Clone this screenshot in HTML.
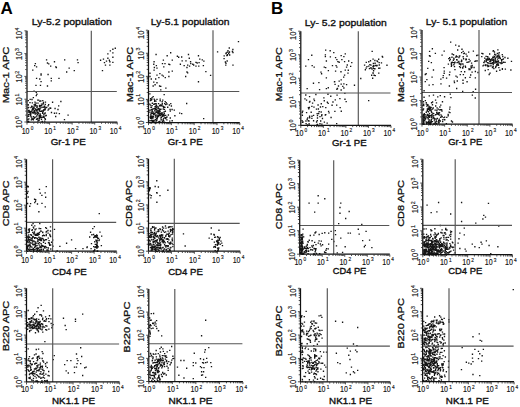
<!DOCTYPE html>
<html><head><meta charset="utf-8"><style>html,body{margin:0;padding:0;background:#fff;width:520px;height:407px;overflow:hidden}</style></head>
<body>
<svg xmlns="http://www.w3.org/2000/svg" width="520" height="407" viewBox="0 0 520 407" style="position:absolute;left:0;top:0">
<rect width="520" height="407" fill="#fff"/>
<text x="0.6" y="14.1" font-family='"Liberation Sans", sans-serif' font-weight="700" font-size="17" fill="#000">A</text>
<text x="271" y="14.1" font-family='"Liberation Sans", sans-serif' font-weight="700" font-size="17" fill="#000">B</text>
<path d="M39.9 115.7h1.35v1.35h-1.35zM44.0 113.2h1.35v1.35h-1.35zM39.8 105.0h1.35v1.35h-1.35zM28.5 110.1h1.35v1.35h-1.35zM44.7 118.6h1.35v1.35h-1.35zM40.8 103.5h1.35v1.35h-1.35zM32.4 106.2h1.35v1.35h-1.35zM41.9 112.7h1.35v1.35h-1.35zM40.1 100.3h1.35v1.35h-1.35zM39.5 113.3h1.35v1.35h-1.35zM37.2 108.6h1.35v1.35h-1.35zM41.6 121.2h1.35v1.35h-1.35zM30.7 119.2h1.35v1.35h-1.35zM35.6 91.7h1.35v1.35h-1.35zM32.9 112.3h1.35v1.35h-1.35zM42.1 99.9h1.35v1.35h-1.35zM37.3 120.3h1.35v1.35h-1.35zM34.5 113.3h1.35v1.35h-1.35zM30.4 116.1h1.35v1.35h-1.35zM34.8 104.0h1.35v1.35h-1.35zM37.1 117.9h1.35v1.35h-1.35zM34.7 116.4h1.35v1.35h-1.35zM48.0 104.0h1.35v1.35h-1.35zM45.6 114.8h1.35v1.35h-1.35zM40.4 107.0h1.35v1.35h-1.35zM33.5 111.8h1.35v1.35h-1.35zM35.5 102.5h1.35v1.35h-1.35zM33.4 117.6h1.35v1.35h-1.35zM38.8 104.7h1.35v1.35h-1.35zM38.8 109.8h1.35v1.35h-1.35zM55.0 115.8h1.35v1.35h-1.35zM27.5 107.1h1.35v1.35h-1.35zM33.8 110.2h1.35v1.35h-1.35zM54.4 107.8h1.35v1.35h-1.35zM42.5 111.0h1.35v1.35h-1.35zM42.6 103.2h1.35v1.35h-1.35zM32.6 108.7h1.35v1.35h-1.35zM31.4 110.4h1.35v1.35h-1.35zM38.4 109.5h1.35v1.35h-1.35zM37.9 112.4h1.35v1.35h-1.35zM27.8 109.8h1.35v1.35h-1.35zM31.2 117.6h1.35v1.35h-1.35zM36.4 109.6h1.35v1.35h-1.35zM29.0 111.0h1.35v1.35h-1.35zM36.2 107.0h1.35v1.35h-1.35zM37.8 108.1h1.35v1.35h-1.35zM37.3 102.5h1.35v1.35h-1.35zM32.7 115.9h1.35v1.35h-1.35zM42.0 103.4h1.35v1.35h-1.35zM44.6 106.4h1.35v1.35h-1.35zM39.7 114.7h1.35v1.35h-1.35zM30.0 115.0h1.35v1.35h-1.35zM43.2 109.0h1.35v1.35h-1.35zM32.7 96.9h1.35v1.35h-1.35zM44.5 115.2h1.35v1.35h-1.35zM27.9 113.9h1.35v1.35h-1.35zM44.8 101.4h1.35v1.35h-1.35zM36.8 117.8h1.35v1.35h-1.35zM28.0 106.7h1.35v1.35h-1.35zM34.3 103.6h1.35v1.35h-1.35zM37.5 112.7h1.35v1.35h-1.35zM39.3 110.7h1.35v1.35h-1.35zM28.7 113.5h1.35v1.35h-1.35zM27.6 100.0h1.35v1.35h-1.35zM38.7 118.0h1.35v1.35h-1.35zM33.0 107.5h1.35v1.35h-1.35zM39.0 100.5h1.35v1.35h-1.35zM43.5 116.6h1.35v1.35h-1.35zM31.4 109.3h1.35v1.35h-1.35zM39.2 114.4h1.35v1.35h-1.35zM47.4 109.5h1.35v1.35h-1.35zM34.5 111.6h1.35v1.35h-1.35zM30.1 113.8h1.35v1.35h-1.35zM43.4 106.4h1.35v1.35h-1.35zM39.2 117.1h1.35v1.35h-1.35zM44.6 108.5h1.35v1.35h-1.35zM34.1 105.5h1.35v1.35h-1.35zM30.0 112.6h1.35v1.35h-1.35zM36.1 115.3h1.35v1.35h-1.35zM33.2 110.3h1.35v1.35h-1.35zM43.6 105.5h1.35v1.35h-1.35zM38.6 116.6h1.35v1.35h-1.35zM31.3 98.8h1.35v1.35h-1.35zM27.6 104.3h1.35v1.35h-1.35zM44.5 112.3h1.35v1.35h-1.35zM42.8 101.8h1.35v1.35h-1.35zM31.6 112.2h1.35v1.35h-1.35zM37.0 111.6h1.35v1.35h-1.35zM40.8 118.7h1.35v1.35h-1.35zM41.0 105.1h1.35v1.35h-1.35zM44.4 107.3h1.35v1.35h-1.35zM39.2 114.5h1.35v1.35h-1.35zM36.2 93.6h1.35v1.35h-1.35zM34.8 108.3h1.35v1.35h-1.35zM46.0 106.8h1.35v1.35h-1.35zM36.5 106.5h1.35v1.35h-1.35zM35.8 118.5h1.35v1.35h-1.35zM37.3 111.7h1.35v1.35h-1.35zM29.5 98.7h1.35v1.35h-1.35zM39.8 116.7h1.35v1.35h-1.35zM31.5 118.4h1.35v1.35h-1.35zM44.3 108.6h1.35v1.35h-1.35zM35.9 109.9h1.35v1.35h-1.35zM42.7 115.6h1.35v1.35h-1.35zM47.4 105.2h1.35v1.35h-1.35zM40.3 115.3h1.35v1.35h-1.35zM29.6 113.5h1.35v1.35h-1.35zM30.3 106.9h1.35v1.35h-1.35zM51.9 101.6h1.35v1.35h-1.35zM36.1 110.3h1.35v1.35h-1.35zM31.1 105.4h1.35v1.35h-1.35zM38.2 119.5h1.35v1.35h-1.35zM35.4 113.1h1.35v1.35h-1.35zM44.2 117.9h1.35v1.35h-1.35zM37.3 113.0h1.35v1.35h-1.35zM37.1 114.0h1.35v1.35h-1.35zM30.9 106.1h1.35v1.35h-1.35zM41.0 117.0h1.35v1.35h-1.35zM28.2 118.2h1.35v1.35h-1.35zM42.7 109.7h1.35v1.35h-1.35zM50.0 107.6h1.35v1.35h-1.35zM30.4 110.8h1.35v1.35h-1.35zM38.4 108.4h1.35v1.35h-1.35zM42.2 106.7h1.35v1.35h-1.35zM58.7 113.0h1.35v1.35h-1.35zM28.5 109.8h1.35v1.35h-1.35zM28.0 120.8h1.35v1.35h-1.35zM42.0 112.0h1.35v1.35h-1.35zM29.9 114.4h1.35v1.35h-1.35zM32.7 119.1h1.35v1.35h-1.35zM34.0 109.7h1.35v1.35h-1.35zM41.5 120.8h1.35v1.35h-1.35zM33.6 107.3h1.35v1.35h-1.35zM39.4 105.9h1.35v1.35h-1.35zM35.5 109.3h1.35v1.35h-1.35zM29.8 111.1h1.35v1.35h-1.35zM34.3 101.5h1.35v1.35h-1.35zM28.9 111.7h1.35v1.35h-1.35zM37.1 99.5h1.35v1.35h-1.35zM27.4 121.2h1.35v1.35h-1.35zM27.7 111.4h1.35v1.35h-1.35zM49.4 107.2h1.35v1.35h-1.35zM36.5 105.2h1.35v1.35h-1.35zM36.5 109.1h1.35v1.35h-1.35zM41.3 110.3h1.35v1.35h-1.35zM33.4 104.2h1.35v1.35h-1.35zM35.1 105.1h1.35v1.35h-1.35zM40.6 110.6h1.35v1.35h-1.35zM39.4 108.1h1.35v1.35h-1.35zM27.3 119.0h1.35v1.35h-1.35zM44.1 120.5h1.35v1.35h-1.35zM32.0 112.1h1.35v1.35h-1.35zM28.0 115.6h1.35v1.35h-1.35zM29.3 102.0h1.35v1.35h-1.35zM33.7 116.8h1.35v1.35h-1.35zM50.8 111.8h1.35v1.35h-1.35zM27.4 115.6h1.35v1.35h-1.35zM38.4 119.6h1.35v1.35h-1.35zM35.6 94.9h1.35v1.35h-1.35zM37.0 114.0h1.35v1.35h-1.35zM44.6 103.8h1.35v1.35h-1.35zM35.0 116.4h1.35v1.35h-1.35zM31.7 102.2h1.35v1.35h-1.35zM39.0 108.3h1.35v1.35h-1.35zM43.0 113.5h1.35v1.35h-1.35zM42.6 116.6h1.35v1.35h-1.35zM53.8 112.6h1.35v1.35h-1.35zM38.8 106.1h1.35v1.35h-1.35zM32.0 107.8h1.35v1.35h-1.35zM35.9 118.6h1.35v1.35h-1.35zM36.4 112.0h1.35v1.35h-1.35zM37.9 99.4h1.35v1.35h-1.35zM36.7 118.3h1.35v1.35h-1.35zM38.5 115.1h1.35v1.35h-1.35zM31.6 118.6h1.35v1.35h-1.35zM44.1 109.5h1.35v1.35h-1.35zM32.1 118.2h1.35v1.35h-1.35zM27.4 104.0h1.35v1.35h-1.35zM42.4 116.3h1.35v1.35h-1.35zM48.2 108.3h1.35v1.35h-1.35zM45.9 59.2h1.35v1.35h-1.35zM53.8 61.1h1.35v1.35h-1.35zM64.0 59.2h1.35v1.35h-1.35zM76.8 59.2h1.35v1.35h-1.35zM77.4 62.0h1.35v1.35h-1.35zM46.8 62.3h1.35v1.35h-1.35zM48.1 63.2h1.35v1.35h-1.35zM34.7 63.0h1.35v1.35h-1.35zM35.9 66.2h1.35v1.35h-1.35zM34.0 64.9h1.35v1.35h-1.35zM32.1 69.4h1.35v1.35h-1.35zM50.0 65.5h1.35v1.35h-1.35zM55.1 66.2h1.35v1.35h-1.35zM55.7 66.8h1.35v1.35h-1.35zM68.5 67.5h1.35v1.35h-1.35zM66.0 71.3h1.35v1.35h-1.35zM73.6 70.0h1.35v1.35h-1.35zM40.4 73.2h1.35v1.35h-1.35zM40.4 74.5h1.35v1.35h-1.35zM47.4 73.8h1.35v1.35h-1.35zM35.9 77.7h1.35v1.35h-1.35zM39.1 78.3h1.35v1.35h-1.35zM40.4 80.9h1.35v1.35h-1.35zM50.6 77.7h1.35v1.35h-1.35zM50.6 80.2h1.35v1.35h-1.35zM58.3 77.7h1.35v1.35h-1.35zM35.3 84.7h1.35v1.35h-1.35zM39.8 84.7h1.35v1.35h-1.35zM46.8 85.3h1.35v1.35h-1.35zM33.4 90.4h1.35v1.35h-1.35zM114.6 47.6h1.35v1.35h-1.35zM112.2 48.6h1.35v1.35h-1.35zM109.7 50.2h1.35v1.35h-1.35zM107.2 53.2h1.35v1.35h-1.35zM112.2 52.2h1.35v1.35h-1.35zM112.2 56.6h1.35v1.35h-1.35zM107.2 57.6h1.35v1.35h-1.35zM102.8 58.4h1.35v1.35h-1.35zM99.9 59.6h1.35v1.35h-1.35zM105.8 60.4h1.35v1.35h-1.35zM108.7 59.6h1.35v1.35h-1.35zM109.2 61.1h1.35v1.35h-1.35zM103.8 62.0h1.35v1.35h-1.35zM112.2 61.7h1.35v1.35h-1.35zM104.8 64.5h1.35v1.35h-1.35zM109.2 64.5h1.35v1.35h-1.35zM101.8 69.9h1.35v1.35h-1.35zM60.2 100.8h1.35v1.35h-1.35zM58.0 105.2h1.35v1.35h-1.35zM57.3 108.8h1.35v1.35h-1.35zM55.8 112.4h1.35v1.35h-1.35zM67.4 114.5h1.35v1.35h-1.35zM63.8 118.9h1.35v1.35h-1.35z" fill="#151515"/>
<path d="M91.3 30.8V122.0M27.0 91.5H116.8" stroke="#555" stroke-width="1.15" fill="none"/>
<path d="M27.0 30.8V122.0H117.3" stroke="#111" stroke-width="1.25" fill="none"/>
<path d="M27.00 122.40v2.2M26.60 122.00h-2.2M33.80 122.40v1.4M26.60 115.14h-1.4M37.77 122.40v1.4M26.60 111.12h-1.4M40.59 122.40v1.4M26.60 108.27h-1.4M42.78 122.40v1.4M26.60 106.06h-1.4M44.57 122.40v1.4M26.60 104.26h-1.4M46.08 122.40v1.4M26.60 102.73h-1.4M47.39 122.40v1.4M26.60 101.41h-1.4M48.54 122.40v1.4M26.60 100.24h-1.4M49.58 122.40v2.2M26.60 99.20h-2.2M56.37 122.40v1.4M26.60 92.34h-1.4M60.35 122.40v1.4M26.60 88.32h-1.4M63.17 122.40v1.4M26.60 85.47h-1.4M65.35 122.40v1.4M26.60 83.26h-1.4M67.14 122.40v1.4M26.60 81.46h-1.4M68.65 122.40v1.4M26.60 79.93h-1.4M69.96 122.40v1.4M26.60 78.61h-1.4M71.12 122.40v1.4M26.60 77.44h-1.4M72.15 122.40v2.2M26.60 76.40h-2.2M78.95 122.40v1.4M26.60 69.54h-1.4M82.92 122.40v1.4M26.60 65.52h-1.4M85.74 122.40v1.4M26.60 62.67h-1.4M87.93 122.40v1.4M26.60 60.46h-1.4M89.72 122.40v1.4M26.60 58.66h-1.4M91.23 122.40v1.4M26.60 57.13h-1.4M92.54 122.40v1.4M26.60 55.81h-1.4M93.69 122.40v1.4M26.60 54.64h-1.4M94.72 122.40v2.2M26.60 53.60h-2.2M101.52 122.40v1.4M26.60 46.74h-1.4M105.50 122.40v1.4M26.60 42.72h-1.4M108.32 122.40v1.4M26.60 39.87h-1.4M110.50 122.40v1.4M26.60 37.66h-1.4M112.29 122.40v1.4M26.60 35.86h-1.4M113.80 122.40v1.4M26.60 34.33h-1.4M115.11 122.40v1.4M26.60 33.01h-1.4M116.27 122.40v1.4M26.60 31.84h-1.4M117.30 122.40v2.2M26.60 30.80h-2.2" stroke="#222" stroke-width="0.8" fill="none"/>
<text transform="translate(21.7,133.5) scale(0.82,1)" font-family='"Liberation Sans", sans-serif' font-size="8.6" fill="#111" stroke="#111" stroke-width="0.15">10<tspan font-size="5.8" dx="1.4" dy="-3.3">0</tspan></text>
<text transform="translate(22.0,128.4) rotate(-90) scale(0.9,1)" font-family='"Liberation Sans", sans-serif' font-size="8.4" fill="#111" stroke="#111" stroke-width="0.15">10<tspan font-size="5.8" dx="0.8" dy="-3.1">0</tspan></text>
<text transform="translate(44.3,133.5) scale(0.82,1)" font-family='"Liberation Sans", sans-serif' font-size="8.6" fill="#111" stroke="#111" stroke-width="0.15">10<tspan font-size="5.8" dx="1.4" dy="-3.3">1</tspan></text>
<text transform="translate(22.0,105.6) rotate(-90) scale(0.9,1)" font-family='"Liberation Sans", sans-serif' font-size="8.4" fill="#111" stroke="#111" stroke-width="0.15">10<tspan font-size="5.8" dx="0.8" dy="-3.1">1</tspan></text>
<text transform="translate(66.9,133.5) scale(0.82,1)" font-family='"Liberation Sans", sans-serif' font-size="8.6" fill="#111" stroke="#111" stroke-width="0.15">10<tspan font-size="5.8" dx="1.4" dy="-3.3">2</tspan></text>
<text transform="translate(22.0,82.8) rotate(-90) scale(0.9,1)" font-family='"Liberation Sans", sans-serif' font-size="8.4" fill="#111" stroke="#111" stroke-width="0.15">10<tspan font-size="5.8" dx="0.8" dy="-3.1">2</tspan></text>
<text transform="translate(89.4,133.5) scale(0.82,1)" font-family='"Liberation Sans", sans-serif' font-size="8.6" fill="#111" stroke="#111" stroke-width="0.15">10<tspan font-size="5.8" dx="1.4" dy="-3.3">3</tspan></text>
<text transform="translate(22.0,60.0) rotate(-90) scale(0.9,1)" font-family='"Liberation Sans", sans-serif' font-size="8.4" fill="#111" stroke="#111" stroke-width="0.15">10<tspan font-size="5.8" dx="0.8" dy="-3.1">3</tspan></text>
<text transform="translate(109.8,133.5) scale(0.82,1)" font-family='"Liberation Sans", sans-serif' font-size="8.6" fill="#111" stroke="#111" stroke-width="0.15">10<tspan font-size="5.8" dx="1.4" dy="-3.3">4</tspan></text>
<text transform="translate(22.0,39.5) rotate(-90) scale(0.9,1)" font-family='"Liberation Sans", sans-serif' font-size="8.4" fill="#111" stroke="#111" stroke-width="0.15">10<tspan font-size="5.8" dx="0.8" dy="-3.1">4</tspan></text>
<text x="50.65" y="145.35" font-family='"Liberation Sans", sans-serif' font-size="9.8" textLength="35.20" lengthAdjust="spacingAndGlyphs" fill="#111" stroke="#111" stroke-width="0.38">Gr-1 PE</text>
<text transform="translate(9.25,103.35) rotate(-90)" font-family='"Liberation Sans", sans-serif' font-size="9.2" textLength="56.83" lengthAdjust="spacingAndGlyphs" fill="#111" stroke="#111" stroke-width="0.3">Mac-1 APC</text>
<text x="31.70" y="25.30" font-family='"Liberation Sans", sans-serif' font-size="9.8" textLength="80.20" lengthAdjust="spacingAndGlyphs" fill="#111" stroke="#111" stroke-width="0.35">Ly-5.2 population</text>
<path d="M158.3 109.8h1.35v1.35h-1.35zM153.3 121.1h1.35v1.35h-1.35zM154.1 112.9h1.35v1.35h-1.35zM157.5 112.5h1.35v1.35h-1.35zM169.6 110.3h1.35v1.35h-1.35zM165.0 117.2h1.35v1.35h-1.35zM154.7 114.6h1.35v1.35h-1.35zM162.4 114.0h1.35v1.35h-1.35zM159.0 105.1h1.35v1.35h-1.35zM153.1 120.3h1.35v1.35h-1.35zM163.8 121.5h1.35v1.35h-1.35zM154.8 102.9h1.35v1.35h-1.35zM154.7 116.5h1.35v1.35h-1.35zM151.5 117.1h1.35v1.35h-1.35zM160.2 108.6h1.35v1.35h-1.35zM156.3 98.7h1.35v1.35h-1.35zM160.8 116.6h1.35v1.35h-1.35zM152.7 115.9h1.35v1.35h-1.35zM157.9 107.8h1.35v1.35h-1.35zM150.8 99.5h1.35v1.35h-1.35zM162.9 119.9h1.35v1.35h-1.35zM158.3 107.9h1.35v1.35h-1.35zM159.3 108.7h1.35v1.35h-1.35zM159.9 112.7h1.35v1.35h-1.35zM149.9 117.7h1.35v1.35h-1.35zM162.5 118.7h1.35v1.35h-1.35zM171.4 108.8h1.35v1.35h-1.35zM151.9 116.5h1.35v1.35h-1.35zM152.5 96.0h1.35v1.35h-1.35zM150.9 112.7h1.35v1.35h-1.35zM162.9 106.7h1.35v1.35h-1.35zM157.9 103.0h1.35v1.35h-1.35zM164.5 100.9h1.35v1.35h-1.35zM162.1 115.7h1.35v1.35h-1.35zM158.5 112.6h1.35v1.35h-1.35zM159.0 113.1h1.35v1.35h-1.35zM155.8 117.9h1.35v1.35h-1.35zM163.1 106.1h1.35v1.35h-1.35zM149.1 103.4h1.35v1.35h-1.35zM154.0 99.6h1.35v1.35h-1.35zM158.7 109.7h1.35v1.35h-1.35zM169.6 117.3h1.35v1.35h-1.35zM151.6 111.0h1.35v1.35h-1.35zM149.4 116.5h1.35v1.35h-1.35zM153.1 103.7h1.35v1.35h-1.35zM163.8 108.7h1.35v1.35h-1.35zM155.4 106.6h1.35v1.35h-1.35zM166.3 103.3h1.35v1.35h-1.35zM153.5 119.6h1.35v1.35h-1.35zM164.9 118.0h1.35v1.35h-1.35zM164.2 106.7h1.35v1.35h-1.35zM150.3 106.6h1.35v1.35h-1.35zM158.1 111.6h1.35v1.35h-1.35zM165.5 101.9h1.35v1.35h-1.35zM157.6 115.1h1.35v1.35h-1.35zM164.0 102.9h1.35v1.35h-1.35zM173.6 109.4h1.35v1.35h-1.35zM158.9 104.8h1.35v1.35h-1.35zM155.0 108.6h1.35v1.35h-1.35zM151.6 102.7h1.35v1.35h-1.35zM161.5 101.0h1.35v1.35h-1.35zM155.6 105.2h1.35v1.35h-1.35zM155.7 107.2h1.35v1.35h-1.35zM156.3 109.9h1.35v1.35h-1.35zM161.5 112.5h1.35v1.35h-1.35zM149.5 121.9h1.35v1.35h-1.35zM151.1 117.7h1.35v1.35h-1.35zM157.4 110.2h1.35v1.35h-1.35zM165.4 117.1h1.35v1.35h-1.35zM157.5 107.2h1.35v1.35h-1.35zM167.6 122.1h1.35v1.35h-1.35zM156.9 115.8h1.35v1.35h-1.35zM151.8 102.5h1.35v1.35h-1.35zM160.3 117.3h1.35v1.35h-1.35zM156.5 117.7h1.35v1.35h-1.35zM149.2 93.2h1.35v1.35h-1.35zM150.8 106.8h1.35v1.35h-1.35zM169.4 108.7h1.35v1.35h-1.35zM159.5 98.5h1.35v1.35h-1.35zM159.9 104.5h1.35v1.35h-1.35zM155.1 105.4h1.35v1.35h-1.35zM152.2 115.5h1.35v1.35h-1.35zM163.2 114.1h1.35v1.35h-1.35zM156.3 114.2h1.35v1.35h-1.35zM151.7 109.2h1.35v1.35h-1.35zM156.1 120.1h1.35v1.35h-1.35zM150.7 112.6h1.35v1.35h-1.35zM158.3 113.9h1.35v1.35h-1.35zM164.9 103.9h1.35v1.35h-1.35zM151.1 98.6h1.35v1.35h-1.35zM167.0 106.6h1.35v1.35h-1.35zM152.3 117.3h1.35v1.35h-1.35zM158.1 121.5h1.35v1.35h-1.35zM151.1 116.2h1.35v1.35h-1.35zM155.4 115.5h1.35v1.35h-1.35zM157.3 106.1h1.35v1.35h-1.35zM154.0 121.9h1.35v1.35h-1.35zM152.1 121.4h1.35v1.35h-1.35zM152.3 108.3h1.35v1.35h-1.35zM151.3 111.7h1.35v1.35h-1.35zM151.4 105.0h1.35v1.35h-1.35zM155.2 122.3h1.35v1.35h-1.35zM159.8 114.8h1.35v1.35h-1.35zM163.4 111.3h1.35v1.35h-1.35zM161.5 114.8h1.35v1.35h-1.35zM174.2 115.1h1.35v1.35h-1.35zM159.2 109.1h1.35v1.35h-1.35zM153.8 103.3h1.35v1.35h-1.35zM170.1 103.0h1.35v1.35h-1.35zM149.7 99.8h1.35v1.35h-1.35zM163.8 115.2h1.35v1.35h-1.35zM150.3 117.1h1.35v1.35h-1.35zM159.5 100.1h1.35v1.35h-1.35zM154.2 113.0h1.35v1.35h-1.35zM163.3 114.9h1.35v1.35h-1.35zM155.9 105.1h1.35v1.35h-1.35zM150.2 113.4h1.35v1.35h-1.35zM168.7 104.3h1.35v1.35h-1.35zM162.4 120.4h1.35v1.35h-1.35zM157.3 107.8h1.35v1.35h-1.35zM151.8 112.7h1.35v1.35h-1.35zM156.7 116.8h1.35v1.35h-1.35zM155.9 109.0h1.35v1.35h-1.35zM162.1 99.5h1.35v1.35h-1.35zM162.6 108.3h1.35v1.35h-1.35zM152.3 117.3h1.35v1.35h-1.35zM153.2 111.4h1.35v1.35h-1.35zM153.3 113.6h1.35v1.35h-1.35zM149.8 104.4h1.35v1.35h-1.35zM152.9 113.0h1.35v1.35h-1.35zM156.4 117.1h1.35v1.35h-1.35zM161.8 112.3h1.35v1.35h-1.35zM166.2 119.2h1.35v1.35h-1.35zM151.3 110.5h1.35v1.35h-1.35zM160.9 104.7h1.35v1.35h-1.35zM153.9 100.7h1.35v1.35h-1.35zM171.5 120.1h1.35v1.35h-1.35zM156.7 111.6h1.35v1.35h-1.35zM160.5 119.1h1.35v1.35h-1.35zM150.4 115.2h1.35v1.35h-1.35zM151.3 121.2h1.35v1.35h-1.35zM158.4 120.9h1.35v1.35h-1.35zM154.3 109.4h1.35v1.35h-1.35zM159.5 113.9h1.35v1.35h-1.35zM151.3 119.6h1.35v1.35h-1.35zM161.6 103.3h1.35v1.35h-1.35zM150.7 122.2h1.35v1.35h-1.35zM169.1 120.5h1.35v1.35h-1.35zM155.0 118.9h1.35v1.35h-1.35zM164.7 110.6h1.35v1.35h-1.35zM150.2 114.1h1.35v1.35h-1.35zM160.0 104.2h1.35v1.35h-1.35zM150.8 112.4h1.35v1.35h-1.35zM153.6 107.9h1.35v1.35h-1.35zM157.2 112.6h1.35v1.35h-1.35zM154.8 108.5h1.35v1.35h-1.35zM158.8 114.0h1.35v1.35h-1.35zM162.2 120.3h1.35v1.35h-1.35zM161.6 102.8h1.35v1.35h-1.35zM156.4 118.5h1.35v1.35h-1.35zM149.9 98.1h1.35v1.35h-1.35zM151.4 96.9h1.35v1.35h-1.35zM155.6 111.2h1.35v1.35h-1.35zM155.3 112.0h1.35v1.35h-1.35zM162.3 115.1h1.35v1.35h-1.35zM155.3 100.5h1.35v1.35h-1.35zM155.2 111.6h1.35v1.35h-1.35zM163.6 112.9h1.35v1.35h-1.35zM161.7 120.8h1.35v1.35h-1.35zM158.5 111.3h1.35v1.35h-1.35zM150.0 115.7h1.35v1.35h-1.35zM159.2 105.2h1.35v1.35h-1.35zM159.4 110.7h1.35v1.35h-1.35zM150.8 108.9h1.35v1.35h-1.35zM164.3 116.9h1.35v1.35h-1.35zM160.6 105.1h1.35v1.35h-1.35zM154.2 106.2h1.35v1.35h-1.35zM157.9 116.0h1.35v1.35h-1.35zM149.3 120.1h1.35v1.35h-1.35zM165.0 114.7h1.35v1.35h-1.35zM162.6 114.1h1.35v1.35h-1.35zM149.3 109.6h1.35v1.35h-1.35zM150.8 119.6h1.35v1.35h-1.35zM157.7 115.8h1.35v1.35h-1.35zM155.3 120.5h1.35v1.35h-1.35zM167.7 114.3h1.35v1.35h-1.35zM162.2 105.4h1.35v1.35h-1.35zM155.0 108.0h1.35v1.35h-1.35zM161.0 105.1h1.35v1.35h-1.35zM154.6 103.2h1.35v1.35h-1.35zM159.2 120.8h1.35v1.35h-1.35zM163.1 117.7h1.35v1.35h-1.35zM155.7 103.3h1.35v1.35h-1.35zM152.0 120.1h1.35v1.35h-1.35zM161.0 113.7h1.35v1.35h-1.35zM170.7 105.3h1.35v1.35h-1.35zM158.4 114.7h1.35v1.35h-1.35zM149.2 111.5h1.35v1.35h-1.35zM167.1 106.6h1.35v1.35h-1.35zM153.5 98.4h1.35v1.35h-1.35zM160.5 112.3h1.35v1.35h-1.35zM152.9 114.0h1.35v1.35h-1.35zM163.5 93.9h1.35v1.35h-1.35zM151.1 115.9h1.35v1.35h-1.35zM166.3 116.3h1.35v1.35h-1.35zM159.1 108.7h1.35v1.35h-1.35zM152.5 112.8h1.35v1.35h-1.35zM154.2 110.0h1.35v1.35h-1.35zM155.4 53.8h1.35v1.35h-1.35zM170.0 52.1h1.35v1.35h-1.35zM166.5 55.1h1.35v1.35h-1.35zM176.7 55.6h1.35v1.35h-1.35zM178.0 56.6h1.35v1.35h-1.35zM181.0 56.3h1.35v1.35h-1.35zM187.8 53.8h1.35v1.35h-1.35zM188.6 57.6h1.35v1.35h-1.35zM197.8 55.1h1.35v1.35h-1.35zM199.1 58.5h1.35v1.35h-1.35zM201.6 59.2h1.35v1.35h-1.35zM203.2 60.4h1.35v1.35h-1.35zM162.7 59.4h1.35v1.35h-1.35zM171.6 59.4h1.35v1.35h-1.35zM153.4 61.1h1.35v1.35h-1.35zM161.8 63.0h1.35v1.35h-1.35zM164.3 63.0h1.35v1.35h-1.35zM168.2 63.6h1.35v1.35h-1.35zM169.1 64.0h1.35v1.35h-1.35zM179.7 63.6h1.35v1.35h-1.35zM181.5 60.2h1.35v1.35h-1.35zM185.3 60.2h1.35v1.35h-1.35zM189.9 61.1h1.35v1.35h-1.35zM190.1 63.0h1.35v1.35h-1.35zM192.1 63.6h1.35v1.35h-1.35zM193.0 64.3h1.35v1.35h-1.35zM195.3 61.7h1.35v1.35h-1.35zM196.5 62.3h1.35v1.35h-1.35zM198.4 62.0h1.35v1.35h-1.35zM183.5 64.9h1.35v1.35h-1.35zM187.0 64.5h1.35v1.35h-1.35zM188.9 65.5h1.35v1.35h-1.35zM186.3 66.8h1.35v1.35h-1.35zM195.3 65.5h1.35v1.35h-1.35zM198.1 65.5h1.35v1.35h-1.35zM202.7 64.9h1.35v1.35h-1.35zM153.1 63.6h1.35v1.35h-1.35zM155.7 64.9h1.35v1.35h-1.35zM153.7 66.8h1.35v1.35h-1.35zM156.3 67.5h1.35v1.35h-1.35zM153.4 69.4h1.35v1.35h-1.35zM163.1 66.2h1.35v1.35h-1.35zM171.6 70.4h1.35v1.35h-1.35zM168.2 71.3h1.35v1.35h-1.35zM186.3 71.3h1.35v1.35h-1.35zM187.0 72.2h1.35v1.35h-1.35zM205.2 70.9h1.35v1.35h-1.35zM209.9 74.7h1.35v1.35h-1.35zM185.0 75.8h1.35v1.35h-1.35zM197.8 81.1h1.35v1.35h-1.35zM159.2 73.0h1.35v1.35h-1.35zM156.3 74.5h1.35v1.35h-1.35zM158.2 77.0h1.35v1.35h-1.35zM161.4 74.5h1.35v1.35h-1.35zM162.7 75.5h1.35v1.35h-1.35zM164.6 77.0h1.35v1.35h-1.35zM168.2 75.8h1.35v1.35h-1.35zM150.6 78.3h1.35v1.35h-1.35zM155.0 78.3h1.35v1.35h-1.35zM153.1 81.5h1.35v1.35h-1.35zM156.3 82.1h1.35v1.35h-1.35zM154.4 84.1h1.35v1.35h-1.35zM152.5 85.3h1.35v1.35h-1.35zM158.9 85.3h1.35v1.35h-1.35zM160.1 85.7h1.35v1.35h-1.35zM160.1 89.2h1.35v1.35h-1.35zM165.2 87.5h1.35v1.35h-1.35zM149.3 75.8h1.35v1.35h-1.35zM149.3 72.6h1.35v1.35h-1.35zM225.3 62.6h1.35v1.35h-1.35zM226.8 54.1h1.35v1.35h-1.35zM232.3 64.5h1.35v1.35h-1.35zM223.4 58.0h1.35v1.35h-1.35zM228.8 51.3h1.35v1.35h-1.35zM228.6 47.3h1.35v1.35h-1.35zM225.7 52.2h1.35v1.35h-1.35zM226.6 54.6h1.35v1.35h-1.35zM223.5 55.2h1.35v1.35h-1.35zM225.3 52.8h1.35v1.35h-1.35zM228.0 53.0h1.35v1.35h-1.35zM229.0 54.3h1.35v1.35h-1.35zM225.1 64.5h1.35v1.35h-1.35zM237.8 41.0h1.35v1.35h-1.35zM226.2 55.0h1.35v1.35h-1.35zM228.4 51.6h1.35v1.35h-1.35zM227.3 50.0h1.35v1.35h-1.35zM226.7 51.5h1.35v1.35h-1.35zM232.2 48.8h1.35v1.35h-1.35zM226.5 60.3h1.35v1.35h-1.35zM232.3 51.8h1.35v1.35h-1.35zM231.7 50.8h1.35v1.35h-1.35zM224.7 61.3h1.35v1.35h-1.35zM216.9 51.2h1.35v1.35h-1.35zM186.0 102.8h1.35v1.35h-1.35zM179.0 112.4h1.35v1.35h-1.35zM181.0 113.0h1.35v1.35h-1.35zM203.0 118.0h1.35v1.35h-1.35z" fill="#151515"/>
<path d="M213.0 30.2V122.5M148.5 91.5H239.3" stroke="#555" stroke-width="1.15" fill="none"/>
<path d="M148.5 30.2V122.5H239.8" stroke="#111" stroke-width="1.25" fill="none"/>
<path d="M148.50 122.90v2.2M148.10 122.50h-2.2M155.37 122.90v1.4M148.10 115.55h-1.4M159.39 122.90v1.4M148.10 111.49h-1.4M162.24 122.90v1.4M148.10 108.61h-1.4M164.45 122.90v1.4M148.10 106.37h-1.4M166.26 122.90v1.4M148.10 104.54h-1.4M167.79 122.90v1.4M148.10 103.00h-1.4M169.11 122.90v1.4M148.10 101.66h-1.4M170.28 122.90v1.4M148.10 100.48h-1.4M171.32 122.90v2.2M148.10 99.42h-2.2M178.20 122.90v1.4M148.10 92.48h-1.4M182.22 122.90v1.4M148.10 88.42h-1.4M185.07 122.90v1.4M148.10 85.53h-1.4M187.28 122.90v1.4M148.10 83.30h-1.4M189.09 122.90v1.4M148.10 81.47h-1.4M190.61 122.90v1.4M148.10 79.92h-1.4M191.94 122.90v1.4M148.10 78.59h-1.4M193.11 122.90v1.4M148.10 77.41h-1.4M194.15 122.90v2.2M148.10 76.35h-2.2M201.02 122.90v1.4M148.10 69.40h-1.4M205.04 122.90v1.4M148.10 65.34h-1.4M207.89 122.90v1.4M148.10 62.46h-1.4M210.10 122.90v1.4M148.10 60.22h-1.4M211.91 122.90v1.4M148.10 58.39h-1.4M213.44 122.90v1.4M148.10 56.85h-1.4M214.76 122.90v1.4M148.10 55.51h-1.4M215.93 122.90v1.4M148.10 54.33h-1.4M216.98 122.90v2.2M148.10 53.28h-2.2M223.85 122.90v1.4M148.10 46.33h-1.4M227.87 122.90v1.4M148.10 42.27h-1.4M230.72 122.90v1.4M148.10 39.38h-1.4M232.93 122.90v1.4M148.10 37.15h-1.4M234.74 122.90v1.4M148.10 35.32h-1.4M236.26 122.90v1.4M148.10 33.77h-1.4M237.59 122.90v1.4M148.10 32.44h-1.4M238.76 122.90v1.4M148.10 31.26h-1.4M239.80 122.90v2.2M148.10 30.20h-2.2" stroke="#222" stroke-width="0.8" fill="none"/>
<text transform="translate(143.2,133.5) scale(0.82,1)" font-family='"Liberation Sans", sans-serif' font-size="8.6" fill="#111" stroke="#111" stroke-width="0.15">10<tspan font-size="5.8" dx="1.4" dy="-3.3">0</tspan></text>
<text transform="translate(143.5,128.9) rotate(-90) scale(0.9,1)" font-family='"Liberation Sans", sans-serif' font-size="8.4" fill="#111" stroke="#111" stroke-width="0.15">10<tspan font-size="5.8" dx="0.8" dy="-3.1">0</tspan></text>
<text transform="translate(166.0,133.5) scale(0.82,1)" font-family='"Liberation Sans", sans-serif' font-size="8.6" fill="#111" stroke="#111" stroke-width="0.15">10<tspan font-size="5.8" dx="1.4" dy="-3.3">1</tspan></text>
<text transform="translate(143.5,105.8) rotate(-90) scale(0.9,1)" font-family='"Liberation Sans", sans-serif' font-size="8.4" fill="#111" stroke="#111" stroke-width="0.15">10<tspan font-size="5.8" dx="0.8" dy="-3.1">1</tspan></text>
<text transform="translate(188.8,133.5) scale(0.82,1)" font-family='"Liberation Sans", sans-serif' font-size="8.6" fill="#111" stroke="#111" stroke-width="0.15">10<tspan font-size="5.8" dx="1.4" dy="-3.3">2</tspan></text>
<text transform="translate(143.5,82.8) rotate(-90) scale(0.9,1)" font-family='"Liberation Sans", sans-serif' font-size="8.4" fill="#111" stroke="#111" stroke-width="0.15">10<tspan font-size="5.8" dx="0.8" dy="-3.1">2</tspan></text>
<text transform="translate(211.7,133.5) scale(0.82,1)" font-family='"Liberation Sans", sans-serif' font-size="8.6" fill="#111" stroke="#111" stroke-width="0.15">10<tspan font-size="5.8" dx="1.4" dy="-3.3">3</tspan></text>
<text transform="translate(143.5,59.7) rotate(-90) scale(0.9,1)" font-family='"Liberation Sans", sans-serif' font-size="8.4" fill="#111" stroke="#111" stroke-width="0.15">10<tspan font-size="5.8" dx="0.8" dy="-3.1">3</tspan></text>
<text transform="translate(232.3,133.5) scale(0.82,1)" font-family='"Liberation Sans", sans-serif' font-size="8.6" fill="#111" stroke="#111" stroke-width="0.15">10<tspan font-size="5.8" dx="1.4" dy="-3.3">4</tspan></text>
<text transform="translate(143.5,38.9) rotate(-90) scale(0.9,1)" font-family='"Liberation Sans", sans-serif' font-size="8.4" fill="#111" stroke="#111" stroke-width="0.15">10<tspan font-size="5.8" dx="0.8" dy="-3.1">4</tspan></text>
<text x="167.80" y="145.35" font-family='"Liberation Sans", sans-serif' font-size="9.8" textLength="34.80" lengthAdjust="spacingAndGlyphs" fill="#111" stroke="#111" stroke-width="0.38">Gr-1 PE</text>
<text transform="translate(133.25,102.15) rotate(-90)" font-family='"Liberation Sans", sans-serif' font-size="9.2" textLength="55.20" lengthAdjust="spacingAndGlyphs" fill="#111" stroke="#111" stroke-width="0.3">Mac-1 APC</text>
<text x="150.85" y="25.20" font-family='"Liberation Sans", sans-serif' font-size="9.8" textLength="78.60" lengthAdjust="spacingAndGlyphs" fill="#111" stroke="#111" stroke-width="0.35">Ly-5.1 population</text>
<path d="M331.4 104.6h1.35v1.35h-1.35zM316.6 119.9h1.35v1.35h-1.35zM315.2 93.8h1.35v1.35h-1.35zM305.3 120.3h1.35v1.35h-1.35zM306.5 118.6h1.35v1.35h-1.35zM308.8 101.5h1.35v1.35h-1.35zM311.2 117.7h1.35v1.35h-1.35zM308.7 106.8h1.35v1.35h-1.35zM302.3 121.3h1.35v1.35h-1.35zM344.2 92.7h1.35v1.35h-1.35zM313.3 106.5h1.35v1.35h-1.35zM307.5 120.1h1.35v1.35h-1.35zM308.2 123.5h1.35v1.35h-1.35zM304.3 98.2h1.35v1.35h-1.35zM301.6 111.8h1.35v1.35h-1.35zM307.1 117.2h1.35v1.35h-1.35zM315.8 108.5h1.35v1.35h-1.35zM308.6 123.4h1.35v1.35h-1.35zM320.6 103.1h1.35v1.35h-1.35zM309.0 117.1h1.35v1.35h-1.35zM311.2 105.7h1.35v1.35h-1.35zM326.5 122.5h1.35v1.35h-1.35zM316.5 113.0h1.35v1.35h-1.35zM305.9 111.9h1.35v1.35h-1.35zM309.2 100.8h1.35v1.35h-1.35zM316.4 123.9h1.35v1.35h-1.35zM330.4 116.8h1.35v1.35h-1.35zM308.3 120.3h1.35v1.35h-1.35zM308.6 123.3h1.35v1.35h-1.35zM321.0 115.1h1.35v1.35h-1.35zM302.1 110.4h1.35v1.35h-1.35zM308.1 108.2h1.35v1.35h-1.35zM319.8 106.3h1.35v1.35h-1.35zM316.8 123.8h1.35v1.35h-1.35zM311.9 102.4h1.35v1.35h-1.35zM317.7 108.3h1.35v1.35h-1.35zM319.3 116.0h1.35v1.35h-1.35zM321.2 114.1h1.35v1.35h-1.35zM301.4 120.0h1.35v1.35h-1.35zM307.7 106.9h1.35v1.35h-1.35zM313.8 100.0h1.35v1.35h-1.35zM318.0 112.8h1.35v1.35h-1.35zM306.6 124.2h1.35v1.35h-1.35zM301.8 121.7h1.35v1.35h-1.35zM311.3 115.6h1.35v1.35h-1.35zM310.5 111.6h1.35v1.35h-1.35zM325.1 114.0h1.35v1.35h-1.35zM318.5 110.9h1.35v1.35h-1.35zM312.9 120.1h1.35v1.35h-1.35zM322.1 106.0h1.35v1.35h-1.35zM308.9 115.4h1.35v1.35h-1.35zM301.7 114.6h1.35v1.35h-1.35zM316.8 117.3h1.35v1.35h-1.35zM316.8 114.8h1.35v1.35h-1.35zM308.9 115.9h1.35v1.35h-1.35zM317.4 104.3h1.35v1.35h-1.35zM323.6 100.1h1.35v1.35h-1.35zM305.4 122.9h1.35v1.35h-1.35zM326.7 101.6h1.35v1.35h-1.35zM344.3 98.6h1.35v1.35h-1.35zM327.5 102.7h1.35v1.35h-1.35zM336.0 104.5h1.35v1.35h-1.35zM345.5 101.0h1.35v1.35h-1.35zM340.6 110.6h1.35v1.35h-1.35zM336.0 123.0h1.35v1.35h-1.35zM339.2 97.9h1.35v1.35h-1.35zM339.5 106.9h1.35v1.35h-1.35zM312.9 114.7h1.35v1.35h-1.35zM323.7 121.4h1.35v1.35h-1.35zM317.1 125.0h1.35v1.35h-1.35zM313.3 98.5h1.35v1.35h-1.35zM327.9 110.7h1.35v1.35h-1.35zM315.9 121.3h1.35v1.35h-1.35zM330.1 95.6h1.35v1.35h-1.35zM328.4 112.2h1.35v1.35h-1.35zM305.9 99.4h1.35v1.35h-1.35zM321.8 117.8h1.35v1.35h-1.35zM319.3 123.1h1.35v1.35h-1.35zM334.2 110.7h1.35v1.35h-1.35zM305.1 94.3h1.35v1.35h-1.35zM308.9 96.0h1.35v1.35h-1.35zM325.1 106.9h1.35v1.35h-1.35zM320.0 120.3h1.35v1.35h-1.35zM332.3 101.3h1.35v1.35h-1.35zM334.6 99.2h1.35v1.35h-1.35zM321.2 123.4h1.35v1.35h-1.35zM327.3 93.6h1.35v1.35h-1.35zM334.4 83.7h1.35v1.35h-1.35zM336.8 87.8h1.35v1.35h-1.35zM336.4 94.5h1.35v1.35h-1.35zM327.6 87.1h1.35v1.35h-1.35zM342.1 85.7h1.35v1.35h-1.35zM323.2 97.2h1.35v1.35h-1.35zM324.6 114.3h1.35v1.35h-1.35zM334.0 80.9h1.35v1.35h-1.35zM320.5 111.3h1.35v1.35h-1.35zM347.6 69.6h1.35v1.35h-1.35zM325.0 49.5h1.35v1.35h-1.35zM329.5 50.1h1.35v1.35h-1.35zM333.1 51.9h1.35v1.35h-1.35zM340.5 54.9h1.35v1.35h-1.35zM344.6 53.2h1.35v1.35h-1.35zM343.2 55.9h1.35v1.35h-1.35zM311.1 54.6h1.35v1.35h-1.35zM324.7 54.2h1.35v1.35h-1.35zM324.7 55.9h1.35v1.35h-1.35zM329.7 56.2h1.35v1.35h-1.35zM334.9 56.9h1.35v1.35h-1.35zM336.2 58.9h1.35v1.35h-1.35zM325.7 60.3h1.35v1.35h-1.35zM337.2 60.9h1.35v1.35h-1.35zM338.5 61.6h1.35v1.35h-1.35zM341.2 58.9h1.35v1.35h-1.35zM343.9 60.9h1.35v1.35h-1.35zM348.0 60.3h1.35v1.35h-1.35zM351.1 61.9h1.35v1.35h-1.35zM307.8 58.9h1.35v1.35h-1.35zM305.1 65.4h1.35v1.35h-1.35zM311.5 65.0h1.35v1.35h-1.35zM313.5 66.4h1.35v1.35h-1.35zM323.6 66.4h1.35v1.35h-1.35zM325.0 67.0h1.35v1.35h-1.35zM331.8 65.0h1.35v1.35h-1.35zM335.4 65.0h1.35v1.35h-1.35zM336.2 66.4h1.35v1.35h-1.35zM346.6 64.3h1.35v1.35h-1.35zM350.0 65.7h1.35v1.35h-1.35zM345.9 66.4h1.35v1.35h-1.35zM327.7 70.0h1.35v1.35h-1.35zM320.3 71.4h1.35v1.35h-1.35zM320.9 73.1h1.35v1.35h-1.35zM334.9 70.4h1.35v1.35h-1.35zM340.3 71.1h1.35v1.35h-1.35zM344.6 69.5h1.35v1.35h-1.35zM347.3 72.4h1.35v1.35h-1.35zM343.9 74.5h1.35v1.35h-1.35zM343.0 76.5h1.35v1.35h-1.35zM325.7 77.2h1.35v1.35h-1.35zM340.5 79.2h1.35v1.35h-1.35zM338.5 80.5h1.35v1.35h-1.35zM333.8 81.2h1.35v1.35h-1.35zM312.8 82.6h1.35v1.35h-1.35zM318.2 81.9h1.35v1.35h-1.35zM353.8 84.6h1.35v1.35h-1.35zM343.2 83.2h1.35v1.35h-1.35zM345.9 83.9h1.35v1.35h-1.35zM340.5 83.5h1.35v1.35h-1.35zM337.8 85.3h1.35v1.35h-1.35zM343.2 87.3h1.35v1.35h-1.35zM306.5 88.0h1.35v1.35h-1.35zM318.9 88.9h1.35v1.35h-1.35zM325.7 88.0h1.35v1.35h-1.35zM336.2 88.6h1.35v1.35h-1.35zM340.5 89.3h1.35v1.35h-1.35zM369.2 63.9h1.35v1.35h-1.35zM370.3 64.4h1.35v1.35h-1.35zM368.1 65.4h1.35v1.35h-1.35zM374.2 59.8h1.35v1.35h-1.35zM378.1 67.6h1.35v1.35h-1.35zM374.2 68.1h1.35v1.35h-1.35zM376.3 60.2h1.35v1.35h-1.35zM380.8 62.2h1.35v1.35h-1.35zM374.7 64.7h1.35v1.35h-1.35zM374.4 62.6h1.35v1.35h-1.35zM372.3 72.3h1.35v1.35h-1.35zM366.3 65.9h1.35v1.35h-1.35zM376.9 60.8h1.35v1.35h-1.35zM365.6 61.7h1.35v1.35h-1.35zM376.4 64.8h1.35v1.35h-1.35zM373.4 74.6h1.35v1.35h-1.35zM378.6 64.3h1.35v1.35h-1.35zM373.2 65.5h1.35v1.35h-1.35zM369.8 67.2h1.35v1.35h-1.35zM375.1 64.8h1.35v1.35h-1.35zM371.0 74.6h1.35v1.35h-1.35zM372.7 62.8h1.35v1.35h-1.35zM373.7 68.1h1.35v1.35h-1.35zM372.9 65.7h1.35v1.35h-1.35zM372.7 67.6h1.35v1.35h-1.35zM369.8 60.1h1.35v1.35h-1.35zM372.6 72.4h1.35v1.35h-1.35zM363.9 64.5h1.35v1.35h-1.35zM372.8 65.1h1.35v1.35h-1.35zM368.1 61.1h1.35v1.35h-1.35zM378.5 61.9h1.35v1.35h-1.35zM379.2 67.4h1.35v1.35h-1.35zM364.7 69.1h1.35v1.35h-1.35zM374.2 68.2h1.35v1.35h-1.35zM372.9 70.1h1.35v1.35h-1.35zM368.8 68.0h1.35v1.35h-1.35zM375.9 65.1h1.35v1.35h-1.35zM371.4 68.5h1.35v1.35h-1.35zM365.5 67.5h1.35v1.35h-1.35zM372.3 65.9h1.35v1.35h-1.35zM378.1 72.5h1.35v1.35h-1.35zM382.0 56.5h1.35v1.35h-1.35zM374.6 74.9h1.35v1.35h-1.35zM370.5 67.3h1.35v1.35h-1.35zM378.0 58.6h1.35v1.35h-1.35zM386.3 64.6h1.35v1.35h-1.35zM371.5 50.7h1.35v1.35h-1.35zM372.4 58.5h1.35v1.35h-1.35zM372.0 77.6h1.35v1.35h-1.35zM381.6 55.8h1.35v1.35h-1.35zM360.1 77.8h1.35v1.35h-1.35zM368.0 100.0h1.35v1.35h-1.35z" fill="#151515"/>
<path d="M358.3 31.2V125.3M300.8 93.0H390.5" stroke="#555" stroke-width="1.15" fill="none"/>
<path d="M300.8 31.2V125.3H391.0" stroke="#111" stroke-width="1.25" fill="none"/>
<path d="M300.80 125.70v2.2M300.40 125.30h-2.2M307.59 125.70v1.4M300.40 118.22h-1.4M311.56 125.70v1.4M300.40 114.08h-1.4M314.38 125.70v1.4M300.40 111.14h-1.4M316.56 125.70v1.4M300.40 108.86h-1.4M318.35 125.70v1.4M300.40 106.99h-1.4M319.86 125.70v1.4M300.40 105.42h-1.4M321.16 125.70v1.4M300.40 104.05h-1.4M322.32 125.70v1.4M300.40 102.85h-1.4M323.35 125.70v2.2M300.40 101.78h-2.2M330.14 125.70v1.4M300.40 94.69h-1.4M334.11 125.70v1.4M300.40 90.55h-1.4M336.93 125.70v1.4M300.40 87.61h-1.4M339.11 125.70v1.4M300.40 85.33h-1.4M340.90 125.70v1.4M300.40 83.47h-1.4M342.41 125.70v1.4M300.40 81.89h-1.4M343.71 125.70v1.4M300.40 80.53h-1.4M344.87 125.70v1.4M300.40 79.33h-1.4M345.90 125.70v2.2M300.40 78.25h-2.2M352.69 125.70v1.4M300.40 71.17h-1.4M356.66 125.70v1.4M300.40 67.03h-1.4M359.48 125.70v1.4M300.40 64.09h-1.4M361.66 125.70v1.4M300.40 61.81h-1.4M363.45 125.70v1.4M300.40 59.94h-1.4M364.96 125.70v1.4M300.40 58.37h-1.4M366.26 125.70v1.4M300.40 57.00h-1.4M367.42 125.70v1.4M300.40 55.80h-1.4M368.45 125.70v2.2M300.40 54.73h-2.2M375.24 125.70v1.4M300.40 47.64h-1.4M379.21 125.70v1.4M300.40 43.50h-1.4M382.03 125.70v1.4M300.40 40.56h-1.4M384.21 125.70v1.4M300.40 38.28h-1.4M386.00 125.70v1.4M300.40 36.42h-1.4M387.51 125.70v1.4M300.40 34.84h-1.4M388.81 125.70v1.4M300.40 33.48h-1.4M389.97 125.70v1.4M300.40 32.28h-1.4M391.00 125.70v2.2M300.40 31.20h-2.2" stroke="#222" stroke-width="0.8" fill="none"/>
<text transform="translate(295.5,135.5) scale(0.82,1)" font-family='"Liberation Sans", sans-serif' font-size="8.6" fill="#111" stroke="#111" stroke-width="0.15">10<tspan font-size="5.8" dx="1.4" dy="-3.3">0</tspan></text>
<text transform="translate(295.8,131.7) rotate(-90) scale(0.9,1)" font-family='"Liberation Sans", sans-serif' font-size="8.4" fill="#111" stroke="#111" stroke-width="0.15">10<tspan font-size="5.8" dx="0.8" dy="-3.1">0</tspan></text>
<text transform="translate(318.1,135.5) scale(0.82,1)" font-family='"Liberation Sans", sans-serif' font-size="8.6" fill="#111" stroke="#111" stroke-width="0.15">10<tspan font-size="5.8" dx="1.4" dy="-3.3">1</tspan></text>
<text transform="translate(295.8,108.2) rotate(-90) scale(0.9,1)" font-family='"Liberation Sans", sans-serif' font-size="8.4" fill="#111" stroke="#111" stroke-width="0.15">10<tspan font-size="5.8" dx="0.8" dy="-3.1">1</tspan></text>
<text transform="translate(340.6,135.5) scale(0.82,1)" font-family='"Liberation Sans", sans-serif' font-size="8.6" fill="#111" stroke="#111" stroke-width="0.15">10<tspan font-size="5.8" dx="1.4" dy="-3.3">2</tspan></text>
<text transform="translate(295.8,84.7) rotate(-90) scale(0.9,1)" font-family='"Liberation Sans", sans-serif' font-size="8.4" fill="#111" stroke="#111" stroke-width="0.15">10<tspan font-size="5.8" dx="0.8" dy="-3.1">2</tspan></text>
<text transform="translate(363.1,135.5) scale(0.82,1)" font-family='"Liberation Sans", sans-serif' font-size="8.6" fill="#111" stroke="#111" stroke-width="0.15">10<tspan font-size="5.8" dx="1.4" dy="-3.3">3</tspan></text>
<text transform="translate(295.8,61.1) rotate(-90) scale(0.9,1)" font-family='"Liberation Sans", sans-serif' font-size="8.4" fill="#111" stroke="#111" stroke-width="0.15">10<tspan font-size="5.8" dx="0.8" dy="-3.1">3</tspan></text>
<text transform="translate(383.5,135.5) scale(0.82,1)" font-family='"Liberation Sans", sans-serif' font-size="8.6" fill="#111" stroke="#111" stroke-width="0.15">10<tspan font-size="5.8" dx="1.4" dy="-3.3">4</tspan></text>
<text transform="translate(295.8,39.9) rotate(-90) scale(0.9,1)" font-family='"Liberation Sans", sans-serif' font-size="8.4" fill="#111" stroke="#111" stroke-width="0.15">10<tspan font-size="5.8" dx="0.8" dy="-3.1">4</tspan></text>
<text x="332.00" y="145.75" font-family='"Liberation Sans", sans-serif' font-size="9.8" textLength="34.60" lengthAdjust="spacingAndGlyphs" fill="#111" stroke="#111" stroke-width="0.38">Gr-1 PE</text>
<text transform="translate(282.30,101.55) rotate(-90)" font-family='"Liberation Sans", sans-serif' font-size="9.2" textLength="54.40" lengthAdjust="spacingAndGlyphs" fill="#111" stroke="#111" stroke-width="0.3">Mac-1 APC</text>
<text x="304.85" y="25.50" font-family='"Liberation Sans", sans-serif' font-size="9.8" textLength="82.00" lengthAdjust="spacingAndGlyphs" fill="#111" stroke="#111" stroke-width="0.35">Ly- 5.2 population</text>
<path d="M423.1 104.5h1.35v1.35h-1.35zM427.4 121.5h1.35v1.35h-1.35zM444.0 116.4h1.35v1.35h-1.35zM434.9 114.1h1.35v1.35h-1.35zM430.2 121.5h1.35v1.35h-1.35zM429.0 115.2h1.35v1.35h-1.35zM423.4 90.1h1.35v1.35h-1.35zM430.3 119.4h1.35v1.35h-1.35zM429.9 123.8h1.35v1.35h-1.35zM431.2 114.0h1.35v1.35h-1.35zM431.1 111.8h1.35v1.35h-1.35zM443.2 116.9h1.35v1.35h-1.35zM431.8 104.1h1.35v1.35h-1.35zM433.6 117.6h1.35v1.35h-1.35zM428.8 113.0h1.35v1.35h-1.35zM449.3 112.0h1.35v1.35h-1.35zM432.6 107.2h1.35v1.35h-1.35zM438.9 109.2h1.35v1.35h-1.35zM426.0 123.2h1.35v1.35h-1.35zM423.3 121.3h1.35v1.35h-1.35zM423.1 119.3h1.35v1.35h-1.35zM423.0 114.6h1.35v1.35h-1.35zM432.4 107.5h1.35v1.35h-1.35zM428.0 121.1h1.35v1.35h-1.35zM442.3 118.9h1.35v1.35h-1.35zM431.9 101.3h1.35v1.35h-1.35zM429.0 122.6h1.35v1.35h-1.35zM423.4 96.6h1.35v1.35h-1.35zM436.0 112.1h1.35v1.35h-1.35zM434.5 118.3h1.35v1.35h-1.35zM425.9 103.4h1.35v1.35h-1.35zM430.9 102.1h1.35v1.35h-1.35zM428.8 116.6h1.35v1.35h-1.35zM437.9 122.5h1.35v1.35h-1.35zM430.6 111.0h1.35v1.35h-1.35zM438.1 121.2h1.35v1.35h-1.35zM437.6 108.4h1.35v1.35h-1.35zM424.2 117.7h1.35v1.35h-1.35zM422.6 116.0h1.35v1.35h-1.35zM427.2 117.0h1.35v1.35h-1.35zM435.7 120.2h1.35v1.35h-1.35zM436.7 117.7h1.35v1.35h-1.35zM422.6 116.9h1.35v1.35h-1.35zM423.5 113.8h1.35v1.35h-1.35zM422.6 119.6h1.35v1.35h-1.35zM423.7 113.6h1.35v1.35h-1.35zM426.9 105.0h1.35v1.35h-1.35zM427.8 108.6h1.35v1.35h-1.35zM447.5 115.1h1.35v1.35h-1.35zM424.4 114.1h1.35v1.35h-1.35zM426.4 114.6h1.35v1.35h-1.35zM433.1 115.0h1.35v1.35h-1.35zM424.0 119.2h1.35v1.35h-1.35zM425.7 103.5h1.35v1.35h-1.35zM429.1 106.3h1.35v1.35h-1.35zM436.0 123.1h1.35v1.35h-1.35zM427.2 122.1h1.35v1.35h-1.35zM441.3 110.4h1.35v1.35h-1.35zM425.8 121.6h1.35v1.35h-1.35zM430.5 109.3h1.35v1.35h-1.35zM436.6 112.9h1.35v1.35h-1.35zM434.9 99.5h1.35v1.35h-1.35zM438.5 122.2h1.35v1.35h-1.35zM430.6 114.9h1.35v1.35h-1.35zM428.8 123.5h1.35v1.35h-1.35zM431.8 121.0h1.35v1.35h-1.35zM424.4 115.8h1.35v1.35h-1.35zM439.9 116.4h1.35v1.35h-1.35zM422.4 122.4h1.35v1.35h-1.35zM426.7 113.7h1.35v1.35h-1.35zM447.5 113.8h1.35v1.35h-1.35zM427.8 115.7h1.35v1.35h-1.35zM426.0 122.0h1.35v1.35h-1.35zM445.7 123.0h1.35v1.35h-1.35zM426.0 116.2h1.35v1.35h-1.35zM438.6 114.5h1.35v1.35h-1.35zM422.9 121.6h1.35v1.35h-1.35zM426.8 109.7h1.35v1.35h-1.35zM430.6 120.4h1.35v1.35h-1.35zM432.6 116.4h1.35v1.35h-1.35zM424.2 117.5h1.35v1.35h-1.35zM428.3 120.5h1.35v1.35h-1.35zM436.2 111.5h1.35v1.35h-1.35zM450.8 120.3h1.35v1.35h-1.35zM424.7 118.3h1.35v1.35h-1.35zM438.1 112.7h1.35v1.35h-1.35zM423.6 112.9h1.35v1.35h-1.35zM427.6 107.4h1.35v1.35h-1.35zM428.7 108.8h1.35v1.35h-1.35zM428.7 116.6h1.35v1.35h-1.35zM422.4 123.7h1.35v1.35h-1.35zM426.1 105.5h1.35v1.35h-1.35zM429.0 106.2h1.35v1.35h-1.35zM422.7 114.1h1.35v1.35h-1.35zM440.3 114.2h1.35v1.35h-1.35zM430.4 122.2h1.35v1.35h-1.35zM430.5 106.9h1.35v1.35h-1.35zM439.2 120.0h1.35v1.35h-1.35zM433.7 119.3h1.35v1.35h-1.35zM428.7 107.7h1.35v1.35h-1.35zM428.2 123.2h1.35v1.35h-1.35zM427.9 107.3h1.35v1.35h-1.35zM438.7 118.4h1.35v1.35h-1.35zM436.0 118.5h1.35v1.35h-1.35zM432.3 117.4h1.35v1.35h-1.35zM436.2 109.6h1.35v1.35h-1.35zM424.1 116.9h1.35v1.35h-1.35zM433.6 123.3h1.35v1.35h-1.35zM428.1 105.5h1.35v1.35h-1.35zM441.1 115.4h1.35v1.35h-1.35zM429.8 108.0h1.35v1.35h-1.35zM430.7 109.5h1.35v1.35h-1.35zM434.4 121.2h1.35v1.35h-1.35zM428.9 121.4h1.35v1.35h-1.35zM426.7 110.3h1.35v1.35h-1.35zM439.7 120.5h1.35v1.35h-1.35zM430.0 121.2h1.35v1.35h-1.35zM423.6 114.0h1.35v1.35h-1.35zM433.0 112.9h1.35v1.35h-1.35zM430.7 116.6h1.35v1.35h-1.35zM443.9 96.1h1.35v1.35h-1.35zM427.5 118.1h1.35v1.35h-1.35zM429.4 109.7h1.35v1.35h-1.35zM449.3 106.4h1.35v1.35h-1.35zM448.4 111.5h1.35v1.35h-1.35zM430.0 122.8h1.35v1.35h-1.35zM434.6 121.7h1.35v1.35h-1.35zM438.8 112.1h1.35v1.35h-1.35zM444.1 119.0h1.35v1.35h-1.35zM427.8 114.8h1.35v1.35h-1.35zM430.2 106.8h1.35v1.35h-1.35zM440.0 116.7h1.35v1.35h-1.35zM431.4 115.5h1.35v1.35h-1.35zM435.8 102.2h1.35v1.35h-1.35zM434.5 123.0h1.35v1.35h-1.35zM425.6 101.9h1.35v1.35h-1.35zM423.1 117.2h1.35v1.35h-1.35zM439.2 106.3h1.35v1.35h-1.35zM426.7 108.3h1.35v1.35h-1.35zM441.0 109.2h1.35v1.35h-1.35zM425.4 121.2h1.35v1.35h-1.35zM440.1 104.5h1.35v1.35h-1.35zM438.0 113.6h1.35v1.35h-1.35zM428.5 119.2h1.35v1.35h-1.35zM428.9 109.3h1.35v1.35h-1.35zM429.7 114.9h1.35v1.35h-1.35zM423.1 120.8h1.35v1.35h-1.35zM426.5 110.2h1.35v1.35h-1.35zM428.6 119.2h1.35v1.35h-1.35zM434.5 109.5h1.35v1.35h-1.35zM436.1 121.1h1.35v1.35h-1.35zM422.3 115.7h1.35v1.35h-1.35zM436.4 107.2h1.35v1.35h-1.35zM422.4 120.5h1.35v1.35h-1.35zM427.5 114.3h1.35v1.35h-1.35zM432.3 112.8h1.35v1.35h-1.35zM428.8 107.3h1.35v1.35h-1.35zM427.9 111.1h1.35v1.35h-1.35zM431.4 114.3h1.35v1.35h-1.35zM424.0 116.6h1.35v1.35h-1.35zM423.1 123.1h1.35v1.35h-1.35zM427.2 103.9h1.35v1.35h-1.35zM437.7 112.2h1.35v1.35h-1.35zM428.1 122.3h1.35v1.35h-1.35zM446.1 116.7h1.35v1.35h-1.35zM430.9 118.6h1.35v1.35h-1.35zM442.2 118.9h1.35v1.35h-1.35zM425.0 118.0h1.35v1.35h-1.35zM444.0 119.1h1.35v1.35h-1.35zM429.1 114.8h1.35v1.35h-1.35zM425.1 117.5h1.35v1.35h-1.35zM423.3 123.6h1.35v1.35h-1.35zM440.9 109.0h1.35v1.35h-1.35zM438.0 119.8h1.35v1.35h-1.35zM435.0 105.3h1.35v1.35h-1.35zM432.9 123.3h1.35v1.35h-1.35zM442.0 120.8h1.35v1.35h-1.35zM436.4 113.7h1.35v1.35h-1.35zM424.7 100.0h1.35v1.35h-1.35zM451.8 121.3h1.35v1.35h-1.35zM437.1 96.2h1.35v1.35h-1.35zM449.0 108.5h1.35v1.35h-1.35zM425.6 111.6h1.35v1.35h-1.35zM431.9 108.4h1.35v1.35h-1.35zM439.6 94.9h1.35v1.35h-1.35zM439.9 109.1h1.35v1.35h-1.35zM450.3 97.0h1.35v1.35h-1.35zM432.8 94.4h1.35v1.35h-1.35zM430.7 121.1h1.35v1.35h-1.35zM441.8 101.1h1.35v1.35h-1.35zM428.6 95.2h1.35v1.35h-1.35zM449.6 93.4h1.35v1.35h-1.35zM430.5 119.8h1.35v1.35h-1.35zM424.1 119.6h1.35v1.35h-1.35zM441.5 116.1h1.35v1.35h-1.35zM423.0 104.8h1.35v1.35h-1.35zM422.3 115.6h1.35v1.35h-1.35zM422.7 123.4h1.35v1.35h-1.35zM422.9 103.4h1.35v1.35h-1.35zM422.3 109.3h1.35v1.35h-1.35zM422.9 108.2h1.35v1.35h-1.35zM423.0 117.0h1.35v1.35h-1.35zM422.6 119.5h1.35v1.35h-1.35zM422.8 101.1h1.35v1.35h-1.35zM422.4 105.0h1.35v1.35h-1.35zM422.5 108.9h1.35v1.35h-1.35zM422.4 123.1h1.35v1.35h-1.35zM422.4 118.3h1.35v1.35h-1.35zM423.1 115.0h1.35v1.35h-1.35zM423.1 123.2h1.35v1.35h-1.35zM422.3 109.5h1.35v1.35h-1.35zM422.7 119.2h1.35v1.35h-1.35zM471.7 94.4h1.35v1.35h-1.35zM474.6 97.3h1.35v1.35h-1.35zM450.6 63.3h1.35v1.35h-1.35zM462.2 66.9h1.35v1.35h-1.35zM453.2 64.1h1.35v1.35h-1.35zM456.0 58.9h1.35v1.35h-1.35zM459.8 66.8h1.35v1.35h-1.35zM465.4 58.3h1.35v1.35h-1.35zM454.3 61.6h1.35v1.35h-1.35zM465.4 53.5h1.35v1.35h-1.35zM474.2 60.7h1.35v1.35h-1.35zM448.1 57.9h1.35v1.35h-1.35zM470.9 62.4h1.35v1.35h-1.35zM477.3 71.8h1.35v1.35h-1.35zM455.3 75.5h1.35v1.35h-1.35zM464.9 66.7h1.35v1.35h-1.35zM449.0 59.9h1.35v1.35h-1.35zM462.8 65.4h1.35v1.35h-1.35zM457.4 61.5h1.35v1.35h-1.35zM462.5 56.1h1.35v1.35h-1.35zM452.7 59.6h1.35v1.35h-1.35zM453.4 58.4h1.35v1.35h-1.35zM456.4 56.1h1.35v1.35h-1.35zM454.3 69.0h1.35v1.35h-1.35zM455.0 56.5h1.35v1.35h-1.35zM458.3 56.8h1.35v1.35h-1.35zM451.0 64.6h1.35v1.35h-1.35zM458.7 55.5h1.35v1.35h-1.35zM463.7 52.6h1.35v1.35h-1.35zM441.4 54.5h1.35v1.35h-1.35zM461.4 63.2h1.35v1.35h-1.35zM453.9 62.5h1.35v1.35h-1.35zM450.8 62.0h1.35v1.35h-1.35zM449.0 57.1h1.35v1.35h-1.35zM452.9 54.1h1.35v1.35h-1.35zM453.8 66.0h1.35v1.35h-1.35zM462.5 50.7h1.35v1.35h-1.35zM449.6 58.7h1.35v1.35h-1.35zM468.0 51.5h1.35v1.35h-1.35zM453.1 57.4h1.35v1.35h-1.35zM465.2 59.1h1.35v1.35h-1.35zM468.4 68.1h1.35v1.35h-1.35zM450.0 41.5h1.35v1.35h-1.35zM468.4 69.0h1.35v1.35h-1.35zM477.4 54.4h1.35v1.35h-1.35zM456.4 62.0h1.35v1.35h-1.35zM464.7 65.4h1.35v1.35h-1.35zM459.1 55.2h1.35v1.35h-1.35zM460.9 59.6h1.35v1.35h-1.35zM458.8 63.3h1.35v1.35h-1.35zM456.4 59.3h1.35v1.35h-1.35zM466.2 55.4h1.35v1.35h-1.35zM467.6 61.4h1.35v1.35h-1.35zM460.6 60.9h1.35v1.35h-1.35zM472.7 50.4h1.35v1.35h-1.35zM469.4 69.0h1.35v1.35h-1.35zM466.3 61.7h1.35v1.35h-1.35zM455.0 44.4h1.35v1.35h-1.35zM476.0 54.8h1.35v1.35h-1.35zM471.4 71.4h1.35v1.35h-1.35zM443.6 70.5h1.35v1.35h-1.35zM452.0 62.0h1.35v1.35h-1.35zM457.0 49.3h1.35v1.35h-1.35zM468.4 58.7h1.35v1.35h-1.35zM470.8 67.1h1.35v1.35h-1.35zM458.6 62.8h1.35v1.35h-1.35zM462.9 58.1h1.35v1.35h-1.35zM466.5 55.5h1.35v1.35h-1.35zM450.7 65.6h1.35v1.35h-1.35zM465.7 58.9h1.35v1.35h-1.35zM458.5 62.4h1.35v1.35h-1.35zM462.4 63.5h1.35v1.35h-1.35zM460.6 70.9h1.35v1.35h-1.35zM451.5 61.5h1.35v1.35h-1.35zM453.0 62.0h1.35v1.35h-1.35zM461.3 48.6h1.35v1.35h-1.35zM462.0 67.5h1.35v1.35h-1.35zM458.9 66.0h1.35v1.35h-1.35zM469.5 60.2h1.35v1.35h-1.35zM458.1 45.5h1.35v1.35h-1.35zM451.3 56.6h1.35v1.35h-1.35zM458.2 60.8h1.35v1.35h-1.35zM459.6 73.9h1.35v1.35h-1.35zM460.0 64.1h1.35v1.35h-1.35zM470.3 65.4h1.35v1.35h-1.35zM428.0 60.7h1.35v1.35h-1.35zM442.4 77.0h1.35v1.35h-1.35zM434.7 52.7h1.35v1.35h-1.35zM448.8 74.1h1.35v1.35h-1.35zM456.6 80.3h1.35v1.35h-1.35zM445.9 77.5h1.35v1.35h-1.35zM466.4 81.1h1.35v1.35h-1.35zM424.6 73.8h1.35v1.35h-1.35zM432.8 69.3h1.35v1.35h-1.35zM431.4 76.5h1.35v1.35h-1.35zM428.9 50.7h1.35v1.35h-1.35zM456.6 76.4h1.35v1.35h-1.35zM461.0 52.0h1.35v1.35h-1.35zM443.4 67.0h1.35v1.35h-1.35zM462.1 66.8h1.35v1.35h-1.35zM443.5 50.4h1.35v1.35h-1.35zM455.7 55.2h1.35v1.35h-1.35zM426.2 79.0h1.35v1.35h-1.35zM442.6 75.0h1.35v1.35h-1.35zM427.1 67.7h1.35v1.35h-1.35zM464.7 77.1h1.35v1.35h-1.35zM459.8 63.3h1.35v1.35h-1.35zM470.2 67.4h1.35v1.35h-1.35zM471.5 64.8h1.35v1.35h-1.35zM453.6 80.5h1.35v1.35h-1.35zM431.7 48.1h1.35v1.35h-1.35zM440.3 83.2h1.35v1.35h-1.35zM458.5 45.5h1.35v1.35h-1.35zM461.1 60.3h1.35v1.35h-1.35zM462.0 90.7h1.35v1.35h-1.35zM429.4 55.6h1.35v1.35h-1.35zM430.7 61.9h1.35v1.35h-1.35zM463.1 52.9h1.35v1.35h-1.35zM428.5 84.5h1.35v1.35h-1.35zM451.5 53.3h1.35v1.35h-1.35zM447.7 63.4h1.35v1.35h-1.35zM468.3 61.2h1.35v1.35h-1.35zM428.8 55.0h1.35v1.35h-1.35zM464.0 71.1h1.35v1.35h-1.35zM443.5 72.6h1.35v1.35h-1.35zM474.9 88.6h1.35v1.35h-1.35zM448.7 85.3h1.35v1.35h-1.35zM462.7 74.0h1.35v1.35h-1.35zM425.5 73.1h1.35v1.35h-1.35zM469.3 76.7h1.35v1.35h-1.35zM456.0 87.8h1.35v1.35h-1.35zM440.2 78.5h1.35v1.35h-1.35zM453.8 81.9h1.35v1.35h-1.35zM424.6 81.0h1.35v1.35h-1.35zM432.3 83.9h1.35v1.35h-1.35zM462.3 79.6h1.35v1.35h-1.35zM449.2 71.5h1.35v1.35h-1.35zM472.5 91.1h1.35v1.35h-1.35zM462.4 82.6h1.35v1.35h-1.35zM474.7 70.8h1.35v1.35h-1.35zM470.0 74.3h1.35v1.35h-1.35zM487.9 59.0h1.35v1.35h-1.35zM490.1 59.2h1.35v1.35h-1.35zM493.2 67.9h1.35v1.35h-1.35zM475.1 60.3h1.35v1.35h-1.35zM489.9 60.4h1.35v1.35h-1.35zM487.2 59.3h1.35v1.35h-1.35zM491.5 62.4h1.35v1.35h-1.35zM496.0 63.6h1.35v1.35h-1.35zM496.9 60.4h1.35v1.35h-1.35zM502.1 55.8h1.35v1.35h-1.35zM501.7 62.5h1.35v1.35h-1.35zM499.2 57.2h1.35v1.35h-1.35zM492.8 59.4h1.35v1.35h-1.35zM499.3 62.0h1.35v1.35h-1.35zM487.0 62.1h1.35v1.35h-1.35zM492.4 50.5h1.35v1.35h-1.35zM501.7 68.7h1.35v1.35h-1.35zM497.8 64.6h1.35v1.35h-1.35zM484.6 69.8h1.35v1.35h-1.35zM489.4 72.4h1.35v1.35h-1.35zM498.5 56.7h1.35v1.35h-1.35zM496.8 58.4h1.35v1.35h-1.35zM499.5 62.1h1.35v1.35h-1.35zM482.3 65.2h1.35v1.35h-1.35zM485.4 58.6h1.35v1.35h-1.35zM491.5 59.5h1.35v1.35h-1.35zM487.2 65.8h1.35v1.35h-1.35zM492.9 56.9h1.35v1.35h-1.35zM493.1 61.9h1.35v1.35h-1.35zM495.2 65.8h1.35v1.35h-1.35zM492.3 59.7h1.35v1.35h-1.35zM496.5 64.4h1.35v1.35h-1.35zM497.8 60.3h1.35v1.35h-1.35zM494.0 53.6h1.35v1.35h-1.35zM485.7 58.4h1.35v1.35h-1.35zM500.9 59.9h1.35v1.35h-1.35zM494.4 59.3h1.35v1.35h-1.35zM495.7 60.9h1.35v1.35h-1.35zM494.2 62.5h1.35v1.35h-1.35zM483.4 62.0h1.35v1.35h-1.35zM496.6 61.5h1.35v1.35h-1.35zM489.2 58.7h1.35v1.35h-1.35zM485.7 59.7h1.35v1.35h-1.35zM500.9 58.9h1.35v1.35h-1.35zM491.3 57.9h1.35v1.35h-1.35zM494.9 66.8h1.35v1.35h-1.35zM498.5 52.0h1.35v1.35h-1.35zM502.9 61.6h1.35v1.35h-1.35zM482.2 53.1h1.35v1.35h-1.35zM488.6 57.8h1.35v1.35h-1.35zM497.2 64.1h1.35v1.35h-1.35zM489.1 59.2h1.35v1.35h-1.35zM473.4 66.8h1.35v1.35h-1.35zM494.0 56.1h1.35v1.35h-1.35zM494.5 59.0h1.35v1.35h-1.35zM497.9 57.5h1.35v1.35h-1.35zM494.5 60.4h1.35v1.35h-1.35zM490.4 58.9h1.35v1.35h-1.35zM494.4 58.6h1.35v1.35h-1.35zM492.9 60.6h1.35v1.35h-1.35zM490.1 65.2h1.35v1.35h-1.35zM494.7 60.9h1.35v1.35h-1.35zM495.3 60.4h1.35v1.35h-1.35zM487.0 58.8h1.35v1.35h-1.35zM499.3 56.9h1.35v1.35h-1.35zM498.1 53.5h1.35v1.35h-1.35zM497.9 55.3h1.35v1.35h-1.35zM476.5 60.2h1.35v1.35h-1.35zM493.8 51.3h1.35v1.35h-1.35zM492.4 62.9h1.35v1.35h-1.35zM487.1 58.1h1.35v1.35h-1.35zM496.6 55.7h1.35v1.35h-1.35zM484.0 57.5h1.35v1.35h-1.35zM500.5 62.9h1.35v1.35h-1.35zM495.4 61.6h1.35v1.35h-1.35zM490.0 61.1h1.35v1.35h-1.35zM501.7 67.9h1.35v1.35h-1.35zM495.9 70.6h1.35v1.35h-1.35zM495.1 54.3h1.35v1.35h-1.35zM485.2 64.1h1.35v1.35h-1.35zM496.3 56.7h1.35v1.35h-1.35zM501.6 54.0h1.35v1.35h-1.35zM499.7 57.9h1.35v1.35h-1.35zM485.3 65.0h1.35v1.35h-1.35zM501.5 59.0h1.35v1.35h-1.35zM502.7 58.3h1.35v1.35h-1.35zM498.2 66.9h1.35v1.35h-1.35zM490.7 62.9h1.35v1.35h-1.35zM484.0 60.3h1.35v1.35h-1.35zM487.5 68.9h1.35v1.35h-1.35zM489.5 63.0h1.35v1.35h-1.35zM494.7 57.6h1.35v1.35h-1.35zM496.3 56.0h1.35v1.35h-1.35zM488.5 59.0h1.35v1.35h-1.35zM483.1 61.7h1.35v1.35h-1.35zM490.4 65.2h1.35v1.35h-1.35zM484.9 64.8h1.35v1.35h-1.35zM501.0 61.5h1.35v1.35h-1.35zM485.4 55.7h1.35v1.35h-1.35zM495.8 65.2h1.35v1.35h-1.35zM497.8 61.5h1.35v1.35h-1.35zM486.9 56.1h1.35v1.35h-1.35zM498.9 55.4h1.35v1.35h-1.35zM491.9 62.0h1.35v1.35h-1.35zM488.0 62.5h1.35v1.35h-1.35zM487.0 64.6h1.35v1.35h-1.35zM493.4 55.4h1.35v1.35h-1.35zM499.2 69.6h1.35v1.35h-1.35zM481.2 52.7h1.35v1.35h-1.35zM496.4 60.7h1.35v1.35h-1.35zM491.8 67.0h1.35v1.35h-1.35zM488.1 65.6h1.35v1.35h-1.35zM492.1 56.6h1.35v1.35h-1.35zM492.6 63.6h1.35v1.35h-1.35zM492.4 66.5h1.35v1.35h-1.35zM497.6 64.2h1.35v1.35h-1.35zM487.3 56.4h1.35v1.35h-1.35zM504.7 68.4h1.35v1.35h-1.35zM498.1 53.5h1.35v1.35h-1.35zM489.1 61.0h1.35v1.35h-1.35zM481.1 55.9h1.35v1.35h-1.35zM492.6 58.8h1.35v1.35h-1.35zM490.3 59.3h1.35v1.35h-1.35zM497.3 63.0h1.35v1.35h-1.35zM497.2 55.0h1.35v1.35h-1.35zM504.4 61.7h1.35v1.35h-1.35zM492.0 66.6h1.35v1.35h-1.35zM497.6 61.1h1.35v1.35h-1.35zM497.4 63.4h1.35v1.35h-1.35zM496.3 63.6h1.35v1.35h-1.35zM485.6 61.1h1.35v1.35h-1.35zM489.0 53.3h1.35v1.35h-1.35zM492.8 50.0h1.35v1.35h-1.35zM496.7 52.8h1.35v1.35h-1.35zM510.8 60.7h1.35v1.35h-1.35zM507.2 57.6h1.35v1.35h-1.35zM488.2 65.2h1.35v1.35h-1.35zM488.5 73.8h1.35v1.35h-1.35zM483.2 64.4h1.35v1.35h-1.35zM471.4 66.4h1.35v1.35h-1.35zM504.3 56.8h1.35v1.35h-1.35zM497.2 49.2h1.35v1.35h-1.35zM474.7 77.2h1.35v1.35h-1.35zM492.5 65.6h1.35v1.35h-1.35zM510.2 69.3h1.35v1.35h-1.35z" fill="#151515"/>
<path d="M479.0 30.0V124.0M422.0 92.5H512.0" stroke="#555" stroke-width="1.15" fill="none"/>
<path d="M422.0 30.0V124.0H512.5" stroke="#111" stroke-width="1.25" fill="none"/>
<path d="M422.00 124.40v2.2M421.60 124.00h-2.2M428.81 124.40v1.4M421.60 116.93h-1.4M432.79 124.40v1.4M421.60 112.79h-1.4M435.62 124.40v1.4M421.60 109.85h-1.4M437.81 124.40v1.4M421.60 107.57h-1.4M439.61 124.40v1.4M421.60 105.71h-1.4M441.12 124.40v1.4M421.60 104.14h-1.4M442.43 124.40v1.4M421.60 102.78h-1.4M443.59 124.40v1.4M421.60 101.58h-1.4M444.62 124.40v2.2M421.60 100.50h-2.2M451.44 124.40v1.4M421.60 93.43h-1.4M455.42 124.40v1.4M421.60 89.29h-1.4M458.25 124.40v1.4M421.60 86.35h-1.4M460.44 124.40v1.4M421.60 84.07h-1.4M462.23 124.40v1.4M421.60 82.21h-1.4M463.75 124.40v1.4M421.60 80.64h-1.4M465.06 124.40v1.4M421.60 79.28h-1.4M466.21 124.40v1.4M421.60 78.08h-1.4M467.25 124.40v2.2M421.60 77.00h-2.2M474.06 124.40v1.4M421.60 69.93h-1.4M478.04 124.40v1.4M421.60 65.79h-1.4M480.87 124.40v1.4M421.60 62.85h-1.4M483.06 124.40v1.4M421.60 60.57h-1.4M484.86 124.40v1.4M421.60 58.71h-1.4M486.37 124.40v1.4M421.60 57.14h-1.4M487.68 124.40v1.4M421.60 55.78h-1.4M488.84 124.40v1.4M421.60 54.58h-1.4M489.88 124.40v2.2M421.60 53.50h-2.2M496.69 124.40v1.4M421.60 46.43h-1.4M500.67 124.40v1.4M421.60 42.29h-1.4M503.50 124.40v1.4M421.60 39.35h-1.4M505.69 124.40v1.4M421.60 37.07h-1.4M507.48 124.40v1.4M421.60 35.21h-1.4M509.00 124.40v1.4M421.60 33.64h-1.4M510.31 124.40v1.4M421.60 32.28h-1.4M511.46 124.40v1.4M421.60 31.08h-1.4M512.50 124.40v2.2M421.60 30.00h-2.2" stroke="#222" stroke-width="0.8" fill="none"/>
<text transform="translate(416.7,135.6) scale(0.82,1)" font-family='"Liberation Sans", sans-serif' font-size="8.6" fill="#111" stroke="#111" stroke-width="0.15">10<tspan font-size="5.8" dx="1.4" dy="-3.3">0</tspan></text>
<text transform="translate(417.0,130.4) rotate(-90) scale(0.9,1)" font-family='"Liberation Sans", sans-serif' font-size="8.4" fill="#111" stroke="#111" stroke-width="0.15">10<tspan font-size="5.8" dx="0.8" dy="-3.1">0</tspan></text>
<text transform="translate(439.3,135.6) scale(0.82,1)" font-family='"Liberation Sans", sans-serif' font-size="8.6" fill="#111" stroke="#111" stroke-width="0.15">10<tspan font-size="5.8" dx="1.4" dy="-3.3">1</tspan></text>
<text transform="translate(417.0,106.9) rotate(-90) scale(0.9,1)" font-family='"Liberation Sans", sans-serif' font-size="8.4" fill="#111" stroke="#111" stroke-width="0.15">10<tspan font-size="5.8" dx="0.8" dy="-3.1">1</tspan></text>
<text transform="translate(461.9,135.6) scale(0.82,1)" font-family='"Liberation Sans", sans-serif' font-size="8.6" fill="#111" stroke="#111" stroke-width="0.15">10<tspan font-size="5.8" dx="1.4" dy="-3.3">2</tspan></text>
<text transform="translate(417.0,83.4) rotate(-90) scale(0.9,1)" font-family='"Liberation Sans", sans-serif' font-size="8.4" fill="#111" stroke="#111" stroke-width="0.15">10<tspan font-size="5.8" dx="0.8" dy="-3.1">2</tspan></text>
<text transform="translate(484.6,135.6) scale(0.82,1)" font-family='"Liberation Sans", sans-serif' font-size="8.6" fill="#111" stroke="#111" stroke-width="0.15">10<tspan font-size="5.8" dx="1.4" dy="-3.3">3</tspan></text>
<text transform="translate(417.0,59.9) rotate(-90) scale(0.9,1)" font-family='"Liberation Sans", sans-serif' font-size="8.4" fill="#111" stroke="#111" stroke-width="0.15">10<tspan font-size="5.8" dx="0.8" dy="-3.1">3</tspan></text>
<text transform="translate(505.0,135.6) scale(0.82,1)" font-family='"Liberation Sans", sans-serif' font-size="8.6" fill="#111" stroke="#111" stroke-width="0.15">10<tspan font-size="5.8" dx="1.4" dy="-3.3">4</tspan></text>
<text transform="translate(417.0,38.7) rotate(-90) scale(0.9,1)" font-family='"Liberation Sans", sans-serif' font-size="8.4" fill="#111" stroke="#111" stroke-width="0.15">10<tspan font-size="5.8" dx="0.8" dy="-3.1">4</tspan></text>
<text x="448.25" y="145.35" font-family='"Liberation Sans", sans-serif' font-size="9.8" textLength="34.00" lengthAdjust="spacingAndGlyphs" fill="#111" stroke="#111" stroke-width="0.38">Gr-1 PE</text>
<text transform="translate(404.05,102.15) rotate(-90)" font-family='"Liberation Sans", sans-serif' font-size="9.2" textLength="55.20" lengthAdjust="spacingAndGlyphs" fill="#111" stroke="#111" stroke-width="0.3">Mac-1 APC</text>
<text x="425.80" y="24.80" font-family='"Liberation Sans", sans-serif' font-size="9.8" textLength="81.40" lengthAdjust="spacingAndGlyphs" fill="#111" stroke="#111" stroke-width="0.35">Ly- 5.1 population</text>
<path d="M30.6 248.9h1.35v1.35h-1.35zM27.0 245.7h1.35v1.35h-1.35zM35.0 245.9h1.35v1.35h-1.35zM40.4 245.4h1.35v1.35h-1.35zM46.1 247.0h1.35v1.35h-1.35zM37.9 243.0h1.35v1.35h-1.35zM32.6 247.7h1.35v1.35h-1.35zM30.7 234.6h1.35v1.35h-1.35zM43.0 239.3h1.35v1.35h-1.35zM50.1 248.3h1.35v1.35h-1.35zM39.2 247.0h1.35v1.35h-1.35zM27.1 247.6h1.35v1.35h-1.35zM29.3 242.1h1.35v1.35h-1.35zM49.8 230.3h1.35v1.35h-1.35zM38.6 244.4h1.35v1.35h-1.35zM30.3 250.7h1.35v1.35h-1.35zM36.3 233.5h1.35v1.35h-1.35zM27.7 249.0h1.35v1.35h-1.35zM32.0 242.3h1.35v1.35h-1.35zM33.1 227.5h1.35v1.35h-1.35zM31.3 238.6h1.35v1.35h-1.35zM41.4 237.9h1.35v1.35h-1.35zM36.5 247.3h1.35v1.35h-1.35zM32.3 235.7h1.35v1.35h-1.35zM40.3 240.0h1.35v1.35h-1.35zM43.6 239.8h1.35v1.35h-1.35zM29.5 239.0h1.35v1.35h-1.35zM34.9 234.7h1.35v1.35h-1.35zM29.2 243.8h1.35v1.35h-1.35zM35.6 250.6h1.35v1.35h-1.35zM26.7 247.0h1.35v1.35h-1.35zM37.2 234.6h1.35v1.35h-1.35zM36.7 232.8h1.35v1.35h-1.35zM34.6 243.0h1.35v1.35h-1.35zM28.6 236.3h1.35v1.35h-1.35zM33.8 237.0h1.35v1.35h-1.35zM28.3 228.6h1.35v1.35h-1.35zM27.2 244.4h1.35v1.35h-1.35zM38.8 249.3h1.35v1.35h-1.35zM28.1 234.2h1.35v1.35h-1.35zM46.4 249.3h1.35v1.35h-1.35zM42.7 249.3h1.35v1.35h-1.35zM32.4 222.9h1.35v1.35h-1.35zM39.2 237.6h1.35v1.35h-1.35zM28.2 238.9h1.35v1.35h-1.35zM37.3 247.2h1.35v1.35h-1.35zM37.3 241.0h1.35v1.35h-1.35zM32.3 240.2h1.35v1.35h-1.35zM35.1 241.5h1.35v1.35h-1.35zM35.0 245.2h1.35v1.35h-1.35zM44.7 242.7h1.35v1.35h-1.35zM27.5 237.8h1.35v1.35h-1.35zM42.9 234.6h1.35v1.35h-1.35zM28.2 238.5h1.35v1.35h-1.35zM34.3 234.2h1.35v1.35h-1.35zM30.3 237.4h1.35v1.35h-1.35zM48.6 242.3h1.35v1.35h-1.35zM41.5 245.9h1.35v1.35h-1.35zM56.5 250.2h1.35v1.35h-1.35zM42.1 245.1h1.35v1.35h-1.35zM43.8 235.0h1.35v1.35h-1.35zM43.7 246.1h1.35v1.35h-1.35zM32.1 244.0h1.35v1.35h-1.35zM36.4 245.0h1.35v1.35h-1.35zM47.8 241.9h1.35v1.35h-1.35zM33.8 231.3h1.35v1.35h-1.35zM38.5 233.6h1.35v1.35h-1.35zM36.8 248.4h1.35v1.35h-1.35zM41.9 237.7h1.35v1.35h-1.35zM34.1 225.2h1.35v1.35h-1.35zM35.8 237.4h1.35v1.35h-1.35zM38.9 242.0h1.35v1.35h-1.35zM37.8 250.5h1.35v1.35h-1.35zM30.1 233.9h1.35v1.35h-1.35zM44.2 247.3h1.35v1.35h-1.35zM26.8 248.4h1.35v1.35h-1.35zM27.4 236.4h1.35v1.35h-1.35zM26.7 240.5h1.35v1.35h-1.35zM44.7 245.8h1.35v1.35h-1.35zM34.1 246.2h1.35v1.35h-1.35zM29.2 248.8h1.35v1.35h-1.35zM27.9 244.7h1.35v1.35h-1.35zM40.4 250.9h1.35v1.35h-1.35zM28.6 240.9h1.35v1.35h-1.35zM26.8 241.2h1.35v1.35h-1.35zM41.9 235.1h1.35v1.35h-1.35zM27.4 242.0h1.35v1.35h-1.35zM34.4 241.3h1.35v1.35h-1.35zM36.9 237.8h1.35v1.35h-1.35zM33.4 240.5h1.35v1.35h-1.35zM36.6 249.8h1.35v1.35h-1.35zM47.7 249.4h1.35v1.35h-1.35zM32.9 240.5h1.35v1.35h-1.35zM26.9 250.6h1.35v1.35h-1.35zM31.1 224.6h1.35v1.35h-1.35zM35.4 242.8h1.35v1.35h-1.35zM34.2 248.9h1.35v1.35h-1.35zM39.1 222.8h1.35v1.35h-1.35zM33.3 232.7h1.35v1.35h-1.35zM33.2 250.4h1.35v1.35h-1.35zM31.2 239.9h1.35v1.35h-1.35zM32.8 233.2h1.35v1.35h-1.35zM38.3 239.0h1.35v1.35h-1.35zM34.0 237.7h1.35v1.35h-1.35zM37.8 247.8h1.35v1.35h-1.35zM52.2 245.6h1.35v1.35h-1.35zM40.8 239.8h1.35v1.35h-1.35zM29.0 236.7h1.35v1.35h-1.35zM50.9 241.6h1.35v1.35h-1.35zM39.8 249.4h1.35v1.35h-1.35zM29.5 244.8h1.35v1.35h-1.35zM44.3 247.1h1.35v1.35h-1.35zM37.1 240.8h1.35v1.35h-1.35zM32.1 231.7h1.35v1.35h-1.35zM31.9 236.3h1.35v1.35h-1.35zM29.1 247.2h1.35v1.35h-1.35zM37.4 242.8h1.35v1.35h-1.35zM45.6 234.8h1.35v1.35h-1.35zM34.4 229.1h1.35v1.35h-1.35zM40.4 242.9h1.35v1.35h-1.35zM52.0 239.3h1.35v1.35h-1.35zM27.3 239.2h1.35v1.35h-1.35zM39.1 239.4h1.35v1.35h-1.35zM34.5 244.3h1.35v1.35h-1.35zM28.5 244.4h1.35v1.35h-1.35zM28.8 249.7h1.35v1.35h-1.35zM36.9 249.4h1.35v1.35h-1.35zM40.5 249.3h1.35v1.35h-1.35zM32.7 248.5h1.35v1.35h-1.35zM37.4 239.3h1.35v1.35h-1.35zM42.8 241.6h1.35v1.35h-1.35zM39.4 246.0h1.35v1.35h-1.35zM45.1 246.0h1.35v1.35h-1.35zM34.7 234.3h1.35v1.35h-1.35zM37.1 240.6h1.35v1.35h-1.35zM28.5 240.6h1.35v1.35h-1.35zM35.4 228.2h1.35v1.35h-1.35zM48.8 243.3h1.35v1.35h-1.35zM38.6 239.0h1.35v1.35h-1.35zM39.8 239.0h1.35v1.35h-1.35zM40.9 244.4h1.35v1.35h-1.35zM40.0 227.9h1.35v1.35h-1.35zM45.5 231.3h1.35v1.35h-1.35zM33.0 250.7h1.35v1.35h-1.35zM34.3 233.5h1.35v1.35h-1.35zM47.4 232.4h1.35v1.35h-1.35zM38.5 227.8h1.35v1.35h-1.35zM49.1 233.8h1.35v1.35h-1.35zM30.2 240.0h1.35v1.35h-1.35zM45.0 227.0h1.35v1.35h-1.35zM37.9 233.2h1.35v1.35h-1.35zM37.9 232.4h1.35v1.35h-1.35zM47.3 229.8h1.35v1.35h-1.35zM30.0 245.8h1.35v1.35h-1.35zM38.8 250.1h1.35v1.35h-1.35zM32.7 248.9h1.35v1.35h-1.35zM34.9 237.0h1.35v1.35h-1.35zM45.8 227.7h1.35v1.35h-1.35zM36.2 234.7h1.35v1.35h-1.35zM45.0 239.1h1.35v1.35h-1.35zM27.3 235.5h1.35v1.35h-1.35zM50.0 244.3h1.35v1.35h-1.35zM49.0 244.6h1.35v1.35h-1.35zM42.6 248.4h1.35v1.35h-1.35zM31.5 237.7h1.35v1.35h-1.35zM42.1 232.0h1.35v1.35h-1.35zM31.4 248.8h1.35v1.35h-1.35zM35.6 248.1h1.35v1.35h-1.35zM27.8 229.2h1.35v1.35h-1.35zM28.6 231.3h1.35v1.35h-1.35zM30.6 242.5h1.35v1.35h-1.35zM31.2 246.5h1.35v1.35h-1.35zM46.3 250.0h1.35v1.35h-1.35zM32.6 226.5h1.35v1.35h-1.35zM46.0 230.7h1.35v1.35h-1.35zM27.1 236.6h1.35v1.35h-1.35zM28.3 239.8h1.35v1.35h-1.35zM28.4 245.5h1.35v1.35h-1.35zM48.4 239.9h1.35v1.35h-1.35zM45.8 239.0h1.35v1.35h-1.35zM27.4 232.0h1.35v1.35h-1.35zM48.4 242.3h1.35v1.35h-1.35zM32.2 240.6h1.35v1.35h-1.35zM33.1 249.6h1.35v1.35h-1.35zM40.4 230.7h1.35v1.35h-1.35zM31.7 229.1h1.35v1.35h-1.35zM49.4 234.8h1.35v1.35h-1.35zM35.4 234.1h1.35v1.35h-1.35zM40.1 237.3h1.35v1.35h-1.35zM40.2 230.3h1.35v1.35h-1.35zM33.5 243.7h1.35v1.35h-1.35zM43.9 246.6h1.35v1.35h-1.35zM49.8 226.2h1.35v1.35h-1.35zM40.7 248.8h1.35v1.35h-1.35zM28.9 228.3h1.35v1.35h-1.35zM45.6 233.7h1.35v1.35h-1.35zM42.3 238.2h1.35v1.35h-1.35zM38.3 236.6h1.35v1.35h-1.35zM42.0 231.4h1.35v1.35h-1.35zM33.0 244.2h1.35v1.35h-1.35zM34.0 247.0h1.35v1.35h-1.35zM38.9 231.7h1.35v1.35h-1.35zM28.6 230.1h1.35v1.35h-1.35zM40.5 239.0h1.35v1.35h-1.35zM31.2 229.7h1.35v1.35h-1.35zM32.8 249.5h1.35v1.35h-1.35zM47.7 247.3h1.35v1.35h-1.35zM40.5 246.9h1.35v1.35h-1.35zM32.6 236.3h1.35v1.35h-1.35zM43.1 245.7h1.35v1.35h-1.35zM49.9 235.8h1.35v1.35h-1.35zM47.6 237.4h1.35v1.35h-1.35zM45.6 186.0h1.35v1.35h-1.35zM35.0 199.1h1.35v1.35h-1.35zM34.1 201.9h1.35v1.35h-1.35zM44.5 192.2h1.35v1.35h-1.35zM41.3 202.7h1.35v1.35h-1.35zM41.2 194.7h1.35v1.35h-1.35zM29.1 205.6h1.35v1.35h-1.35zM34.8 200.7h1.35v1.35h-1.35zM33.9 198.6h1.35v1.35h-1.35zM38.2 211.1h1.35v1.35h-1.35zM26.9 202.8h1.35v1.35h-1.35zM44.6 206.2h1.35v1.35h-1.35zM38.8 188.7h1.35v1.35h-1.35zM39.6 192.5h1.35v1.35h-1.35zM29.9 202.9h1.35v1.35h-1.35zM36.8 203.3h1.35v1.35h-1.35zM45.0 196.6h1.35v1.35h-1.35zM26.7 192.6h1.35v1.35h-1.35zM27.6 186.1h1.35v1.35h-1.35zM27.3 190.8h1.35v1.35h-1.35zM27.5 196.3h1.35v1.35h-1.35zM27.1 185.7h1.35v1.35h-1.35zM26.9 185.6h1.35v1.35h-1.35zM27.1 186.2h1.35v1.35h-1.35zM95.9 244.1h1.35v1.35h-1.35zM95.6 246.3h1.35v1.35h-1.35zM96.1 247.3h1.35v1.35h-1.35zM98.3 239.9h1.35v1.35h-1.35zM96.5 247.1h1.35v1.35h-1.35zM96.3 243.7h1.35v1.35h-1.35zM95.9 240.3h1.35v1.35h-1.35zM93.0 246.0h1.35v1.35h-1.35zM94.1 249.6h1.35v1.35h-1.35zM97.9 237.7h1.35v1.35h-1.35zM96.8 236.7h1.35v1.35h-1.35zM96.3 236.7h1.35v1.35h-1.35zM96.5 247.1h1.35v1.35h-1.35zM94.6 243.7h1.35v1.35h-1.35zM96.0 244.7h1.35v1.35h-1.35zM94.1 241.1h1.35v1.35h-1.35zM96.1 240.3h1.35v1.35h-1.35zM94.4 234.9h1.35v1.35h-1.35zM95.2 245.9h1.35v1.35h-1.35zM96.2 246.3h1.35v1.35h-1.35zM95.0 235.1h1.35v1.35h-1.35zM96.5 239.8h1.35v1.35h-1.35zM96.2 241.3h1.35v1.35h-1.35zM96.1 244.9h1.35v1.35h-1.35zM97.6 246.2h1.35v1.35h-1.35zM93.1 250.6h1.35v1.35h-1.35zM92.9 250.2h1.35v1.35h-1.35zM96.5 250.3h1.35v1.35h-1.35zM97.0 250.3h1.35v1.35h-1.35zM98.7 239.2h1.35v1.35h-1.35zM96.7 242.2h1.35v1.35h-1.35zM96.8 250.7h1.35v1.35h-1.35zM94.1 246.4h1.35v1.35h-1.35zM96.7 245.1h1.35v1.35h-1.35zM96.6 235.1h1.35v1.35h-1.35zM93.8 235.7h1.35v1.35h-1.35zM94.1 248.7h1.35v1.35h-1.35zM95.3 246.7h1.35v1.35h-1.35zM96.0 243.5h1.35v1.35h-1.35zM90.8 242.9h1.35v1.35h-1.35zM95.6 236.4h1.35v1.35h-1.35zM95.9 246.9h1.35v1.35h-1.35zM98.6 213.0h1.35v1.35h-1.35zM100.7 245.0h1.35v1.35h-1.35zM95.2 239.5h1.35v1.35h-1.35zM94.3 236.3h1.35v1.35h-1.35zM91.2 234.1h1.35v1.35h-1.35zM99.3 231.5h1.35v1.35h-1.35zM101.0 235.4h1.35v1.35h-1.35zM92.9 233.8h1.35v1.35h-1.35zM96.0 234.3h1.35v1.35h-1.35zM95.3 235.8h1.35v1.35h-1.35zM93.0 236.9h1.35v1.35h-1.35zM86.3 246.8h1.35v1.35h-1.35zM93.7 225.9h1.35v1.35h-1.35zM97.1 237.8h1.35v1.35h-1.35zM89.9 231.6h1.35v1.35h-1.35zM92.1 228.0h1.35v1.35h-1.35zM53.8 228.7h1.35v1.35h-1.35zM70.9 239.2h1.35v1.35h-1.35zM65.9 242.6h1.35v1.35h-1.35zM59.2 245.7h1.35v1.35h-1.35zM74.9 248.0h1.35v1.35h-1.35zM82.3 248.0h1.35v1.35h-1.35zM86.6 246.2h1.35v1.35h-1.35zM89.0 236.3h1.35v1.35h-1.35zM90.4 248.0h1.35v1.35h-1.35z" fill="#151515"/>
<path d="M52.6 159.2V251.2M26.5 222.3H116.2" stroke="#555" stroke-width="1.15" fill="none"/>
<path d="M26.5 159.2V251.2H116.7" stroke="#111" stroke-width="1.25" fill="none"/>
<path d="M26.50 251.60v2.2M26.10 251.20h-2.2M33.29 251.60v1.4M26.10 244.28h-1.4M37.26 251.60v1.4M26.10 240.23h-1.4M40.08 251.60v1.4M26.10 237.35h-1.4M42.26 251.60v1.4M26.10 235.12h-1.4M44.05 251.60v1.4M26.10 233.30h-1.4M45.56 251.60v1.4M26.10 231.76h-1.4M46.86 251.60v1.4M26.10 230.43h-1.4M48.02 251.60v1.4M26.10 229.25h-1.4M49.05 251.60v2.2M26.10 228.20h-2.2M55.84 251.60v1.4M26.10 221.28h-1.4M59.81 251.60v1.4M26.10 217.23h-1.4M62.63 251.60v1.4M26.10 214.35h-1.4M64.81 251.60v1.4M26.10 212.12h-1.4M66.60 251.60v1.4M26.10 210.30h-1.4M68.11 251.60v1.4M26.10 208.76h-1.4M69.41 251.60v1.4M26.10 207.43h-1.4M70.57 251.60v1.4M26.10 206.25h-1.4M71.60 251.60v2.2M26.10 205.20h-2.2M78.39 251.60v1.4M26.10 198.28h-1.4M82.36 251.60v1.4M26.10 194.23h-1.4M85.18 251.60v1.4M26.10 191.35h-1.4M87.36 251.60v1.4M26.10 189.12h-1.4M89.15 251.60v1.4M26.10 187.30h-1.4M90.66 251.60v1.4M26.10 185.76h-1.4M91.96 251.60v1.4M26.10 184.43h-1.4M93.12 251.60v1.4M26.10 183.25h-1.4M94.15 251.60v2.2M26.10 182.20h-2.2M100.94 251.60v1.4M26.10 175.28h-1.4M104.91 251.60v1.4M26.10 171.23h-1.4M107.73 251.60v1.4M26.10 168.35h-1.4M109.91 251.60v1.4M26.10 166.12h-1.4M111.70 251.60v1.4M26.10 164.30h-1.4M113.21 251.60v1.4M26.10 162.76h-1.4M114.51 251.60v1.4M26.10 161.43h-1.4M115.67 251.60v1.4M26.10 160.25h-1.4M116.70 251.60v2.2M26.10 159.20h-2.2" stroke="#222" stroke-width="0.8" fill="none"/>
<text transform="translate(21.2,262.5) scale(0.82,1)" font-family='"Liberation Sans", sans-serif' font-size="8.6" fill="#111" stroke="#111" stroke-width="0.15">10<tspan font-size="5.8" dx="1.4" dy="-3.3">0</tspan></text>
<text transform="translate(21.5,257.6) rotate(-90) scale(0.9,1)" font-family='"Liberation Sans", sans-serif' font-size="8.4" fill="#111" stroke="#111" stroke-width="0.15">10<tspan font-size="5.8" dx="0.8" dy="-3.1">0</tspan></text>
<text transform="translate(43.8,262.5) scale(0.82,1)" font-family='"Liberation Sans", sans-serif' font-size="8.6" fill="#111" stroke="#111" stroke-width="0.15">10<tspan font-size="5.8" dx="1.4" dy="-3.3">1</tspan></text>
<text transform="translate(21.5,234.6) rotate(-90) scale(0.9,1)" font-family='"Liberation Sans", sans-serif' font-size="8.4" fill="#111" stroke="#111" stroke-width="0.15">10<tspan font-size="5.8" dx="0.8" dy="-3.1">1</tspan></text>
<text transform="translate(66.3,262.5) scale(0.82,1)" font-family='"Liberation Sans", sans-serif' font-size="8.6" fill="#111" stroke="#111" stroke-width="0.15">10<tspan font-size="5.8" dx="1.4" dy="-3.3">2</tspan></text>
<text transform="translate(21.5,211.6) rotate(-90) scale(0.9,1)" font-family='"Liberation Sans", sans-serif' font-size="8.4" fill="#111" stroke="#111" stroke-width="0.15">10<tspan font-size="5.8" dx="0.8" dy="-3.1">2</tspan></text>
<text transform="translate(88.9,262.5) scale(0.82,1)" font-family='"Liberation Sans", sans-serif' font-size="8.6" fill="#111" stroke="#111" stroke-width="0.15">10<tspan font-size="5.8" dx="1.4" dy="-3.3">3</tspan></text>
<text transform="translate(21.5,188.6) rotate(-90) scale(0.9,1)" font-family='"Liberation Sans", sans-serif' font-size="8.4" fill="#111" stroke="#111" stroke-width="0.15">10<tspan font-size="5.8" dx="0.8" dy="-3.1">3</tspan></text>
<text transform="translate(109.2,262.5) scale(0.82,1)" font-family='"Liberation Sans", sans-serif' font-size="8.6" fill="#111" stroke="#111" stroke-width="0.15">10<tspan font-size="5.8" dx="1.4" dy="-3.3">4</tspan></text>
<text transform="translate(21.5,167.9) rotate(-90) scale(0.9,1)" font-family='"Liberation Sans", sans-serif' font-size="8.4" fill="#111" stroke="#111" stroke-width="0.15">10<tspan font-size="5.8" dx="0.8" dy="-3.1">4</tspan></text>
<text x="52.00" y="275.35" font-family='"Liberation Sans", sans-serif' font-size="9.8" textLength="34.80" lengthAdjust="spacingAndGlyphs" fill="#111" stroke="#111" stroke-width="0.38">CD4 PE</text>
<text transform="translate(9.25,226.30) rotate(-90)" font-family='"Liberation Sans", sans-serif' font-size="9.2" textLength="45.80" lengthAdjust="spacingAndGlyphs" fill="#111" stroke="#111" stroke-width="0.3">CD8 APC</text>
<path d="M161.6 239.5h1.35v1.35h-1.35zM157.1 244.9h1.35v1.35h-1.35zM157.7 230.9h1.35v1.35h-1.35zM157.8 244.7h1.35v1.35h-1.35zM172.2 231.5h1.35v1.35h-1.35zM163.9 244.0h1.35v1.35h-1.35zM164.8 225.3h1.35v1.35h-1.35zM156.8 235.0h1.35v1.35h-1.35zM165.0 231.2h1.35v1.35h-1.35zM151.9 226.1h1.35v1.35h-1.35zM150.2 231.7h1.35v1.35h-1.35zM169.0 248.9h1.35v1.35h-1.35zM149.2 232.9h1.35v1.35h-1.35zM172.0 228.0h1.35v1.35h-1.35zM168.4 242.3h1.35v1.35h-1.35zM167.5 245.1h1.35v1.35h-1.35zM150.1 234.0h1.35v1.35h-1.35zM153.9 249.0h1.35v1.35h-1.35zM169.0 243.1h1.35v1.35h-1.35zM159.2 239.0h1.35v1.35h-1.35zM163.7 248.3h1.35v1.35h-1.35zM151.9 246.0h1.35v1.35h-1.35zM153.4 240.7h1.35v1.35h-1.35zM160.7 231.5h1.35v1.35h-1.35zM166.8 238.6h1.35v1.35h-1.35zM161.7 241.1h1.35v1.35h-1.35zM151.5 248.3h1.35v1.35h-1.35zM169.4 249.4h1.35v1.35h-1.35zM152.3 226.6h1.35v1.35h-1.35zM159.3 238.7h1.35v1.35h-1.35zM162.8 249.4h1.35v1.35h-1.35zM156.5 236.2h1.35v1.35h-1.35zM158.8 244.6h1.35v1.35h-1.35zM169.8 231.0h1.35v1.35h-1.35zM159.7 247.6h1.35v1.35h-1.35zM161.7 229.5h1.35v1.35h-1.35zM171.8 231.8h1.35v1.35h-1.35zM155.5 231.4h1.35v1.35h-1.35zM170.0 228.7h1.35v1.35h-1.35zM157.5 242.4h1.35v1.35h-1.35zM156.3 246.9h1.35v1.35h-1.35zM169.7 229.1h1.35v1.35h-1.35zM150.5 230.2h1.35v1.35h-1.35zM169.4 235.3h1.35v1.35h-1.35zM168.5 232.8h1.35v1.35h-1.35zM170.0 241.6h1.35v1.35h-1.35zM150.4 228.0h1.35v1.35h-1.35zM154.6 240.1h1.35v1.35h-1.35zM167.2 238.1h1.35v1.35h-1.35zM159.3 228.1h1.35v1.35h-1.35zM149.1 236.7h1.35v1.35h-1.35zM165.3 234.7h1.35v1.35h-1.35zM167.8 226.8h1.35v1.35h-1.35zM171.9 233.5h1.35v1.35h-1.35zM152.5 241.7h1.35v1.35h-1.35zM154.9 247.8h1.35v1.35h-1.35zM168.8 249.8h1.35v1.35h-1.35zM151.2 244.2h1.35v1.35h-1.35zM155.4 235.6h1.35v1.35h-1.35zM159.6 228.9h1.35v1.35h-1.35zM158.8 242.8h1.35v1.35h-1.35zM161.8 239.9h1.35v1.35h-1.35zM169.4 247.4h1.35v1.35h-1.35zM163.8 231.7h1.35v1.35h-1.35zM164.4 242.1h1.35v1.35h-1.35zM162.9 227.4h1.35v1.35h-1.35zM154.0 233.0h1.35v1.35h-1.35zM159.6 236.2h1.35v1.35h-1.35zM172.2 245.9h1.35v1.35h-1.35zM170.4 234.0h1.35v1.35h-1.35zM167.0 241.1h1.35v1.35h-1.35zM161.5 250.6h1.35v1.35h-1.35zM169.4 249.6h1.35v1.35h-1.35zM163.8 237.4h1.35v1.35h-1.35zM158.3 230.4h1.35v1.35h-1.35zM161.4 241.0h1.35v1.35h-1.35zM153.7 245.6h1.35v1.35h-1.35zM162.5 240.4h1.35v1.35h-1.35zM156.4 244.4h1.35v1.35h-1.35zM167.4 230.5h1.35v1.35h-1.35zM168.4 232.4h1.35v1.35h-1.35zM172.4 229.1h1.35v1.35h-1.35zM168.6 226.5h1.35v1.35h-1.35zM150.4 237.0h1.35v1.35h-1.35zM166.0 245.1h1.35v1.35h-1.35zM168.0 234.7h1.35v1.35h-1.35zM169.5 249.8h1.35v1.35h-1.35zM160.6 234.1h1.35v1.35h-1.35zM160.2 234.9h1.35v1.35h-1.35zM161.5 247.2h1.35v1.35h-1.35zM152.6 242.2h1.35v1.35h-1.35zM171.5 238.9h1.35v1.35h-1.35zM172.2 231.1h1.35v1.35h-1.35zM155.2 227.3h1.35v1.35h-1.35zM171.5 229.3h1.35v1.35h-1.35zM153.9 229.3h1.35v1.35h-1.35zM151.0 235.9h1.35v1.35h-1.35zM166.2 233.6h1.35v1.35h-1.35zM168.2 239.2h1.35v1.35h-1.35zM153.7 231.8h1.35v1.35h-1.35zM171.4 242.8h1.35v1.35h-1.35zM158.4 249.6h1.35v1.35h-1.35zM153.4 246.3h1.35v1.35h-1.35zM156.1 240.0h1.35v1.35h-1.35zM151.7 231.7h1.35v1.35h-1.35zM167.1 245.6h1.35v1.35h-1.35zM155.7 246.7h1.35v1.35h-1.35zM165.3 227.4h1.35v1.35h-1.35zM159.8 247.0h1.35v1.35h-1.35zM151.9 248.9h1.35v1.35h-1.35zM162.8 230.3h1.35v1.35h-1.35zM171.7 229.8h1.35v1.35h-1.35zM153.3 243.9h1.35v1.35h-1.35zM171.6 237.5h1.35v1.35h-1.35zM151.8 226.9h1.35v1.35h-1.35zM162.5 240.9h1.35v1.35h-1.35zM153.1 246.6h1.35v1.35h-1.35zM172.4 244.0h1.35v1.35h-1.35zM161.9 226.3h1.35v1.35h-1.35zM169.5 226.1h1.35v1.35h-1.35zM165.6 238.5h1.35v1.35h-1.35zM159.5 242.1h1.35v1.35h-1.35zM155.1 248.9h1.35v1.35h-1.35zM169.5 243.5h1.35v1.35h-1.35zM169.8 242.6h1.35v1.35h-1.35zM167.4 247.8h1.35v1.35h-1.35zM168.0 235.6h1.35v1.35h-1.35zM150.0 229.5h1.35v1.35h-1.35zM154.1 228.0h1.35v1.35h-1.35zM162.0 234.3h1.35v1.35h-1.35zM150.8 247.5h1.35v1.35h-1.35zM162.9 239.3h1.35v1.35h-1.35zM171.3 226.1h1.35v1.35h-1.35zM157.3 248.6h1.35v1.35h-1.35zM165.2 246.4h1.35v1.35h-1.35zM153.7 226.5h1.35v1.35h-1.35zM167.7 245.4h1.35v1.35h-1.35zM170.1 229.7h1.35v1.35h-1.35zM168.2 226.3h1.35v1.35h-1.35zM159.4 235.3h1.35v1.35h-1.35zM157.2 243.3h1.35v1.35h-1.35zM151.0 232.0h1.35v1.35h-1.35zM168.9 236.2h1.35v1.35h-1.35zM170.2 246.8h1.35v1.35h-1.35zM150.2 235.5h1.35v1.35h-1.35zM154.8 234.4h1.35v1.35h-1.35zM152.3 248.6h1.35v1.35h-1.35zM166.4 238.1h1.35v1.35h-1.35zM155.0 250.2h1.35v1.35h-1.35zM157.7 230.9h1.35v1.35h-1.35zM149.2 242.5h1.35v1.35h-1.35zM166.8 250.7h1.35v1.35h-1.35zM157.1 231.0h1.35v1.35h-1.35zM161.4 238.9h1.35v1.35h-1.35zM156.6 239.5h1.35v1.35h-1.35zM156.3 236.0h1.35v1.35h-1.35zM152.6 236.5h1.35v1.35h-1.35zM150.4 249.5h1.35v1.35h-1.35zM159.3 239.2h1.35v1.35h-1.35zM152.4 240.8h1.35v1.35h-1.35zM159.0 247.6h1.35v1.35h-1.35zM158.0 236.4h1.35v1.35h-1.35zM157.7 229.0h1.35v1.35h-1.35zM162.4 246.9h1.35v1.35h-1.35zM157.3 245.5h1.35v1.35h-1.35zM152.9 243.9h1.35v1.35h-1.35zM151.2 244.5h1.35v1.35h-1.35zM167.6 233.4h1.35v1.35h-1.35zM148.9 235.8h1.35v1.35h-1.35zM165.5 249.3h1.35v1.35h-1.35zM167.6 250.8h1.35v1.35h-1.35zM151.8 246.5h1.35v1.35h-1.35zM158.4 237.9h1.35v1.35h-1.35zM151.2 234.0h1.35v1.35h-1.35zM161.4 235.0h1.35v1.35h-1.35zM150.6 234.1h1.35v1.35h-1.35zM150.6 246.6h1.35v1.35h-1.35zM153.2 236.8h1.35v1.35h-1.35zM152.8 238.8h1.35v1.35h-1.35zM151.9 247.1h1.35v1.35h-1.35zM157.4 246.9h1.35v1.35h-1.35zM154.8 242.5h1.35v1.35h-1.35zM151.4 245.5h1.35v1.35h-1.35zM162.6 242.1h1.35v1.35h-1.35zM173.0 228.5h1.35v1.35h-1.35zM156.5 241.5h1.35v1.35h-1.35zM151.1 239.1h1.35v1.35h-1.35zM149.1 239.5h1.35v1.35h-1.35zM160.1 243.7h1.35v1.35h-1.35zM154.2 238.0h1.35v1.35h-1.35zM156.1 250.6h1.35v1.35h-1.35zM155.4 240.8h1.35v1.35h-1.35zM149.3 243.2h1.35v1.35h-1.35zM149.5 244.3h1.35v1.35h-1.35zM162.6 240.8h1.35v1.35h-1.35zM154.1 246.6h1.35v1.35h-1.35zM158.8 247.3h1.35v1.35h-1.35zM159.4 246.4h1.35v1.35h-1.35zM163.9 237.0h1.35v1.35h-1.35zM165.1 235.6h1.35v1.35h-1.35zM161.0 237.7h1.35v1.35h-1.35zM157.1 242.0h1.35v1.35h-1.35zM161.7 228.8h1.35v1.35h-1.35zM160.2 235.9h1.35v1.35h-1.35zM154.3 233.8h1.35v1.35h-1.35zM154.0 237.1h1.35v1.35h-1.35zM153.0 235.4h1.35v1.35h-1.35zM153.7 247.5h1.35v1.35h-1.35zM160.0 245.0h1.35v1.35h-1.35zM160.5 248.5h1.35v1.35h-1.35zM154.3 234.9h1.35v1.35h-1.35zM161.9 236.4h1.35v1.35h-1.35zM148.8 239.7h1.35v1.35h-1.35zM151.2 248.5h1.35v1.35h-1.35zM155.8 248.4h1.35v1.35h-1.35zM160.0 237.5h1.35v1.35h-1.35zM153.7 246.3h1.35v1.35h-1.35zM164.6 245.1h1.35v1.35h-1.35zM158.9 234.7h1.35v1.35h-1.35zM149.4 240.6h1.35v1.35h-1.35zM156.6 251.0h1.35v1.35h-1.35zM149.8 247.0h1.35v1.35h-1.35zM149.3 235.0h1.35v1.35h-1.35zM151.4 249.4h1.35v1.35h-1.35zM165.8 248.8h1.35v1.35h-1.35zM162.4 246.8h1.35v1.35h-1.35zM152.6 233.3h1.35v1.35h-1.35zM163.8 240.8h1.35v1.35h-1.35zM162.7 250.8h1.35v1.35h-1.35zM153.5 245.4h1.35v1.35h-1.35zM159.6 247.6h1.35v1.35h-1.35zM171.7 240.1h1.35v1.35h-1.35zM158.0 249.4h1.35v1.35h-1.35zM159.0 240.3h1.35v1.35h-1.35zM163.9 248.4h1.35v1.35h-1.35zM148.8 244.2h1.35v1.35h-1.35zM150.3 235.2h1.35v1.35h-1.35zM151.3 249.6h1.35v1.35h-1.35zM155.5 233.1h1.35v1.35h-1.35zM162.1 236.8h1.35v1.35h-1.35zM150.0 243.0h1.35v1.35h-1.35zM151.0 232.1h1.35v1.35h-1.35zM157.5 229.3h1.35v1.35h-1.35zM153.6 241.1h1.35v1.35h-1.35zM160.4 239.0h1.35v1.35h-1.35zM155.3 240.0h1.35v1.35h-1.35zM155.0 245.5h1.35v1.35h-1.35zM155.7 244.2h1.35v1.35h-1.35zM156.5 239.0h1.35v1.35h-1.35zM167.2 189.6h1.35v1.35h-1.35zM156.1 180.1h1.35v1.35h-1.35zM154.5 185.8h1.35v1.35h-1.35zM156.0 191.9h1.35v1.35h-1.35zM150.2 197.2h1.35v1.35h-1.35zM156.2 201.6h1.35v1.35h-1.35zM157.7 186.3h1.35v1.35h-1.35zM150.7 195.0h1.35v1.35h-1.35zM156.4 192.3h1.35v1.35h-1.35zM159.3 195.0h1.35v1.35h-1.35zM148.9 187.1h1.35v1.35h-1.35zM149.3 194.2h1.35v1.35h-1.35zM148.9 189.0h1.35v1.35h-1.35zM148.7 187.9h1.35v1.35h-1.35zM149.2 187.8h1.35v1.35h-1.35zM149.6 187.3h1.35v1.35h-1.35zM148.7 190.1h1.35v1.35h-1.35zM148.7 188.3h1.35v1.35h-1.35zM216.4 250.9h1.35v1.35h-1.35zM221.1 242.5h1.35v1.35h-1.35zM216.0 240.7h1.35v1.35h-1.35zM214.6 245.7h1.35v1.35h-1.35zM214.0 236.7h1.35v1.35h-1.35zM217.1 243.9h1.35v1.35h-1.35zM214.5 250.0h1.35v1.35h-1.35zM214.8 243.9h1.35v1.35h-1.35zM214.8 246.7h1.35v1.35h-1.35zM213.8 245.9h1.35v1.35h-1.35zM217.1 250.0h1.35v1.35h-1.35zM213.0 246.5h1.35v1.35h-1.35zM221.8 245.0h1.35v1.35h-1.35zM210.6 227.3h1.35v1.35h-1.35zM213.7 241.4h1.35v1.35h-1.35zM216.9 247.5h1.35v1.35h-1.35zM217.7 243.2h1.35v1.35h-1.35zM216.0 240.2h1.35v1.35h-1.35zM217.4 248.5h1.35v1.35h-1.35zM217.1 239.5h1.35v1.35h-1.35zM217.0 242.2h1.35v1.35h-1.35zM218.1 247.3h1.35v1.35h-1.35zM217.3 241.3h1.35v1.35h-1.35zM216.6 244.7h1.35v1.35h-1.35zM216.5 243.7h1.35v1.35h-1.35zM218.7 237.8h1.35v1.35h-1.35zM216.4 241.2h1.35v1.35h-1.35zM218.1 241.9h1.35v1.35h-1.35zM220.3 240.5h1.35v1.35h-1.35zM217.7 249.2h1.35v1.35h-1.35zM219.5 243.6h1.35v1.35h-1.35zM215.9 240.5h1.35v1.35h-1.35zM217.4 236.8h1.35v1.35h-1.35zM217.9 242.1h1.35v1.35h-1.35zM217.3 250.2h1.35v1.35h-1.35zM217.9 242.1h1.35v1.35h-1.35zM218.3 229.6h1.35v1.35h-1.35zM217.0 236.0h1.35v1.35h-1.35zM213.2 233.8h1.35v1.35h-1.35zM211.4 238.7h1.35v1.35h-1.35zM217.4 240.0h1.35v1.35h-1.35zM208.5 237.4h1.35v1.35h-1.35zM217.5 236.9h1.35v1.35h-1.35zM210.5 233.3h1.35v1.35h-1.35zM218.7 239.3h1.35v1.35h-1.35zM213.7 234.3h1.35v1.35h-1.35zM214.9 236.5h1.35v1.35h-1.35zM219.5 236.8h1.35v1.35h-1.35zM182.8 233.2h1.35v1.35h-1.35zM184.5 245.3h1.35v1.35h-1.35z" fill="#151515"/>
<path d="M174.3 158.7V251.2M148.5 223.3H239.7" stroke="#555" stroke-width="1.15" fill="none"/>
<path d="M148.5 158.7V251.2H240.2" stroke="#111" stroke-width="1.25" fill="none"/>
<path d="M148.50 251.60v2.2M148.10 251.20h-2.2M155.40 251.60v1.4M148.10 244.24h-1.4M159.44 251.60v1.4M148.10 240.17h-1.4M162.30 251.60v1.4M148.10 237.28h-1.4M164.52 251.60v1.4M148.10 235.04h-1.4M166.34 251.60v1.4M148.10 233.21h-1.4M167.87 251.60v1.4M148.10 231.66h-1.4M169.20 251.60v1.4M148.10 230.32h-1.4M170.38 251.60v1.4M148.10 229.13h-1.4M171.43 251.60v2.2M148.10 228.07h-2.2M178.33 251.60v1.4M148.10 221.11h-1.4M182.36 251.60v1.4M148.10 217.04h-1.4M185.23 251.60v1.4M148.10 214.15h-1.4M187.45 251.60v1.4M148.10 211.91h-1.4M189.26 251.60v1.4M148.10 210.08h-1.4M190.80 251.60v1.4M148.10 208.53h-1.4M192.13 251.60v1.4M148.10 207.19h-1.4M193.30 251.60v1.4M148.10 206.01h-1.4M194.35 251.60v2.2M148.10 204.95h-2.2M201.25 251.60v1.4M148.10 197.99h-1.4M205.29 251.60v1.4M148.10 193.92h-1.4M208.15 251.60v1.4M148.10 191.03h-1.4M210.37 251.60v1.4M148.10 188.79h-1.4M212.19 251.60v1.4M148.10 186.96h-1.4M213.72 251.60v1.4M148.10 185.41h-1.4M215.05 251.60v1.4M148.10 184.07h-1.4M216.23 251.60v1.4M148.10 182.88h-1.4M217.27 251.60v2.2M148.10 181.82h-2.2M224.18 251.60v1.4M148.10 174.86h-1.4M228.21 251.60v1.4M148.10 170.79h-1.4M231.08 251.60v1.4M148.10 167.90h-1.4M233.30 251.60v1.4M148.10 165.66h-1.4M235.11 251.60v1.4M148.10 163.83h-1.4M236.65 251.60v1.4M148.10 162.28h-1.4M237.98 251.60v1.4M148.10 160.94h-1.4M239.15 251.60v1.4M148.10 159.76h-1.4M240.20 251.60v2.2M148.10 158.70h-2.2" stroke="#222" stroke-width="0.8" fill="none"/>
<text transform="translate(143.2,262.7) scale(0.82,1)" font-family='"Liberation Sans", sans-serif' font-size="8.6" fill="#111" stroke="#111" stroke-width="0.15">10<tspan font-size="5.8" dx="1.4" dy="-3.3">0</tspan></text>
<text transform="translate(143.5,257.6) rotate(-90) scale(0.9,1)" font-family='"Liberation Sans", sans-serif' font-size="8.4" fill="#111" stroke="#111" stroke-width="0.15">10<tspan font-size="5.8" dx="0.8" dy="-3.1">0</tspan></text>
<text transform="translate(166.1,262.7) scale(0.82,1)" font-family='"Liberation Sans", sans-serif' font-size="8.6" fill="#111" stroke="#111" stroke-width="0.15">10<tspan font-size="5.8" dx="1.4" dy="-3.3">1</tspan></text>
<text transform="translate(143.5,234.5) rotate(-90) scale(0.9,1)" font-family='"Liberation Sans", sans-serif' font-size="8.4" fill="#111" stroke="#111" stroke-width="0.15">10<tspan font-size="5.8" dx="0.8" dy="-3.1">1</tspan></text>
<text transform="translate(189.0,262.7) scale(0.82,1)" font-family='"Liberation Sans", sans-serif' font-size="8.6" fill="#111" stroke="#111" stroke-width="0.15">10<tspan font-size="5.8" dx="1.4" dy="-3.3">2</tspan></text>
<text transform="translate(143.5,211.3) rotate(-90) scale(0.9,1)" font-family='"Liberation Sans", sans-serif' font-size="8.4" fill="#111" stroke="#111" stroke-width="0.15">10<tspan font-size="5.8" dx="0.8" dy="-3.1">2</tspan></text>
<text transform="translate(212.0,262.7) scale(0.82,1)" font-family='"Liberation Sans", sans-serif' font-size="8.6" fill="#111" stroke="#111" stroke-width="0.15">10<tspan font-size="5.8" dx="1.4" dy="-3.3">3</tspan></text>
<text transform="translate(143.5,188.2) rotate(-90) scale(0.9,1)" font-family='"Liberation Sans", sans-serif' font-size="8.4" fill="#111" stroke="#111" stroke-width="0.15">10<tspan font-size="5.8" dx="0.8" dy="-3.1">3</tspan></text>
<text transform="translate(232.7,262.7) scale(0.82,1)" font-family='"Liberation Sans", sans-serif' font-size="8.6" fill="#111" stroke="#111" stroke-width="0.15">10<tspan font-size="5.8" dx="1.4" dy="-3.3">4</tspan></text>
<text transform="translate(143.5,167.4) rotate(-90) scale(0.9,1)" font-family='"Liberation Sans", sans-serif' font-size="8.4" fill="#111" stroke="#111" stroke-width="0.15">10<tspan font-size="5.8" dx="0.8" dy="-3.1">4</tspan></text>
<text x="168.20" y="275.35" font-family='"Liberation Sans", sans-serif' font-size="9.8" textLength="34.60" lengthAdjust="spacingAndGlyphs" fill="#111" stroke="#111" stroke-width="0.38">CD4 PE</text>
<text transform="translate(132.05,226.85) rotate(-90)" font-family='"Liberation Sans", sans-serif' font-size="9.2" textLength="46.80" lengthAdjust="spacingAndGlyphs" fill="#111" stroke="#111" stroke-width="0.3">CD8 APC</text>
<path d="M301.2 245.4h1.35v1.35h-1.35zM301.8 236.9h1.35v1.35h-1.35zM301.5 237.8h1.35v1.35h-1.35zM300.3 252.6h1.35v1.35h-1.35zM300.5 245.0h1.35v1.35h-1.35zM301.7 237.6h1.35v1.35h-1.35zM300.0 251.7h1.35v1.35h-1.35zM301.6 246.8h1.35v1.35h-1.35zM301.6 245.4h1.35v1.35h-1.35zM300.8 241.5h1.35v1.35h-1.35zM300.5 242.2h1.35v1.35h-1.35zM300.4 238.8h1.35v1.35h-1.35zM300.4 234.8h1.35v1.35h-1.35zM300.8 251.5h1.35v1.35h-1.35zM300.9 243.4h1.35v1.35h-1.35zM301.0 245.0h1.35v1.35h-1.35zM302.0 240.4h1.35v1.35h-1.35zM301.5 249.0h1.35v1.35h-1.35zM301.2 234.5h1.35v1.35h-1.35zM302.0 241.4h1.35v1.35h-1.35zM300.3 234.6h1.35v1.35h-1.35zM300.2 236.5h1.35v1.35h-1.35zM301.1 253.3h1.35v1.35h-1.35zM299.9 247.2h1.35v1.35h-1.35zM299.9 242.6h1.35v1.35h-1.35zM300.9 244.5h1.35v1.35h-1.35zM300.8 251.5h1.35v1.35h-1.35zM301.8 240.9h1.35v1.35h-1.35zM301.2 245.8h1.35v1.35h-1.35zM300.9 247.7h1.35v1.35h-1.35zM300.9 241.1h1.35v1.35h-1.35zM300.3 244.4h1.35v1.35h-1.35zM300.0 249.3h1.35v1.35h-1.35zM300.2 252.2h1.35v1.35h-1.35zM301.3 237.0h1.35v1.35h-1.35zM300.2 252.7h1.35v1.35h-1.35zM300.6 234.1h1.35v1.35h-1.35zM300.0 249.1h1.35v1.35h-1.35zM301.6 250.2h1.35v1.35h-1.35zM300.1 236.7h1.35v1.35h-1.35zM300.4 242.4h1.35v1.35h-1.35zM301.7 250.3h1.35v1.35h-1.35zM300.9 234.3h1.35v1.35h-1.35zM301.7 246.6h1.35v1.35h-1.35zM301.2 249.9h1.35v1.35h-1.35zM301.4 244.3h1.35v1.35h-1.35zM300.0 248.5h1.35v1.35h-1.35zM301.0 238.5h1.35v1.35h-1.35zM300.9 238.0h1.35v1.35h-1.35zM301.7 241.3h1.35v1.35h-1.35zM300.6 237.6h1.35v1.35h-1.35zM301.1 240.9h1.35v1.35h-1.35zM299.9 253.0h1.35v1.35h-1.35zM300.7 245.5h1.35v1.35h-1.35zM300.5 240.8h1.35v1.35h-1.35zM300.1 239.4h1.35v1.35h-1.35zM301.6 253.0h1.35v1.35h-1.35zM300.6 242.9h1.35v1.35h-1.35zM302.0 253.6h1.35v1.35h-1.35zM301.1 244.3h1.35v1.35h-1.35zM301.1 244.4h1.35v1.35h-1.35zM301.2 251.9h1.35v1.35h-1.35zM301.3 248.9h1.35v1.35h-1.35zM300.1 245.6h1.35v1.35h-1.35zM300.8 242.5h1.35v1.35h-1.35zM300.3 251.6h1.35v1.35h-1.35zM300.7 242.2h1.35v1.35h-1.35zM300.0 252.5h1.35v1.35h-1.35zM301.9 235.4h1.35v1.35h-1.35zM300.3 242.6h1.35v1.35h-1.35zM301.3 244.4h1.35v1.35h-1.35zM300.5 253.0h1.35v1.35h-1.35zM301.7 239.0h1.35v1.35h-1.35zM301.3 250.1h1.35v1.35h-1.35zM300.1 247.5h1.35v1.35h-1.35zM301.7 248.3h1.35v1.35h-1.35zM301.9 246.6h1.35v1.35h-1.35zM301.8 253.4h1.35v1.35h-1.35zM303.6 251.0h1.35v1.35h-1.35zM304.3 247.6h1.35v1.35h-1.35zM305.2 250.4h1.35v1.35h-1.35zM300.1 242.1h1.35v1.35h-1.35zM321.9 244.1h1.35v1.35h-1.35zM301.0 242.0h1.35v1.35h-1.35zM302.3 242.7h1.35v1.35h-1.35zM310.0 249.2h1.35v1.35h-1.35zM319.7 243.3h1.35v1.35h-1.35zM305.9 250.1h1.35v1.35h-1.35zM305.1 250.0h1.35v1.35h-1.35zM301.3 247.8h1.35v1.35h-1.35zM308.6 239.6h1.35v1.35h-1.35zM313.6 253.3h1.35v1.35h-1.35zM306.8 247.5h1.35v1.35h-1.35zM307.6 247.9h1.35v1.35h-1.35zM300.2 239.3h1.35v1.35h-1.35zM311.1 245.2h1.35v1.35h-1.35zM302.1 252.5h1.35v1.35h-1.35zM305.7 247.5h1.35v1.35h-1.35zM302.8 248.5h1.35v1.35h-1.35zM303.7 246.3h1.35v1.35h-1.35zM319.0 253.1h1.35v1.35h-1.35zM302.4 247.9h1.35v1.35h-1.35zM309.6 234.8h1.35v1.35h-1.35zM306.7 243.8h1.35v1.35h-1.35zM303.0 236.2h1.35v1.35h-1.35zM302.4 228.5h1.35v1.35h-1.35zM312.7 244.8h1.35v1.35h-1.35zM304.3 252.0h1.35v1.35h-1.35zM305.6 248.3h1.35v1.35h-1.35zM307.2 241.0h1.35v1.35h-1.35zM317.6 242.4h1.35v1.35h-1.35zM313.1 253.2h1.35v1.35h-1.35zM310.4 248.9h1.35v1.35h-1.35zM301.9 248.3h1.35v1.35h-1.35zM305.2 247.7h1.35v1.35h-1.35zM315.5 248.2h1.35v1.35h-1.35zM315.7 252.8h1.35v1.35h-1.35zM305.7 251.3h1.35v1.35h-1.35zM311.9 249.3h1.35v1.35h-1.35zM314.0 241.7h1.35v1.35h-1.35zM314.5 251.1h1.35v1.35h-1.35zM315.3 243.9h1.35v1.35h-1.35zM302.9 253.4h1.35v1.35h-1.35zM320.6 240.4h1.35v1.35h-1.35zM304.0 247.2h1.35v1.35h-1.35zM314.8 248.0h1.35v1.35h-1.35zM311.4 240.1h1.35v1.35h-1.35zM314.9 249.7h1.35v1.35h-1.35zM323.9 251.2h1.35v1.35h-1.35zM320.4 245.2h1.35v1.35h-1.35zM303.1 252.6h1.35v1.35h-1.35zM308.0 250.3h1.35v1.35h-1.35zM314.4 232.3h1.35v1.35h-1.35zM301.9 249.5h1.35v1.35h-1.35zM306.9 247.6h1.35v1.35h-1.35zM314.6 248.5h1.35v1.35h-1.35zM307.6 241.5h1.35v1.35h-1.35zM311.8 246.4h1.35v1.35h-1.35zM309.3 246.9h1.35v1.35h-1.35zM307.4 252.9h1.35v1.35h-1.35zM304.8 250.0h1.35v1.35h-1.35zM307.3 248.0h1.35v1.35h-1.35zM300.5 250.8h1.35v1.35h-1.35zM306.4 244.7h1.35v1.35h-1.35zM305.5 245.7h1.35v1.35h-1.35zM301.5 237.1h1.35v1.35h-1.35zM307.6 250.6h1.35v1.35h-1.35zM331.1 238.7h1.35v1.35h-1.35zM328.0 232.4h1.35v1.35h-1.35zM325.9 248.0h1.35v1.35h-1.35zM313.6 253.8h1.35v1.35h-1.35zM321.5 232.7h1.35v1.35h-1.35zM306.9 246.8h1.35v1.35h-1.35zM325.3 249.6h1.35v1.35h-1.35zM325.2 252.0h1.35v1.35h-1.35zM324.1 232.1h1.35v1.35h-1.35zM315.2 231.3h1.35v1.35h-1.35zM313.1 253.7h1.35v1.35h-1.35zM314.4 231.9h1.35v1.35h-1.35zM302.1 233.4h1.35v1.35h-1.35zM328.0 243.4h1.35v1.35h-1.35zM318.4 240.2h1.35v1.35h-1.35zM313.4 247.8h1.35v1.35h-1.35zM318.5 233.8h1.35v1.35h-1.35zM324.1 251.9h1.35v1.35h-1.35zM313.2 234.4h1.35v1.35h-1.35zM327.6 248.2h1.35v1.35h-1.35zM330.4 230.7h1.35v1.35h-1.35zM317.5 195.1h1.35v1.35h-1.35zM324.1 198.1h1.35v1.35h-1.35zM308.4 202.5h1.35v1.35h-1.35zM317.5 202.5h1.35v1.35h-1.35zM314.0 211.5h1.35v1.35h-1.35zM340.1 202.5h1.35v1.35h-1.35zM339.3 206.8h1.35v1.35h-1.35zM339.3 212.6h1.35v1.35h-1.35zM348.5 210.8h1.35v1.35h-1.35zM345.0 217.8h1.35v1.35h-1.35zM338.0 223.0h1.35v1.35h-1.35zM361.1 223.7h1.35v1.35h-1.35zM334.6 230.0h1.35v1.35h-1.35zM347.5 232.5h1.35v1.35h-1.35zM349.7 232.5h1.35v1.35h-1.35zM357.6 228.6h1.35v1.35h-1.35zM358.5 233.5h1.35v1.35h-1.35zM365.4 230.7h1.35v1.35h-1.35zM334.9 233.9h1.35v1.35h-1.35zM340.1 237.4h1.35v1.35h-1.35zM362.0 240.0h1.35v1.35h-1.35zM368.9 239.5h1.35v1.35h-1.35zM335.8 245.2h1.35v1.35h-1.35zM344.5 246.1h1.35v1.35h-1.35zM364.6 244.7h1.35v1.35h-1.35zM363.7 246.1h1.35v1.35h-1.35zM371.2 247.0h1.35v1.35h-1.35zM341.9 251.7h1.35v1.35h-1.35zM336.6 252.2h1.35v1.35h-1.35zM333.2 240.8h1.35v1.35h-1.35z" fill="#151515"/>
<path d="M333.7 160.2V254.2M299.7 225.5H389.3" stroke="#555" stroke-width="1.15" fill="none"/>
<path d="M299.7 160.2V254.2H389.8" stroke="#111" stroke-width="1.25" fill="none"/>
<path d="M299.70 254.60v2.2M299.30 254.20h-2.2M306.48 254.60v1.4M299.30 247.13h-1.4M310.45 254.60v1.4M299.30 242.99h-1.4M313.26 254.60v1.4M299.30 240.05h-1.4M315.44 254.60v1.4M299.30 237.77h-1.4M317.23 254.60v1.4M299.30 235.91h-1.4M318.74 254.60v1.4M299.30 234.34h-1.4M320.04 254.60v1.4M299.30 232.98h-1.4M321.19 254.60v1.4M299.30 231.78h-1.4M322.23 254.60v2.2M299.30 230.70h-2.2M329.01 254.60v1.4M299.30 223.63h-1.4M332.97 254.60v1.4M299.30 219.49h-1.4M335.79 254.60v1.4M299.30 216.55h-1.4M337.97 254.60v1.4M299.30 214.27h-1.4M339.75 254.60v1.4M299.30 212.41h-1.4M341.26 254.60v1.4M299.30 210.84h-1.4M342.57 254.60v1.4M299.30 209.48h-1.4M343.72 254.60v1.4M299.30 208.28h-1.4M344.75 254.60v2.2M299.30 207.20h-2.2M351.53 254.60v1.4M299.30 200.13h-1.4M355.50 254.60v1.4M299.30 195.99h-1.4M358.31 254.60v1.4M299.30 193.05h-1.4M360.49 254.60v1.4M299.30 190.77h-1.4M362.28 254.60v1.4M299.30 188.91h-1.4M363.79 254.60v1.4M299.30 187.34h-1.4M365.09 254.60v1.4M299.30 185.98h-1.4M366.24 254.60v1.4M299.30 184.78h-1.4M367.27 254.60v2.2M299.30 183.70h-2.2M374.06 254.60v1.4M299.30 176.63h-1.4M378.02 254.60v1.4M299.30 172.49h-1.4M380.84 254.60v1.4M299.30 169.55h-1.4M383.02 254.60v1.4M299.30 167.27h-1.4M384.80 254.60v1.4M299.30 165.41h-1.4M386.31 254.60v1.4M299.30 163.84h-1.4M387.62 254.60v1.4M299.30 162.48h-1.4M388.77 254.60v1.4M299.30 161.28h-1.4M389.80 254.60v2.2M299.30 160.20h-2.2" stroke="#222" stroke-width="0.8" fill="none"/>
<text transform="translate(294.4,264.7) scale(0.82,1)" font-family='"Liberation Sans", sans-serif' font-size="8.6" fill="#111" stroke="#111" stroke-width="0.15">10<tspan font-size="5.8" dx="1.4" dy="-3.3">0</tspan></text>
<text transform="translate(294.7,260.6) rotate(-90) scale(0.9,1)" font-family='"Liberation Sans", sans-serif' font-size="8.4" fill="#111" stroke="#111" stroke-width="0.15">10<tspan font-size="5.8" dx="0.8" dy="-3.1">0</tspan></text>
<text transform="translate(316.9,264.7) scale(0.82,1)" font-family='"Liberation Sans", sans-serif' font-size="8.6" fill="#111" stroke="#111" stroke-width="0.15">10<tspan font-size="5.8" dx="1.4" dy="-3.3">1</tspan></text>
<text transform="translate(294.7,237.1) rotate(-90) scale(0.9,1)" font-family='"Liberation Sans", sans-serif' font-size="8.4" fill="#111" stroke="#111" stroke-width="0.15">10<tspan font-size="5.8" dx="0.8" dy="-3.1">1</tspan></text>
<text transform="translate(339.4,264.7) scale(0.82,1)" font-family='"Liberation Sans", sans-serif' font-size="8.6" fill="#111" stroke="#111" stroke-width="0.15">10<tspan font-size="5.8" dx="1.4" dy="-3.3">2</tspan></text>
<text transform="translate(294.7,213.6) rotate(-90) scale(0.9,1)" font-family='"Liberation Sans", sans-serif' font-size="8.4" fill="#111" stroke="#111" stroke-width="0.15">10<tspan font-size="5.8" dx="0.8" dy="-3.1">2</tspan></text>
<text transform="translate(362.0,264.7) scale(0.82,1)" font-family='"Liberation Sans", sans-serif' font-size="8.6" fill="#111" stroke="#111" stroke-width="0.15">10<tspan font-size="5.8" dx="1.4" dy="-3.3">3</tspan></text>
<text transform="translate(294.7,190.1) rotate(-90) scale(0.9,1)" font-family='"Liberation Sans", sans-serif' font-size="8.4" fill="#111" stroke="#111" stroke-width="0.15">10<tspan font-size="5.8" dx="0.8" dy="-3.1">3</tspan></text>
<text transform="translate(382.3,264.7) scale(0.82,1)" font-family='"Liberation Sans", sans-serif' font-size="8.6" fill="#111" stroke="#111" stroke-width="0.15">10<tspan font-size="5.8" dx="1.4" dy="-3.3">4</tspan></text>
<text transform="translate(294.7,168.9) rotate(-90) scale(0.9,1)" font-family='"Liberation Sans", sans-serif' font-size="8.4" fill="#111" stroke="#111" stroke-width="0.15">10<tspan font-size="5.8" dx="0.8" dy="-3.1">4</tspan></text>
<text x="332.85" y="274.05" font-family='"Liberation Sans", sans-serif' font-size="9.8" textLength="33.42" lengthAdjust="spacingAndGlyphs" fill="#111" stroke="#111" stroke-width="0.38">CD4 PE</text>
<text transform="translate(282.05,229.35) rotate(-90)" font-family='"Liberation Sans", sans-serif' font-size="9.2" textLength="46.02" lengthAdjust="spacingAndGlyphs" fill="#111" stroke="#111" stroke-width="0.3">CD8 APC</text>
<path d="M426.9 246.8h1.35v1.35h-1.35zM423.7 236.1h1.35v1.35h-1.35zM423.9 243.6h1.35v1.35h-1.35zM430.2 243.2h1.35v1.35h-1.35zM431.5 251.7h1.35v1.35h-1.35zM431.5 254.0h1.35v1.35h-1.35zM425.3 250.3h1.35v1.35h-1.35zM440.1 241.4h1.35v1.35h-1.35zM440.7 249.0h1.35v1.35h-1.35zM444.1 252.1h1.35v1.35h-1.35zM439.1 245.5h1.35v1.35h-1.35zM432.6 248.4h1.35v1.35h-1.35zM439.9 251.5h1.35v1.35h-1.35zM445.0 247.7h1.35v1.35h-1.35zM427.8 246.3h1.35v1.35h-1.35zM437.9 250.5h1.35v1.35h-1.35zM432.7 247.1h1.35v1.35h-1.35zM444.5 248.4h1.35v1.35h-1.35zM426.3 235.7h1.35v1.35h-1.35zM430.6 235.7h1.35v1.35h-1.35zM435.9 249.8h1.35v1.35h-1.35zM435.1 236.3h1.35v1.35h-1.35zM426.1 250.4h1.35v1.35h-1.35zM435.9 249.2h1.35v1.35h-1.35zM432.1 248.6h1.35v1.35h-1.35zM431.1 242.1h1.35v1.35h-1.35zM431.8 254.1h1.35v1.35h-1.35zM434.8 249.5h1.35v1.35h-1.35zM427.5 244.6h1.35v1.35h-1.35zM445.4 237.1h1.35v1.35h-1.35zM426.1 245.4h1.35v1.35h-1.35zM430.9 242.8h1.35v1.35h-1.35zM432.3 238.2h1.35v1.35h-1.35zM444.7 249.7h1.35v1.35h-1.35zM428.9 251.1h1.35v1.35h-1.35zM445.4 252.8h1.35v1.35h-1.35zM445.5 247.9h1.35v1.35h-1.35zM426.1 245.3h1.35v1.35h-1.35zM432.7 254.0h1.35v1.35h-1.35zM423.1 252.5h1.35v1.35h-1.35zM442.5 245.8h1.35v1.35h-1.35zM426.5 251.0h1.35v1.35h-1.35zM425.1 240.6h1.35v1.35h-1.35zM423.7 253.9h1.35v1.35h-1.35zM433.0 245.5h1.35v1.35h-1.35zM432.8 249.1h1.35v1.35h-1.35zM440.0 245.9h1.35v1.35h-1.35zM440.9 243.0h1.35v1.35h-1.35zM425.5 248.4h1.35v1.35h-1.35zM431.7 245.9h1.35v1.35h-1.35zM423.9 245.5h1.35v1.35h-1.35zM433.6 249.4h1.35v1.35h-1.35zM423.8 237.3h1.35v1.35h-1.35zM423.4 245.4h1.35v1.35h-1.35zM450.0 238.4h1.35v1.35h-1.35zM433.3 246.3h1.35v1.35h-1.35zM438.1 250.8h1.35v1.35h-1.35zM453.3 253.8h1.35v1.35h-1.35zM439.3 244.4h1.35v1.35h-1.35zM432.1 253.1h1.35v1.35h-1.35zM433.4 244.6h1.35v1.35h-1.35zM427.0 235.8h1.35v1.35h-1.35zM441.8 251.4h1.35v1.35h-1.35zM430.4 245.9h1.35v1.35h-1.35zM447.1 248.2h1.35v1.35h-1.35zM430.2 229.0h1.35v1.35h-1.35zM430.2 248.9h1.35v1.35h-1.35zM429.6 249.2h1.35v1.35h-1.35zM438.0 249.2h1.35v1.35h-1.35zM434.5 254.2h1.35v1.35h-1.35zM444.0 244.9h1.35v1.35h-1.35zM428.6 246.4h1.35v1.35h-1.35zM435.3 252.6h1.35v1.35h-1.35zM448.5 251.4h1.35v1.35h-1.35zM431.1 230.0h1.35v1.35h-1.35zM437.3 233.7h1.35v1.35h-1.35zM445.6 250.9h1.35v1.35h-1.35zM437.4 250.3h1.35v1.35h-1.35zM427.9 254.1h1.35v1.35h-1.35zM429.5 245.0h1.35v1.35h-1.35zM452.1 246.8h1.35v1.35h-1.35zM436.4 251.8h1.35v1.35h-1.35zM443.1 242.2h1.35v1.35h-1.35zM429.2 252.0h1.35v1.35h-1.35zM447.5 240.0h1.35v1.35h-1.35zM437.2 249.3h1.35v1.35h-1.35zM433.4 245.9h1.35v1.35h-1.35zM425.8 250.3h1.35v1.35h-1.35zM435.9 252.4h1.35v1.35h-1.35zM429.1 240.0h1.35v1.35h-1.35zM431.2 251.1h1.35v1.35h-1.35zM426.0 248.8h1.35v1.35h-1.35zM429.1 253.9h1.35v1.35h-1.35zM434.3 247.8h1.35v1.35h-1.35zM423.0 244.5h1.35v1.35h-1.35zM433.6 251.5h1.35v1.35h-1.35zM438.3 251.7h1.35v1.35h-1.35zM430.5 253.7h1.35v1.35h-1.35zM428.0 249.1h1.35v1.35h-1.35zM428.0 251.0h1.35v1.35h-1.35zM440.5 237.2h1.35v1.35h-1.35zM425.3 244.3h1.35v1.35h-1.35zM430.6 246.3h1.35v1.35h-1.35zM429.6 244.3h1.35v1.35h-1.35zM434.2 243.1h1.35v1.35h-1.35zM432.4 247.7h1.35v1.35h-1.35zM424.1 250.9h1.35v1.35h-1.35zM449.3 247.4h1.35v1.35h-1.35zM434.4 243.1h1.35v1.35h-1.35zM423.7 241.7h1.35v1.35h-1.35zM425.9 254.0h1.35v1.35h-1.35zM433.8 249.1h1.35v1.35h-1.35zM437.9 241.8h1.35v1.35h-1.35zM423.7 250.2h1.35v1.35h-1.35zM438.7 246.6h1.35v1.35h-1.35zM424.0 245.8h1.35v1.35h-1.35zM426.6 243.7h1.35v1.35h-1.35zM439.8 241.6h1.35v1.35h-1.35zM446.6 248.7h1.35v1.35h-1.35zM432.3 241.3h1.35v1.35h-1.35zM430.5 243.8h1.35v1.35h-1.35zM443.1 250.3h1.35v1.35h-1.35zM424.4 246.2h1.35v1.35h-1.35zM435.2 242.5h1.35v1.35h-1.35zM434.9 249.7h1.35v1.35h-1.35zM441.1 254.2h1.35v1.35h-1.35zM435.4 249.5h1.35v1.35h-1.35zM430.9 239.8h1.35v1.35h-1.35zM437.9 246.2h1.35v1.35h-1.35zM424.0 235.9h1.35v1.35h-1.35zM439.5 251.2h1.35v1.35h-1.35zM427.6 252.6h1.35v1.35h-1.35zM425.7 249.2h1.35v1.35h-1.35zM430.1 249.8h1.35v1.35h-1.35zM433.4 243.8h1.35v1.35h-1.35zM438.7 246.7h1.35v1.35h-1.35zM431.3 254.5h1.35v1.35h-1.35zM438.9 247.5h1.35v1.35h-1.35zM440.8 251.9h1.35v1.35h-1.35zM432.2 249.3h1.35v1.35h-1.35zM425.1 249.4h1.35v1.35h-1.35zM440.4 250.0h1.35v1.35h-1.35zM435.2 253.9h1.35v1.35h-1.35zM429.9 245.7h1.35v1.35h-1.35zM425.1 252.5h1.35v1.35h-1.35zM434.1 242.3h1.35v1.35h-1.35zM424.0 243.7h1.35v1.35h-1.35zM427.5 242.8h1.35v1.35h-1.35zM426.7 253.8h1.35v1.35h-1.35zM436.2 245.7h1.35v1.35h-1.35zM434.9 252.6h1.35v1.35h-1.35zM434.4 240.7h1.35v1.35h-1.35zM444.6 250.5h1.35v1.35h-1.35zM430.2 239.8h1.35v1.35h-1.35zM430.7 253.3h1.35v1.35h-1.35zM449.2 243.0h1.35v1.35h-1.35zM423.4 251.1h1.35v1.35h-1.35zM438.8 243.1h1.35v1.35h-1.35zM423.5 242.5h1.35v1.35h-1.35zM434.9 249.6h1.35v1.35h-1.35zM449.9 235.9h1.35v1.35h-1.35zM435.2 239.5h1.35v1.35h-1.35zM426.8 250.6h1.35v1.35h-1.35zM452.1 242.1h1.35v1.35h-1.35zM428.6 253.6h1.35v1.35h-1.35zM431.4 241.8h1.35v1.35h-1.35zM435.4 236.4h1.35v1.35h-1.35zM423.7 245.0h1.35v1.35h-1.35zM441.9 253.9h1.35v1.35h-1.35zM446.0 247.7h1.35v1.35h-1.35zM439.1 245.8h1.35v1.35h-1.35zM435.6 253.8h1.35v1.35h-1.35zM431.8 242.5h1.35v1.35h-1.35zM440.1 252.9h1.35v1.35h-1.35zM438.2 250.0h1.35v1.35h-1.35zM432.0 240.6h1.35v1.35h-1.35zM435.0 254.3h1.35v1.35h-1.35zM428.9 253.4h1.35v1.35h-1.35zM436.4 246.1h1.35v1.35h-1.35zM432.0 248.6h1.35v1.35h-1.35zM432.7 245.8h1.35v1.35h-1.35zM433.8 239.9h1.35v1.35h-1.35zM437.6 253.3h1.35v1.35h-1.35zM436.7 240.7h1.35v1.35h-1.35zM424.7 251.4h1.35v1.35h-1.35zM432.1 244.0h1.35v1.35h-1.35zM431.5 240.5h1.35v1.35h-1.35zM433.3 252.0h1.35v1.35h-1.35zM428.3 249.3h1.35v1.35h-1.35zM440.8 248.4h1.35v1.35h-1.35zM443.4 247.2h1.35v1.35h-1.35zM445.2 248.7h1.35v1.35h-1.35zM448.2 248.5h1.35v1.35h-1.35zM444.9 245.9h1.35v1.35h-1.35zM429.3 252.1h1.35v1.35h-1.35zM428.1 250.8h1.35v1.35h-1.35zM429.8 252.4h1.35v1.35h-1.35zM437.5 240.6h1.35v1.35h-1.35zM432.0 250.9h1.35v1.35h-1.35zM440.9 248.1h1.35v1.35h-1.35zM446.2 244.6h1.35v1.35h-1.35zM429.6 236.9h1.35v1.35h-1.35zM440.8 253.9h1.35v1.35h-1.35zM429.9 252.9h1.35v1.35h-1.35zM423.1 249.9h1.35v1.35h-1.35zM423.2 250.9h1.35v1.35h-1.35zM430.4 249.0h1.35v1.35h-1.35zM428.2 247.7h1.35v1.35h-1.35zM437.0 249.3h1.35v1.35h-1.35zM445.1 227.8h1.35v1.35h-1.35zM423.7 252.7h1.35v1.35h-1.35zM430.3 248.8h1.35v1.35h-1.35zM445.3 252.5h1.35v1.35h-1.35zM435.8 244.1h1.35v1.35h-1.35zM434.6 240.7h1.35v1.35h-1.35zM430.9 251.3h1.35v1.35h-1.35zM441.1 245.6h1.35v1.35h-1.35zM435.6 248.4h1.35v1.35h-1.35zM424.3 250.6h1.35v1.35h-1.35zM432.5 248.4h1.35v1.35h-1.35zM434.5 237.6h1.35v1.35h-1.35zM438.3 251.7h1.35v1.35h-1.35zM430.9 244.2h1.35v1.35h-1.35zM444.6 246.2h1.35v1.35h-1.35zM437.1 250.6h1.35v1.35h-1.35zM423.2 237.4h1.35v1.35h-1.35zM435.3 245.7h1.35v1.35h-1.35zM442.5 234.8h1.35v1.35h-1.35zM425.8 243.6h1.35v1.35h-1.35zM428.9 249.9h1.35v1.35h-1.35zM446.9 246.5h1.35v1.35h-1.35zM427.0 245.4h1.35v1.35h-1.35zM424.3 251.4h1.35v1.35h-1.35zM441.4 244.5h1.35v1.35h-1.35zM434.6 236.1h1.35v1.35h-1.35zM423.9 254.3h1.35v1.35h-1.35zM424.6 248.6h1.35v1.35h-1.35zM436.7 252.6h1.35v1.35h-1.35zM442.7 244.2h1.35v1.35h-1.35zM439.6 244.0h1.35v1.35h-1.35zM436.3 241.8h1.35v1.35h-1.35zM445.0 233.5h1.35v1.35h-1.35zM435.5 243.7h1.35v1.35h-1.35zM426.3 242.7h1.35v1.35h-1.35zM449.3 251.1h1.35v1.35h-1.35zM423.1 233.5h1.35v1.35h-1.35zM431.9 247.0h1.35v1.35h-1.35zM432.4 245.5h1.35v1.35h-1.35zM444.4 246.2h1.35v1.35h-1.35zM426.9 245.6h1.35v1.35h-1.35zM430.8 248.2h1.35v1.35h-1.35zM427.2 252.6h1.35v1.35h-1.35zM435.7 235.0h1.35v1.35h-1.35zM436.6 252.4h1.35v1.35h-1.35zM438.2 244.6h1.35v1.35h-1.35zM425.6 239.6h1.35v1.35h-1.35zM434.9 233.5h1.35v1.35h-1.35zM425.9 233.7h1.35v1.35h-1.35zM429.2 245.9h1.35v1.35h-1.35zM432.4 238.5h1.35v1.35h-1.35zM443.3 238.5h1.35v1.35h-1.35zM429.5 242.9h1.35v1.35h-1.35zM434.4 246.5h1.35v1.35h-1.35zM426.2 243.0h1.35v1.35h-1.35zM428.4 238.4h1.35v1.35h-1.35zM427.4 242.0h1.35v1.35h-1.35zM431.7 245.1h1.35v1.35h-1.35zM439.1 239.0h1.35v1.35h-1.35zM424.1 252.7h1.35v1.35h-1.35zM438.7 253.7h1.35v1.35h-1.35zM425.3 253.5h1.35v1.35h-1.35zM435.6 244.2h1.35v1.35h-1.35zM428.5 244.1h1.35v1.35h-1.35zM430.5 240.1h1.35v1.35h-1.35zM429.8 252.9h1.35v1.35h-1.35zM441.7 243.2h1.35v1.35h-1.35zM434.9 247.3h1.35v1.35h-1.35zM441.4 232.3h1.35v1.35h-1.35zM429.9 248.1h1.35v1.35h-1.35zM430.9 250.1h1.35v1.35h-1.35zM445.7 246.6h1.35v1.35h-1.35zM426.4 250.7h1.35v1.35h-1.35zM425.8 248.4h1.35v1.35h-1.35zM431.4 246.3h1.35v1.35h-1.35zM447.4 252.4h1.35v1.35h-1.35zM427.9 243.5h1.35v1.35h-1.35zM439.2 237.9h1.35v1.35h-1.35zM445.5 239.3h1.35v1.35h-1.35zM430.9 252.6h1.35v1.35h-1.35zM431.4 249.0h1.35v1.35h-1.35zM446.2 236.7h1.35v1.35h-1.35zM428.4 248.9h1.35v1.35h-1.35zM424.4 251.0h1.35v1.35h-1.35zM439.4 250.2h1.35v1.35h-1.35zM428.7 254.3h1.35v1.35h-1.35zM443.2 236.7h1.35v1.35h-1.35zM437.1 240.3h1.35v1.35h-1.35zM427.2 239.4h1.35v1.35h-1.35zM435.0 247.9h1.35v1.35h-1.35zM432.9 253.0h1.35v1.35h-1.35zM427.5 243.8h1.35v1.35h-1.35zM441.6 249.3h1.35v1.35h-1.35zM427.4 253.0h1.35v1.35h-1.35zM423.2 243.8h1.35v1.35h-1.35zM428.8 252.6h1.35v1.35h-1.35zM439.1 246.2h1.35v1.35h-1.35zM425.6 249.7h1.35v1.35h-1.35zM427.7 252.2h1.35v1.35h-1.35zM427.0 243.9h1.35v1.35h-1.35zM425.3 243.3h1.35v1.35h-1.35zM429.6 249.0h1.35v1.35h-1.35zM423.5 241.0h1.35v1.35h-1.35zM429.1 253.8h1.35v1.35h-1.35zM435.0 244.3h1.35v1.35h-1.35zM425.4 239.1h1.35v1.35h-1.35zM425.7 249.8h1.35v1.35h-1.35zM424.7 250.2h1.35v1.35h-1.35zM425.9 240.0h1.35v1.35h-1.35zM425.9 245.5h1.35v1.35h-1.35zM423.2 242.1h1.35v1.35h-1.35zM433.6 240.4h1.35v1.35h-1.35zM425.6 246.5h1.35v1.35h-1.35zM458.9 254.2h1.35v1.35h-1.35zM426.1 237.3h1.35v1.35h-1.35zM436.3 250.7h1.35v1.35h-1.35zM425.4 237.0h1.35v1.35h-1.35zM430.5 246.7h1.35v1.35h-1.35zM428.3 237.1h1.35v1.35h-1.35zM432.0 237.8h1.35v1.35h-1.35zM443.4 242.3h1.35v1.35h-1.35zM431.3 254.0h1.35v1.35h-1.35zM423.0 252.8h1.35v1.35h-1.35zM433.7 246.0h1.35v1.35h-1.35zM425.0 244.7h1.35v1.35h-1.35zM431.8 247.8h1.35v1.35h-1.35zM445.6 242.4h1.35v1.35h-1.35zM440.4 249.4h1.35v1.35h-1.35zM441.5 246.0h1.35v1.35h-1.35zM437.2 243.6h1.35v1.35h-1.35zM433.2 253.5h1.35v1.35h-1.35zM450.1 232.1h1.35v1.35h-1.35zM448.9 234.4h1.35v1.35h-1.35zM425.6 242.2h1.35v1.35h-1.35zM441.5 254.2h1.35v1.35h-1.35zM428.3 237.6h1.35v1.35h-1.35zM423.3 228.3h1.35v1.35h-1.35zM454.2 244.2h1.35v1.35h-1.35zM434.1 236.4h1.35v1.35h-1.35zM434.0 253.2h1.35v1.35h-1.35zM430.0 233.7h1.35v1.35h-1.35zM451.0 246.2h1.35v1.35h-1.35zM425.5 228.2h1.35v1.35h-1.35zM441.6 245.5h1.35v1.35h-1.35zM450.2 234.0h1.35v1.35h-1.35zM448.5 252.0h1.35v1.35h-1.35zM436.2 234.3h1.35v1.35h-1.35zM442.9 241.5h1.35v1.35h-1.35zM423.6 249.4h1.35v1.35h-1.35zM450.9 230.9h1.35v1.35h-1.35zM423.1 236.6h1.35v1.35h-1.35zM441.7 251.2h1.35v1.35h-1.35zM439.9 249.1h1.35v1.35h-1.35zM424.7 250.0h1.35v1.35h-1.35zM423.3 248.9h1.35v1.35h-1.35zM430.1 246.2h1.35v1.35h-1.35zM436.0 239.0h1.35v1.35h-1.35zM445.7 254.4h1.35v1.35h-1.35zM439.4 237.9h1.35v1.35h-1.35zM450.3 250.4h1.35v1.35h-1.35zM446.1 244.9h1.35v1.35h-1.35zM446.4 239.0h1.35v1.35h-1.35zM430.5 230.1h1.35v1.35h-1.35zM445.0 229.0h1.35v1.35h-1.35zM443.3 234.8h1.35v1.35h-1.35zM446.8 248.7h1.35v1.35h-1.35zM445.1 246.4h1.35v1.35h-1.35zM440.2 231.8h1.35v1.35h-1.35zM431.0 241.1h1.35v1.35h-1.35zM430.0 234.2h1.35v1.35h-1.35zM437.7 232.7h1.35v1.35h-1.35zM427.0 246.6h1.35v1.35h-1.35zM439.2 240.2h1.35v1.35h-1.35zM425.5 245.8h1.35v1.35h-1.35zM427.7 240.3h1.35v1.35h-1.35zM454.5 252.1h1.35v1.35h-1.35zM434.2 228.1h1.35v1.35h-1.35zM451.7 241.5h1.35v1.35h-1.35zM449.9 230.4h1.35v1.35h-1.35zM441.4 229.2h1.35v1.35h-1.35zM453.2 246.4h1.35v1.35h-1.35zM446.2 229.3h1.35v1.35h-1.35zM425.6 251.1h1.35v1.35h-1.35zM434.2 232.2h1.35v1.35h-1.35zM443.7 232.3h1.35v1.35h-1.35zM435.5 243.8h1.35v1.35h-1.35zM433.4 234.2h1.35v1.35h-1.35zM436.2 246.8h1.35v1.35h-1.35zM435.6 240.6h1.35v1.35h-1.35zM446.9 252.1h1.35v1.35h-1.35zM448.9 246.9h1.35v1.35h-1.35zM446.5 242.5h1.35v1.35h-1.35zM444.3 243.4h1.35v1.35h-1.35zM447.7 252.2h1.35v1.35h-1.35zM434.6 239.9h1.35v1.35h-1.35zM449.7 245.8h1.35v1.35h-1.35zM434.5 248.2h1.35v1.35h-1.35zM450.0 244.6h1.35v1.35h-1.35zM446.2 244.0h1.35v1.35h-1.35zM440.4 245.2h1.35v1.35h-1.35zM427.8 235.3h1.35v1.35h-1.35zM444.4 231.9h1.35v1.35h-1.35zM428.0 239.1h1.35v1.35h-1.35zM431.9 241.9h1.35v1.35h-1.35zM447.8 236.7h1.35v1.35h-1.35zM440.2 243.9h1.35v1.35h-1.35zM431.4 245.7h1.35v1.35h-1.35zM452.9 249.5h1.35v1.35h-1.35zM425.6 246.1h1.35v1.35h-1.35zM447.8 252.4h1.35v1.35h-1.35zM451.7 246.5h1.35v1.35h-1.35zM429.2 236.9h1.35v1.35h-1.35zM426.4 204.5h1.35v1.35h-1.35zM437.9 201.8h1.35v1.35h-1.35zM430.5 211.9h1.35v1.35h-1.35zM436.2 211.2h1.35v1.35h-1.35zM450.0 213.3h1.35v1.35h-1.35zM439.7 224.8h1.35v1.35h-1.35zM460.9 201.8h1.35v1.35h-1.35zM487.8 202.7h1.35v1.35h-1.35zM483.1 214.7h1.35v1.35h-1.35zM484.8 216.5h1.35v1.35h-1.35zM482.2 218.3h1.35v1.35h-1.35zM460.9 220.8h1.35v1.35h-1.35zM475.1 222.5h1.35v1.35h-1.35zM498.1 225.4h1.35v1.35h-1.35zM463.6 227.5h1.35v1.35h-1.35zM459.2 232.4h1.35v1.35h-1.35zM463.6 234.2h1.35v1.35h-1.35zM458.3 238.1h1.35v1.35h-1.35zM457.4 242.5h1.35v1.35h-1.35zM471.6 243.4h1.35v1.35h-1.35zM480.4 241.6h1.35v1.35h-1.35zM481.3 243.4h1.35v1.35h-1.35zM488.4 244.8h1.35v1.35h-1.35zM474.2 246.1h1.35v1.35h-1.35zM478.6 246.9h1.35v1.35h-1.35zM497.2 246.1h1.35v1.35h-1.35zM485.7 240.2h1.35v1.35h-1.35zM464.5 248.4h1.35v1.35h-1.35zM465.4 250.5h1.35v1.35h-1.35zM490.1 253.1h1.35v1.35h-1.35zM459.2 247.8h1.35v1.35h-1.35z" fill="#151515"/>
<path d="M455.2 159.2V254.7M422.8 225.3H512.0" stroke="#555" stroke-width="1.15" fill="none"/>
<path d="M422.8 159.2V254.7H512.5" stroke="#111" stroke-width="1.25" fill="none"/>
<path d="M422.80 255.10v2.2M422.40 254.70h-2.2M429.55 255.10v1.4M422.40 247.51h-1.4M433.50 255.10v1.4M422.40 243.31h-1.4M436.30 255.10v1.4M422.40 240.33h-1.4M438.47 255.10v1.4M422.40 238.01h-1.4M440.25 255.10v1.4M422.40 236.12h-1.4M441.75 255.10v1.4M422.40 234.52h-1.4M443.05 255.10v1.4M422.40 233.14h-1.4M444.20 255.10v1.4M422.40 231.92h-1.4M445.23 255.10v2.2M422.40 230.82h-2.2M451.98 255.10v1.4M422.40 223.64h-1.4M455.92 255.10v1.4M422.40 219.43h-1.4M458.73 255.10v1.4M422.40 216.45h-1.4M460.90 255.10v1.4M422.40 214.14h-1.4M462.68 255.10v1.4M422.40 212.25h-1.4M464.18 255.10v1.4M422.40 210.65h-1.4M465.48 255.10v1.4M422.40 209.26h-1.4M466.62 255.10v1.4M422.40 208.04h-1.4M467.65 255.10v2.2M422.40 206.95h-2.2M474.40 255.10v1.4M422.40 199.76h-1.4M478.35 255.10v1.4M422.40 195.56h-1.4M481.15 255.10v1.4M422.40 192.58h-1.4M483.32 255.10v1.4M422.40 190.26h-1.4M485.10 255.10v1.4M422.40 188.37h-1.4M486.60 255.10v1.4M422.40 186.77h-1.4M487.90 255.10v1.4M422.40 185.39h-1.4M489.05 255.10v1.4M422.40 184.17h-1.4M490.07 255.10v2.2M422.40 183.07h-2.2M496.83 255.10v1.4M422.40 175.89h-1.4M500.77 255.10v1.4M422.40 171.68h-1.4M503.58 255.10v1.4M422.40 168.70h-1.4M505.75 255.10v1.4M422.40 166.39h-1.4M507.53 255.10v1.4M422.40 164.50h-1.4M509.03 255.10v1.4M422.40 162.90h-1.4M510.33 255.10v1.4M422.40 161.51h-1.4M511.47 255.10v1.4M422.40 160.29h-1.4M512.50 255.10v2.2M422.40 159.20h-2.2" stroke="#222" stroke-width="0.8" fill="none"/>
<text transform="translate(417.5,264.8) scale(0.82,1)" font-family='"Liberation Sans", sans-serif' font-size="8.6" fill="#111" stroke="#111" stroke-width="0.15">10<tspan font-size="5.8" dx="1.4" dy="-3.3">0</tspan></text>
<text transform="translate(417.8,261.1) rotate(-90) scale(0.9,1)" font-family='"Liberation Sans", sans-serif' font-size="8.4" fill="#111" stroke="#111" stroke-width="0.15">10<tspan font-size="5.8" dx="0.8" dy="-3.1">0</tspan></text>
<text transform="translate(439.9,264.8) scale(0.82,1)" font-family='"Liberation Sans", sans-serif' font-size="8.6" fill="#111" stroke="#111" stroke-width="0.15">10<tspan font-size="5.8" dx="1.4" dy="-3.3">1</tspan></text>
<text transform="translate(417.8,237.2) rotate(-90) scale(0.9,1)" font-family='"Liberation Sans", sans-serif' font-size="8.4" fill="#111" stroke="#111" stroke-width="0.15">10<tspan font-size="5.8" dx="0.8" dy="-3.1">1</tspan></text>
<text transform="translate(462.3,264.8) scale(0.82,1)" font-family='"Liberation Sans", sans-serif' font-size="8.6" fill="#111" stroke="#111" stroke-width="0.15">10<tspan font-size="5.8" dx="1.4" dy="-3.3">2</tspan></text>
<text transform="translate(417.8,213.3) rotate(-90) scale(0.9,1)" font-family='"Liberation Sans", sans-serif' font-size="8.4" fill="#111" stroke="#111" stroke-width="0.15">10<tspan font-size="5.8" dx="0.8" dy="-3.1">2</tspan></text>
<text transform="translate(484.8,264.8) scale(0.82,1)" font-family='"Liberation Sans", sans-serif' font-size="8.6" fill="#111" stroke="#111" stroke-width="0.15">10<tspan font-size="5.8" dx="1.4" dy="-3.3">3</tspan></text>
<text transform="translate(417.8,189.5) rotate(-90) scale(0.9,1)" font-family='"Liberation Sans", sans-serif' font-size="8.4" fill="#111" stroke="#111" stroke-width="0.15">10<tspan font-size="5.8" dx="0.8" dy="-3.1">3</tspan></text>
<text transform="translate(505.0,264.8) scale(0.82,1)" font-family='"Liberation Sans", sans-serif' font-size="8.6" fill="#111" stroke="#111" stroke-width="0.15">10<tspan font-size="5.8" dx="1.4" dy="-3.3">4</tspan></text>
<text transform="translate(417.8,167.9) rotate(-90) scale(0.9,1)" font-family='"Liberation Sans", sans-serif' font-size="8.4" fill="#111" stroke="#111" stroke-width="0.15">10<tspan font-size="5.8" dx="0.8" dy="-3.1">4</tspan></text>
<text x="448.25" y="274.05" font-family='"Liberation Sans", sans-serif' font-size="9.8" textLength="34.00" lengthAdjust="spacingAndGlyphs" fill="#111" stroke="#111" stroke-width="0.38">CD4 PE</text>
<text transform="translate(404.05,226.85) rotate(-90)" font-family='"Liberation Sans", sans-serif' font-size="9.2" textLength="46.80" lengthAdjust="spacingAndGlyphs" fill="#111" stroke="#111" stroke-width="0.3">CD8 APC</text>
<path d="M30.8 326.5h1.35v1.35h-1.35zM37.6 330.3h1.35v1.35h-1.35zM28.2 323.4h1.35v1.35h-1.35zM40.3 314.1h1.35v1.35h-1.35zM43.4 320.7h1.35v1.35h-1.35zM33.1 325.1h1.35v1.35h-1.35zM38.8 324.3h1.35v1.35h-1.35zM37.6 323.4h1.35v1.35h-1.35zM33.4 327.4h1.35v1.35h-1.35zM30.4 327.2h1.35v1.35h-1.35zM30.6 317.0h1.35v1.35h-1.35zM45.2 325.0h1.35v1.35h-1.35zM35.7 319.7h1.35v1.35h-1.35zM52.4 324.0h1.35v1.35h-1.35zM41.4 328.6h1.35v1.35h-1.35zM37.8 331.2h1.35v1.35h-1.35zM31.7 326.1h1.35v1.35h-1.35zM45.1 320.7h1.35v1.35h-1.35zM32.7 321.4h1.35v1.35h-1.35zM46.2 325.4h1.35v1.35h-1.35zM33.4 318.6h1.35v1.35h-1.35zM37.2 322.7h1.35v1.35h-1.35zM27.3 325.7h1.35v1.35h-1.35zM51.2 327.1h1.35v1.35h-1.35zM35.4 321.7h1.35v1.35h-1.35zM33.5 324.7h1.35v1.35h-1.35zM41.3 329.1h1.35v1.35h-1.35zM30.2 324.4h1.35v1.35h-1.35zM41.0 315.3h1.35v1.35h-1.35zM28.4 324.0h1.35v1.35h-1.35zM39.5 324.1h1.35v1.35h-1.35zM29.2 321.1h1.35v1.35h-1.35zM29.3 323.2h1.35v1.35h-1.35zM32.1 316.4h1.35v1.35h-1.35zM26.9 328.6h1.35v1.35h-1.35zM39.6 324.9h1.35v1.35h-1.35zM36.1 320.6h1.35v1.35h-1.35zM39.3 324.1h1.35v1.35h-1.35zM36.6 323.6h1.35v1.35h-1.35zM33.7 319.1h1.35v1.35h-1.35zM36.2 311.0h1.35v1.35h-1.35zM42.8 310.2h1.35v1.35h-1.35zM34.8 332.1h1.35v1.35h-1.35zM31.0 318.0h1.35v1.35h-1.35zM29.7 321.7h1.35v1.35h-1.35zM34.6 325.6h1.35v1.35h-1.35zM31.1 321.4h1.35v1.35h-1.35zM48.2 328.4h1.35v1.35h-1.35zM28.3 318.7h1.35v1.35h-1.35zM29.0 325.5h1.35v1.35h-1.35zM34.0 313.6h1.35v1.35h-1.35zM40.2 326.2h1.35v1.35h-1.35zM34.3 326.1h1.35v1.35h-1.35zM29.8 324.7h1.35v1.35h-1.35zM30.8 324.4h1.35v1.35h-1.35zM33.7 324.2h1.35v1.35h-1.35zM42.3 326.9h1.35v1.35h-1.35zM29.6 327.3h1.35v1.35h-1.35zM35.4 318.8h1.35v1.35h-1.35zM32.0 327.8h1.35v1.35h-1.35zM38.1 318.7h1.35v1.35h-1.35zM38.6 323.7h1.35v1.35h-1.35zM26.9 321.9h1.35v1.35h-1.35zM51.5 325.2h1.35v1.35h-1.35zM37.2 321.5h1.35v1.35h-1.35zM32.7 324.8h1.35v1.35h-1.35zM30.2 320.8h1.35v1.35h-1.35zM34.3 318.7h1.35v1.35h-1.35zM36.2 327.8h1.35v1.35h-1.35zM39.9 325.6h1.35v1.35h-1.35zM36.0 325.3h1.35v1.35h-1.35zM39.1 327.3h1.35v1.35h-1.35zM27.9 318.2h1.35v1.35h-1.35zM31.1 327.1h1.35v1.35h-1.35zM29.5 318.2h1.35v1.35h-1.35zM37.1 324.7h1.35v1.35h-1.35zM39.0 322.2h1.35v1.35h-1.35zM26.9 324.2h1.35v1.35h-1.35zM34.9 326.1h1.35v1.35h-1.35zM40.7 323.1h1.35v1.35h-1.35zM41.9 318.9h1.35v1.35h-1.35zM28.7 327.2h1.35v1.35h-1.35zM39.7 328.3h1.35v1.35h-1.35zM38.2 326.1h1.35v1.35h-1.35zM33.2 327.7h1.35v1.35h-1.35zM48.8 315.1h1.35v1.35h-1.35zM28.7 323.3h1.35v1.35h-1.35zM34.2 322.5h1.35v1.35h-1.35zM39.0 314.2h1.35v1.35h-1.35zM37.6 323.5h1.35v1.35h-1.35zM34.9 323.0h1.35v1.35h-1.35zM44.9 316.2h1.35v1.35h-1.35zM45.4 319.2h1.35v1.35h-1.35zM41.9 323.4h1.35v1.35h-1.35zM42.5 325.7h1.35v1.35h-1.35zM35.6 326.2h1.35v1.35h-1.35zM28.4 318.0h1.35v1.35h-1.35zM50.2 318.2h1.35v1.35h-1.35zM29.8 320.7h1.35v1.35h-1.35zM50.5 322.8h1.35v1.35h-1.35zM35.2 320.4h1.35v1.35h-1.35zM37.5 322.1h1.35v1.35h-1.35zM34.9 326.2h1.35v1.35h-1.35zM42.2 326.1h1.35v1.35h-1.35zM32.7 323.6h1.35v1.35h-1.35zM48.0 317.9h1.35v1.35h-1.35zM39.5 320.8h1.35v1.35h-1.35zM37.1 325.5h1.35v1.35h-1.35zM32.3 326.9h1.35v1.35h-1.35zM37.8 327.8h1.35v1.35h-1.35zM36.0 318.2h1.35v1.35h-1.35zM48.3 320.9h1.35v1.35h-1.35zM42.1 317.6h1.35v1.35h-1.35zM27.5 309.8h1.35v1.35h-1.35zM45.9 318.1h1.35v1.35h-1.35zM32.8 315.0h1.35v1.35h-1.35zM46.0 329.3h1.35v1.35h-1.35zM29.7 325.1h1.35v1.35h-1.35zM36.0 320.1h1.35v1.35h-1.35zM41.3 323.3h1.35v1.35h-1.35zM35.9 324.9h1.35v1.35h-1.35zM28.9 330.9h1.35v1.35h-1.35zM44.0 326.5h1.35v1.35h-1.35zM29.0 329.9h1.35v1.35h-1.35zM26.9 325.2h1.35v1.35h-1.35zM45.0 328.9h1.35v1.35h-1.35zM30.4 329.5h1.35v1.35h-1.35zM37.6 327.2h1.35v1.35h-1.35zM41.3 323.2h1.35v1.35h-1.35zM35.3 328.0h1.35v1.35h-1.35zM37.8 321.3h1.35v1.35h-1.35zM36.8 329.5h1.35v1.35h-1.35zM37.4 321.8h1.35v1.35h-1.35zM43.7 320.0h1.35v1.35h-1.35zM42.1 331.5h1.35v1.35h-1.35zM38.1 321.2h1.35v1.35h-1.35zM42.0 323.8h1.35v1.35h-1.35zM32.5 318.2h1.35v1.35h-1.35zM31.0 319.9h1.35v1.35h-1.35zM29.5 321.5h1.35v1.35h-1.35zM38.0 322.6h1.35v1.35h-1.35zM31.5 324.2h1.35v1.35h-1.35zM34.0 326.9h1.35v1.35h-1.35zM44.2 341.0h1.35v1.35h-1.35zM40.5 304.7h1.35v1.35h-1.35zM36.4 329.1h1.35v1.35h-1.35zM37.4 307.1h1.35v1.35h-1.35zM41.1 377.2h1.35v1.35h-1.35zM45.5 380.2h1.35v1.35h-1.35zM35.6 377.2h1.35v1.35h-1.35zM35.4 353.3h1.35v1.35h-1.35zM39.7 366.8h1.35v1.35h-1.35zM37.2 366.5h1.35v1.35h-1.35zM39.4 364.1h1.35v1.35h-1.35zM30.4 363.4h1.35v1.35h-1.35zM36.3 365.0h1.35v1.35h-1.35zM39.4 373.0h1.35v1.35h-1.35zM40.0 365.7h1.35v1.35h-1.35zM27.4 359.5h1.35v1.35h-1.35zM41.5 357.8h1.35v1.35h-1.35zM36.9 369.9h1.35v1.35h-1.35zM37.1 356.8h1.35v1.35h-1.35zM28.8 373.8h1.35v1.35h-1.35zM36.4 365.4h1.35v1.35h-1.35zM27.5 365.4h1.35v1.35h-1.35zM33.7 370.5h1.35v1.35h-1.35zM36.8 366.4h1.35v1.35h-1.35zM36.1 373.9h1.35v1.35h-1.35zM36.5 359.9h1.35v1.35h-1.35zM37.3 356.2h1.35v1.35h-1.35zM36.2 380.7h1.35v1.35h-1.35zM43.3 370.1h1.35v1.35h-1.35zM41.5 350.9h1.35v1.35h-1.35zM46.8 380.9h1.35v1.35h-1.35zM52.6 359.0h1.35v1.35h-1.35zM41.3 380.0h1.35v1.35h-1.35zM41.5 381.7h1.35v1.35h-1.35zM48.6 375.2h1.35v1.35h-1.35zM30.6 369.0h1.35v1.35h-1.35zM34.2 362.9h1.35v1.35h-1.35zM38.0 375.7h1.35v1.35h-1.35zM27.2 366.2h1.35v1.35h-1.35zM42.6 376.6h1.35v1.35h-1.35zM46.6 367.0h1.35v1.35h-1.35zM28.1 357.9h1.35v1.35h-1.35zM31.0 364.1h1.35v1.35h-1.35zM42.1 369.4h1.35v1.35h-1.35zM45.1 365.6h1.35v1.35h-1.35zM27.9 370.0h1.35v1.35h-1.35zM39.7 362.5h1.35v1.35h-1.35zM34.8 380.4h1.35v1.35h-1.35zM29.3 365.3h1.35v1.35h-1.35zM33.4 372.7h1.35v1.35h-1.35zM32.4 357.3h1.35v1.35h-1.35zM36.8 374.9h1.35v1.35h-1.35zM36.3 379.9h1.35v1.35h-1.35zM34.3 373.3h1.35v1.35h-1.35zM35.2 367.4h1.35v1.35h-1.35zM35.0 362.6h1.35v1.35h-1.35zM39.4 373.4h1.35v1.35h-1.35zM42.3 373.2h1.35v1.35h-1.35zM42.3 359.9h1.35v1.35h-1.35zM30.2 369.2h1.35v1.35h-1.35zM30.9 372.9h1.35v1.35h-1.35zM31.6 363.6h1.35v1.35h-1.35zM45.2 373.4h1.35v1.35h-1.35zM39.1 367.2h1.35v1.35h-1.35zM31.0 379.3h1.35v1.35h-1.35zM28.5 360.2h1.35v1.35h-1.35zM29.5 372.8h1.35v1.35h-1.35zM36.2 369.9h1.35v1.35h-1.35zM28.8 355.9h1.35v1.35h-1.35zM35.9 362.6h1.35v1.35h-1.35zM44.8 363.1h1.35v1.35h-1.35zM34.3 375.7h1.35v1.35h-1.35zM41.6 366.6h1.35v1.35h-1.35zM27.3 369.0h1.35v1.35h-1.35zM38.3 370.1h1.35v1.35h-1.35zM37.9 376.2h1.35v1.35h-1.35zM30.0 367.4h1.35v1.35h-1.35zM45.0 380.7h1.35v1.35h-1.35zM36.0 367.8h1.35v1.35h-1.35zM31.5 358.0h1.35v1.35h-1.35zM34.1 363.3h1.35v1.35h-1.35zM42.2 360.3h1.35v1.35h-1.35zM27.1 366.5h1.35v1.35h-1.35zM37.0 358.8h1.35v1.35h-1.35zM29.7 362.6h1.35v1.35h-1.35zM37.5 380.9h1.35v1.35h-1.35zM32.6 370.7h1.35v1.35h-1.35zM35.5 371.4h1.35v1.35h-1.35zM40.9 381.6h1.35v1.35h-1.35zM36.3 357.5h1.35v1.35h-1.35zM39.6 373.0h1.35v1.35h-1.35zM40.5 365.7h1.35v1.35h-1.35zM38.6 368.8h1.35v1.35h-1.35zM37.5 364.3h1.35v1.35h-1.35zM36.3 369.9h1.35v1.35h-1.35zM40.1 377.7h1.35v1.35h-1.35zM43.8 377.5h1.35v1.35h-1.35zM48.0 370.8h1.35v1.35h-1.35zM47.4 374.8h1.35v1.35h-1.35zM29.5 360.7h1.35v1.35h-1.35zM37.9 348.5h1.35v1.35h-1.35zM39.2 376.4h1.35v1.35h-1.35zM43.9 380.1h1.35v1.35h-1.35zM42.9 372.3h1.35v1.35h-1.35zM26.7 364.7h1.35v1.35h-1.35zM37.8 369.4h1.35v1.35h-1.35zM28.5 377.6h1.35v1.35h-1.35zM32.9 360.9h1.35v1.35h-1.35zM30.0 369.6h1.35v1.35h-1.35zM32.0 373.4h1.35v1.35h-1.35zM46.3 361.8h1.35v1.35h-1.35zM32.5 379.7h1.35v1.35h-1.35zM32.7 374.8h1.35v1.35h-1.35zM36.8 380.7h1.35v1.35h-1.35zM43.0 361.5h1.35v1.35h-1.35zM28.5 370.6h1.35v1.35h-1.35zM46.6 379.8h1.35v1.35h-1.35zM31.0 372.2h1.35v1.35h-1.35zM29.5 377.9h1.35v1.35h-1.35zM36.8 356.1h1.35v1.35h-1.35zM40.4 368.4h1.35v1.35h-1.35zM53.6 355.0h1.35v1.35h-1.35zM41.8 365.5h1.35v1.35h-1.35zM32.1 371.1h1.35v1.35h-1.35zM34.6 368.2h1.35v1.35h-1.35zM29.7 360.2h1.35v1.35h-1.35zM40.2 371.1h1.35v1.35h-1.35zM41.3 373.6h1.35v1.35h-1.35zM33.8 368.3h1.35v1.35h-1.35zM43.3 374.7h1.35v1.35h-1.35zM28.4 377.0h1.35v1.35h-1.35zM32.8 377.7h1.35v1.35h-1.35zM29.9 366.6h1.35v1.35h-1.35zM32.1 372.6h1.35v1.35h-1.35zM28.1 364.5h1.35v1.35h-1.35zM42.1 368.4h1.35v1.35h-1.35zM29.7 376.5h1.35v1.35h-1.35zM35.1 368.3h1.35v1.35h-1.35zM39.0 357.6h1.35v1.35h-1.35zM42.3 352.8h1.35v1.35h-1.35zM37.9 355.9h1.35v1.35h-1.35zM38.2 355.6h1.35v1.35h-1.35zM33.8 354.2h1.35v1.35h-1.35zM27.5 348.2h1.35v1.35h-1.35zM35.6 348.8h1.35v1.35h-1.35zM62.8 317.6h1.35v1.35h-1.35zM74.8 318.6h1.35v1.35h-1.35zM74.8 320.7h1.35v1.35h-1.35zM82.0 313.4h1.35v1.35h-1.35zM64.5 324.8h1.35v1.35h-1.35zM65.5 328.9h1.35v1.35h-1.35zM80.0 347.1h1.35v1.35h-1.35zM75.8 353.3h1.35v1.35h-1.35zM81.0 355.8h1.35v1.35h-1.35zM76.4 357.9h1.35v1.35h-1.35zM77.3 359.9h1.35v1.35h-1.35zM66.5 359.9h1.35v1.35h-1.35zM70.2 359.9h1.35v1.35h-1.35zM64.0 364.0h1.35v1.35h-1.35zM76.4 363.0h1.35v1.35h-1.35zM80.0 363.0h1.35v1.35h-1.35zM73.8 366.5h1.35v1.35h-1.35zM75.8 366.5h1.35v1.35h-1.35zM84.1 367.1h1.35v1.35h-1.35zM85.5 366.5h1.35v1.35h-1.35zM65.5 370.2h1.35v1.35h-1.35zM67.6 372.3h1.35v1.35h-1.35zM73.8 371.9h1.35v1.35h-1.35zM82.0 374.8h1.35v1.35h-1.35z" fill="#151515"/>
<path d="M52.7 288.3V381.9M26.5 344.0H119.1" stroke="#555" stroke-width="1.15" fill="none"/>
<path d="M26.5 288.3V381.9H119.6" stroke="#111" stroke-width="1.25" fill="none"/>
<path d="M26.50 382.30v2.2M26.10 381.90h-2.2M33.51 382.30v1.4M26.10 374.86h-1.4M37.60 382.30v1.4M26.10 370.74h-1.4M40.51 382.30v1.4M26.10 367.81h-1.4M42.77 382.30v1.4M26.10 365.54h-1.4M44.61 382.30v1.4M26.10 363.69h-1.4M46.17 382.30v1.4M26.10 362.12h-1.4M47.52 382.30v1.4M26.10 360.77h-1.4M48.71 382.30v1.4M26.10 359.57h-1.4M49.77 382.30v2.2M26.10 358.50h-2.2M56.78 382.30v1.4M26.10 351.46h-1.4M60.88 382.30v1.4M26.10 347.34h-1.4M63.79 382.30v1.4M26.10 344.41h-1.4M66.04 382.30v1.4M26.10 342.14h-1.4M67.89 382.30v1.4M26.10 340.29h-1.4M69.44 382.30v1.4M26.10 338.72h-1.4M70.79 382.30v1.4M26.10 337.37h-1.4M71.98 382.30v1.4M26.10 336.17h-1.4M73.05 382.30v2.2M26.10 335.10h-2.2M80.06 382.30v1.4M26.10 328.06h-1.4M84.15 382.30v1.4M26.10 323.94h-1.4M87.06 382.30v1.4M26.10 321.01h-1.4M89.32 382.30v1.4M26.10 318.74h-1.4M91.16 382.30v1.4M26.10 316.89h-1.4M92.72 382.30v1.4M26.10 315.32h-1.4M94.07 382.30v1.4M26.10 313.97h-1.4M95.26 382.30v1.4M26.10 312.77h-1.4M96.32 382.30v2.2M26.10 311.70h-2.2M103.33 382.30v1.4M26.10 304.66h-1.4M107.43 382.30v1.4M26.10 300.54h-1.4M110.34 382.30v1.4M26.10 297.61h-1.4M112.59 382.30v1.4M26.10 295.34h-1.4M114.44 382.30v1.4M26.10 293.49h-1.4M115.99 382.30v1.4M26.10 291.92h-1.4M117.34 382.30v1.4M26.10 290.57h-1.4M118.53 382.30v1.4M26.10 289.37h-1.4M119.60 382.30v2.2M26.10 288.30h-2.2" stroke="#222" stroke-width="0.8" fill="none"/>
<text transform="translate(21.2,391.9) scale(0.82,1)" font-family='"Liberation Sans", sans-serif' font-size="8.6" fill="#111" stroke="#111" stroke-width="0.15">10<tspan font-size="5.8" dx="1.4" dy="-3.3">0</tspan></text>
<text transform="translate(21.5,388.3) rotate(-90) scale(0.9,1)" font-family='"Liberation Sans", sans-serif' font-size="8.4" fill="#111" stroke="#111" stroke-width="0.15">10<tspan font-size="5.8" dx="0.8" dy="-3.1">0</tspan></text>
<text transform="translate(44.5,391.9) scale(0.82,1)" font-family='"Liberation Sans", sans-serif' font-size="8.6" fill="#111" stroke="#111" stroke-width="0.15">10<tspan font-size="5.8" dx="1.4" dy="-3.3">1</tspan></text>
<text transform="translate(21.5,364.9) rotate(-90) scale(0.9,1)" font-family='"Liberation Sans", sans-serif' font-size="8.4" fill="#111" stroke="#111" stroke-width="0.15">10<tspan font-size="5.8" dx="0.8" dy="-3.1">1</tspan></text>
<text transform="translate(67.8,391.9) scale(0.82,1)" font-family='"Liberation Sans", sans-serif' font-size="8.6" fill="#111" stroke="#111" stroke-width="0.15">10<tspan font-size="5.8" dx="1.4" dy="-3.3">2</tspan></text>
<text transform="translate(21.5,341.5) rotate(-90) scale(0.9,1)" font-family='"Liberation Sans", sans-serif' font-size="8.4" fill="#111" stroke="#111" stroke-width="0.15">10<tspan font-size="5.8" dx="0.8" dy="-3.1">2</tspan></text>
<text transform="translate(91.0,391.9) scale(0.82,1)" font-family='"Liberation Sans", sans-serif' font-size="8.6" fill="#111" stroke="#111" stroke-width="0.15">10<tspan font-size="5.8" dx="1.4" dy="-3.3">3</tspan></text>
<text transform="translate(21.5,318.1) rotate(-90) scale(0.9,1)" font-family='"Liberation Sans", sans-serif' font-size="8.4" fill="#111" stroke="#111" stroke-width="0.15">10<tspan font-size="5.8" dx="0.8" dy="-3.1">3</tspan></text>
<text transform="translate(112.1,391.9) scale(0.82,1)" font-family='"Liberation Sans", sans-serif' font-size="8.6" fill="#111" stroke="#111" stroke-width="0.15">10<tspan font-size="5.8" dx="1.4" dy="-3.3">4</tspan></text>
<text transform="translate(21.5,297.0) rotate(-90) scale(0.9,1)" font-family='"Liberation Sans", sans-serif' font-size="8.4" fill="#111" stroke="#111" stroke-width="0.15">10<tspan font-size="5.8" dx="0.8" dy="-3.1">4</tspan></text>
<text x="52.05" y="403.95" font-family='"Liberation Sans", sans-serif' font-size="9.8" textLength="43.00" lengthAdjust="spacingAndGlyphs" fill="#111" stroke="#111" stroke-width="0.38">NK1.1 PE</text>
<text transform="translate(9.25,351.30) rotate(-90)" font-family='"Liberation Sans", sans-serif' font-size="9.2" textLength="50.41" lengthAdjust="spacingAndGlyphs" fill="#111" stroke="#111" stroke-width="0.3">B220 APC</text>
<path d="M149.0 317.3h1.35v1.35h-1.35zM150.7 319.4h1.35v1.35h-1.35zM150.5 327.9h1.35v1.35h-1.35zM155.2 323.2h1.35v1.35h-1.35zM152.9 312.8h1.35v1.35h-1.35zM154.6 321.5h1.35v1.35h-1.35zM157.8 330.1h1.35v1.35h-1.35zM157.9 329.9h1.35v1.35h-1.35zM156.1 327.8h1.35v1.35h-1.35zM152.0 322.6h1.35v1.35h-1.35zM150.6 312.9h1.35v1.35h-1.35zM150.3 325.0h1.35v1.35h-1.35zM152.5 322.9h1.35v1.35h-1.35zM153.8 324.5h1.35v1.35h-1.35zM149.6 333.3h1.35v1.35h-1.35zM149.1 325.1h1.35v1.35h-1.35zM155.4 325.7h1.35v1.35h-1.35zM152.3 327.6h1.35v1.35h-1.35zM153.2 322.5h1.35v1.35h-1.35zM155.9 320.0h1.35v1.35h-1.35zM149.6 319.6h1.35v1.35h-1.35zM149.3 335.7h1.35v1.35h-1.35zM149.3 331.8h1.35v1.35h-1.35zM149.5 332.5h1.35v1.35h-1.35zM149.2 331.5h1.35v1.35h-1.35zM149.6 324.1h1.35v1.35h-1.35zM149.1 330.3h1.35v1.35h-1.35zM149.1 326.7h1.35v1.35h-1.35zM149.7 323.9h1.35v1.35h-1.35zM160.7 373.8h1.35v1.35h-1.35zM154.3 372.0h1.35v1.35h-1.35zM152.0 377.8h1.35v1.35h-1.35zM151.6 356.2h1.35v1.35h-1.35zM158.2 366.9h1.35v1.35h-1.35zM163.7 363.6h1.35v1.35h-1.35zM149.2 355.7h1.35v1.35h-1.35zM153.6 374.7h1.35v1.35h-1.35zM156.9 360.1h1.35v1.35h-1.35zM156.3 369.5h1.35v1.35h-1.35zM152.6 353.2h1.35v1.35h-1.35zM163.3 354.9h1.35v1.35h-1.35zM164.6 355.8h1.35v1.35h-1.35zM155.1 353.3h1.35v1.35h-1.35zM156.6 365.8h1.35v1.35h-1.35zM163.0 373.4h1.35v1.35h-1.35zM156.0 365.4h1.35v1.35h-1.35zM149.2 373.9h1.35v1.35h-1.35zM158.5 376.7h1.35v1.35h-1.35zM152.7 371.7h1.35v1.35h-1.35zM161.3 360.1h1.35v1.35h-1.35zM155.5 349.8h1.35v1.35h-1.35zM157.7 367.8h1.35v1.35h-1.35zM162.6 359.9h1.35v1.35h-1.35zM158.1 360.8h1.35v1.35h-1.35zM154.6 372.3h1.35v1.35h-1.35zM152.0 372.0h1.35v1.35h-1.35zM171.0 345.8h1.35v1.35h-1.35zM166.7 362.8h1.35v1.35h-1.35zM149.5 366.3h1.35v1.35h-1.35zM151.6 374.7h1.35v1.35h-1.35zM163.1 362.3h1.35v1.35h-1.35zM154.9 373.9h1.35v1.35h-1.35zM159.1 358.7h1.35v1.35h-1.35zM164.7 358.4h1.35v1.35h-1.35zM159.9 359.4h1.35v1.35h-1.35zM158.1 363.2h1.35v1.35h-1.35zM155.7 363.8h1.35v1.35h-1.35zM158.4 374.5h1.35v1.35h-1.35zM161.7 354.9h1.35v1.35h-1.35zM171.1 359.5h1.35v1.35h-1.35zM166.5 351.2h1.35v1.35h-1.35zM157.6 352.9h1.35v1.35h-1.35zM165.4 356.4h1.35v1.35h-1.35zM159.8 351.3h1.35v1.35h-1.35zM149.4 370.4h1.35v1.35h-1.35zM158.3 358.5h1.35v1.35h-1.35zM166.0 356.7h1.35v1.35h-1.35zM154.8 370.0h1.35v1.35h-1.35zM165.6 374.3h1.35v1.35h-1.35zM156.9 360.8h1.35v1.35h-1.35zM159.2 347.9h1.35v1.35h-1.35zM150.7 364.7h1.35v1.35h-1.35zM173.5 357.7h1.35v1.35h-1.35zM162.2 372.4h1.35v1.35h-1.35zM166.1 360.8h1.35v1.35h-1.35zM155.8 358.4h1.35v1.35h-1.35zM149.2 376.7h1.35v1.35h-1.35zM167.5 369.7h1.35v1.35h-1.35zM154.0 365.1h1.35v1.35h-1.35zM170.6 361.7h1.35v1.35h-1.35zM157.8 368.0h1.35v1.35h-1.35zM170.4 381.0h1.35v1.35h-1.35zM153.9 361.8h1.35v1.35h-1.35zM151.3 366.6h1.35v1.35h-1.35zM163.9 361.5h1.35v1.35h-1.35zM158.5 370.8h1.35v1.35h-1.35zM159.0 362.1h1.35v1.35h-1.35zM166.3 365.6h1.35v1.35h-1.35zM152.8 374.9h1.35v1.35h-1.35zM149.9 377.4h1.35v1.35h-1.35zM150.8 367.0h1.35v1.35h-1.35zM150.8 367.4h1.35v1.35h-1.35zM151.7 367.6h1.35v1.35h-1.35zM150.0 353.2h1.35v1.35h-1.35zM152.2 357.9h1.35v1.35h-1.35zM155.8 367.4h1.35v1.35h-1.35zM150.5 369.8h1.35v1.35h-1.35zM158.0 375.8h1.35v1.35h-1.35zM164.1 372.8h1.35v1.35h-1.35zM157.2 372.0h1.35v1.35h-1.35zM161.7 375.8h1.35v1.35h-1.35zM152.3 362.3h1.35v1.35h-1.35zM160.7 359.2h1.35v1.35h-1.35zM161.8 357.2h1.35v1.35h-1.35zM154.0 365.6h1.35v1.35h-1.35zM150.3 374.8h1.35v1.35h-1.35zM157.0 363.4h1.35v1.35h-1.35zM158.2 359.7h1.35v1.35h-1.35zM168.1 361.0h1.35v1.35h-1.35zM155.2 373.5h1.35v1.35h-1.35zM169.4 364.1h1.35v1.35h-1.35zM156.8 379.9h1.35v1.35h-1.35zM155.7 356.2h1.35v1.35h-1.35zM154.4 359.6h1.35v1.35h-1.35zM155.1 364.6h1.35v1.35h-1.35zM154.1 367.8h1.35v1.35h-1.35zM157.4 377.0h1.35v1.35h-1.35zM169.1 349.7h1.35v1.35h-1.35zM156.6 371.3h1.35v1.35h-1.35zM165.9 359.8h1.35v1.35h-1.35zM157.0 370.9h1.35v1.35h-1.35zM158.4 359.6h1.35v1.35h-1.35zM156.8 361.2h1.35v1.35h-1.35zM158.2 375.1h1.35v1.35h-1.35zM161.8 366.0h1.35v1.35h-1.35zM149.8 352.8h1.35v1.35h-1.35zM153.4 373.2h1.35v1.35h-1.35zM151.7 359.7h1.35v1.35h-1.35zM172.3 358.0h1.35v1.35h-1.35zM150.8 368.4h1.35v1.35h-1.35zM152.6 356.4h1.35v1.35h-1.35zM159.2 379.4h1.35v1.35h-1.35zM151.3 366.0h1.35v1.35h-1.35zM159.0 378.5h1.35v1.35h-1.35zM149.3 373.5h1.35v1.35h-1.35zM159.5 378.4h1.35v1.35h-1.35zM155.5 368.7h1.35v1.35h-1.35zM158.2 380.9h1.35v1.35h-1.35zM159.3 356.1h1.35v1.35h-1.35zM160.0 357.8h1.35v1.35h-1.35zM153.3 361.9h1.35v1.35h-1.35zM176.8 366.5h1.35v1.35h-1.35zM153.7 376.1h1.35v1.35h-1.35zM160.5 364.9h1.35v1.35h-1.35zM149.3 371.8h1.35v1.35h-1.35zM153.2 353.7h1.35v1.35h-1.35zM151.1 379.8h1.35v1.35h-1.35zM159.0 363.0h1.35v1.35h-1.35zM154.7 367.8h1.35v1.35h-1.35zM150.6 366.2h1.35v1.35h-1.35zM154.3 377.3h1.35v1.35h-1.35zM161.3 362.1h1.35v1.35h-1.35zM163.2 364.1h1.35v1.35h-1.35zM163.3 363.7h1.35v1.35h-1.35zM156.9 361.6h1.35v1.35h-1.35zM162.3 358.3h1.35v1.35h-1.35zM163.9 366.0h1.35v1.35h-1.35zM161.1 367.2h1.35v1.35h-1.35zM167.5 367.3h1.35v1.35h-1.35zM156.5 378.3h1.35v1.35h-1.35zM159.1 354.5h1.35v1.35h-1.35zM150.8 354.8h1.35v1.35h-1.35zM172.2 355.6h1.35v1.35h-1.35zM152.6 378.5h1.35v1.35h-1.35zM160.1 364.1h1.35v1.35h-1.35zM162.2 348.2h1.35v1.35h-1.35zM152.3 381.2h1.35v1.35h-1.35zM157.6 369.8h1.35v1.35h-1.35zM162.7 350.7h1.35v1.35h-1.35zM157.3 358.7h1.35v1.35h-1.35zM155.9 367.2h1.35v1.35h-1.35zM155.8 361.7h1.35v1.35h-1.35zM153.1 366.5h1.35v1.35h-1.35zM156.9 370.3h1.35v1.35h-1.35zM160.6 364.3h1.35v1.35h-1.35zM161.3 375.7h1.35v1.35h-1.35zM165.7 360.4h1.35v1.35h-1.35zM158.5 377.7h1.35v1.35h-1.35zM154.6 362.0h1.35v1.35h-1.35zM164.0 352.9h1.35v1.35h-1.35zM160.6 346.6h1.35v1.35h-1.35zM165.2 354.9h1.35v1.35h-1.35zM159.5 365.5h1.35v1.35h-1.35zM162.0 371.7h1.35v1.35h-1.35zM161.0 335.2h1.35v1.35h-1.35zM163.3 362.7h1.35v1.35h-1.35zM151.6 360.1h1.35v1.35h-1.35zM157.6 371.5h1.35v1.35h-1.35zM159.6 360.4h1.35v1.35h-1.35zM170.2 362.4h1.35v1.35h-1.35zM157.8 380.6h1.35v1.35h-1.35zM161.5 364.7h1.35v1.35h-1.35zM157.1 364.4h1.35v1.35h-1.35zM153.9 379.9h1.35v1.35h-1.35zM205.0 319.6h1.35v1.35h-1.35zM200.9 335.1h1.35v1.35h-1.35zM208.1 347.0h1.35v1.35h-1.35zM204.6 349.1h1.35v1.35h-1.35zM204.0 351.5h1.35v1.35h-1.35zM193.6 352.6h1.35v1.35h-1.35zM180.2 359.8h1.35v1.35h-1.35zM183.3 359.8h1.35v1.35h-1.35zM199.8 358.1h1.35v1.35h-1.35zM202.9 358.8h1.35v1.35h-1.35zM206.0 357.7h1.35v1.35h-1.35zM192.6 361.9h1.35v1.35h-1.35zM195.1 362.3h1.35v1.35h-1.35zM201.9 361.9h1.35v1.35h-1.35zM202.9 362.3h1.35v1.35h-1.35zM205.0 361.9h1.35v1.35h-1.35zM206.6 361.4h1.35v1.35h-1.35zM210.1 361.9h1.35v1.35h-1.35zM192.6 364.9h1.35v1.35h-1.35zM199.8 366.0h1.35v1.35h-1.35zM200.9 367.0h1.35v1.35h-1.35zM203.3 367.0h1.35v1.35h-1.35zM210.8 366.0h1.35v1.35h-1.35zM186.0 367.6h1.35v1.35h-1.35zM200.9 371.1h1.35v1.35h-1.35zM202.9 371.1h1.35v1.35h-1.35zM201.9 374.2h1.35v1.35h-1.35zM178.2 374.6h1.35v1.35h-1.35zM183.3 377.3h1.35v1.35h-1.35zM192.6 377.9h1.35v1.35h-1.35zM205.0 376.7h1.35v1.35h-1.35zM200.9 374.6h1.35v1.35h-1.35z" fill="#151515"/>
<path d="M174.8 289.0V381.5M148.8 343.7H242.4" stroke="#555" stroke-width="1.15" fill="none"/>
<path d="M148.8 289.0V381.5H242.9" stroke="#111" stroke-width="1.25" fill="none"/>
<path d="M148.80 381.90v2.2M148.40 381.50h-2.2M155.88 381.90v1.4M148.40 374.54h-1.4M160.02 381.90v1.4M148.40 370.47h-1.4M162.96 381.90v1.4M148.40 367.58h-1.4M165.24 381.90v1.4M148.40 365.34h-1.4M167.11 381.90v1.4M148.40 363.51h-1.4M168.68 381.90v1.4M148.40 361.96h-1.4M170.05 381.90v1.4M148.40 360.62h-1.4M171.25 381.90v1.4M148.40 359.43h-1.4M172.33 381.90v2.2M148.40 358.38h-2.2M179.41 381.90v1.4M148.40 351.41h-1.4M183.55 381.90v1.4M148.40 347.34h-1.4M186.49 381.90v1.4M148.40 344.45h-1.4M188.77 381.90v1.4M148.40 342.21h-1.4M190.63 381.90v1.4M148.40 340.38h-1.4M192.21 381.90v1.4M148.40 338.83h-1.4M193.57 381.90v1.4M148.40 337.49h-1.4M194.77 381.90v1.4M148.40 336.31h-1.4M195.85 381.90v2.2M148.40 335.25h-2.2M202.93 381.90v1.4M148.40 328.29h-1.4M207.07 381.90v1.4M148.40 324.22h-1.4M210.01 381.90v1.4M148.40 321.33h-1.4M212.29 381.90v1.4M148.40 319.09h-1.4M214.16 381.90v1.4M148.40 317.26h-1.4M215.73 381.90v1.4M148.40 315.71h-1.4M217.10 381.90v1.4M148.40 314.37h-1.4M218.30 381.90v1.4M148.40 313.18h-1.4M219.38 381.90v2.2M148.40 312.12h-2.2M226.46 381.90v1.4M148.40 305.16h-1.4M230.60 381.90v1.4M148.40 301.09h-1.4M233.54 381.90v1.4M148.40 298.20h-1.4M235.82 381.90v1.4M148.40 295.96h-1.4M237.68 381.90v1.4M148.40 294.13h-1.4M239.26 381.90v1.4M148.40 292.58h-1.4M240.62 381.90v1.4M148.40 291.24h-1.4M241.82 381.90v1.4M148.40 290.06h-1.4M242.90 381.90v2.2M148.40 289.00h-2.2" stroke="#222" stroke-width="0.8" fill="none"/>
<text transform="translate(143.5,392.4) scale(0.82,1)" font-family='"Liberation Sans", sans-serif' font-size="8.6" fill="#111" stroke="#111" stroke-width="0.15">10<tspan font-size="5.8" dx="1.4" dy="-3.3">0</tspan></text>
<text transform="translate(143.8,387.9) rotate(-90) scale(0.9,1)" font-family='"Liberation Sans", sans-serif' font-size="8.4" fill="#111" stroke="#111" stroke-width="0.15">10<tspan font-size="5.8" dx="0.8" dy="-3.1">0</tspan></text>
<text transform="translate(167.0,392.4) scale(0.82,1)" font-family='"Liberation Sans", sans-serif' font-size="8.6" fill="#111" stroke="#111" stroke-width="0.15">10<tspan font-size="5.8" dx="1.4" dy="-3.3">1</tspan></text>
<text transform="translate(143.8,364.8) rotate(-90) scale(0.9,1)" font-family='"Liberation Sans", sans-serif' font-size="8.4" fill="#111" stroke="#111" stroke-width="0.15">10<tspan font-size="5.8" dx="0.8" dy="-3.1">1</tspan></text>
<text transform="translate(190.6,392.4) scale(0.82,1)" font-family='"Liberation Sans", sans-serif' font-size="8.6" fill="#111" stroke="#111" stroke-width="0.15">10<tspan font-size="5.8" dx="1.4" dy="-3.3">2</tspan></text>
<text transform="translate(143.8,341.6) rotate(-90) scale(0.9,1)" font-family='"Liberation Sans", sans-serif' font-size="8.4" fill="#111" stroke="#111" stroke-width="0.15">10<tspan font-size="5.8" dx="0.8" dy="-3.1">2</tspan></text>
<text transform="translate(214.1,392.4) scale(0.82,1)" font-family='"Liberation Sans", sans-serif' font-size="8.6" fill="#111" stroke="#111" stroke-width="0.15">10<tspan font-size="5.8" dx="1.4" dy="-3.3">3</tspan></text>
<text transform="translate(143.8,318.5) rotate(-90) scale(0.9,1)" font-family='"Liberation Sans", sans-serif' font-size="8.4" fill="#111" stroke="#111" stroke-width="0.15">10<tspan font-size="5.8" dx="0.8" dy="-3.1">3</tspan></text>
<text transform="translate(235.4,392.4) scale(0.82,1)" font-family='"Liberation Sans", sans-serif' font-size="8.6" fill="#111" stroke="#111" stroke-width="0.15">10<tspan font-size="5.8" dx="1.4" dy="-3.3">4</tspan></text>
<text transform="translate(143.8,297.7) rotate(-90) scale(0.9,1)" font-family='"Liberation Sans", sans-serif' font-size="8.4" fill="#111" stroke="#111" stroke-width="0.15">10<tspan font-size="5.8" dx="0.8" dy="-3.1">4</tspan></text>
<text x="168.55" y="404.20" font-family='"Liberation Sans", sans-serif' font-size="9.8" textLength="44.02" lengthAdjust="spacingAndGlyphs" fill="#111" stroke="#111" stroke-width="0.38">NK1.1 PE</text>
<text transform="translate(130.45,352.75) rotate(-90)" font-family='"Liberation Sans", sans-serif' font-size="9.2" textLength="51.21" lengthAdjust="spacingAndGlyphs" fill="#111" stroke="#111" stroke-width="0.3">B220 APC</text>
<path d="M311.2 320.4h1.35v1.35h-1.35zM319.2 333.1h1.35v1.35h-1.35zM318.3 329.5h1.35v1.35h-1.35zM307.9 335.7h1.35v1.35h-1.35zM309.2 328.4h1.35v1.35h-1.35zM307.8 330.9h1.35v1.35h-1.35zM314.4 333.1h1.35v1.35h-1.35zM310.7 325.7h1.35v1.35h-1.35zM315.5 334.6h1.35v1.35h-1.35zM301.5 330.4h1.35v1.35h-1.35zM320.4 334.0h1.35v1.35h-1.35zM310.4 327.9h1.35v1.35h-1.35zM315.1 337.5h1.35v1.35h-1.35zM310.2 334.6h1.35v1.35h-1.35zM308.7 329.9h1.35v1.35h-1.35zM313.8 334.8h1.35v1.35h-1.35zM315.9 338.6h1.35v1.35h-1.35zM309.8 341.7h1.35v1.35h-1.35zM310.1 321.6h1.35v1.35h-1.35zM315.1 336.3h1.35v1.35h-1.35zM305.8 333.8h1.35v1.35h-1.35zM301.9 330.4h1.35v1.35h-1.35zM313.4 325.0h1.35v1.35h-1.35zM307.0 338.5h1.35v1.35h-1.35zM301.9 323.4h1.35v1.35h-1.35zM306.1 334.4h1.35v1.35h-1.35zM308.2 338.8h1.35v1.35h-1.35zM303.8 321.4h1.35v1.35h-1.35zM302.0 329.2h1.35v1.35h-1.35zM311.2 323.1h1.35v1.35h-1.35zM316.4 332.5h1.35v1.35h-1.35zM309.6 340.1h1.35v1.35h-1.35zM306.5 343.1h1.35v1.35h-1.35zM313.3 320.3h1.35v1.35h-1.35zM315.3 327.6h1.35v1.35h-1.35zM309.2 335.2h1.35v1.35h-1.35zM314.3 340.5h1.35v1.35h-1.35zM317.3 333.5h1.35v1.35h-1.35zM309.8 326.5h1.35v1.35h-1.35zM306.1 332.8h1.35v1.35h-1.35zM313.1 330.9h1.35v1.35h-1.35zM312.5 329.8h1.35v1.35h-1.35zM317.6 326.6h1.35v1.35h-1.35zM303.3 333.3h1.35v1.35h-1.35zM307.0 332.8h1.35v1.35h-1.35zM306.0 330.4h1.35v1.35h-1.35zM300.8 329.7h1.35v1.35h-1.35zM311.8 323.3h1.35v1.35h-1.35zM314.2 328.1h1.35v1.35h-1.35zM306.6 338.2h1.35v1.35h-1.35zM319.3 329.9h1.35v1.35h-1.35zM315.9 322.4h1.35v1.35h-1.35zM314.8 339.0h1.35v1.35h-1.35zM313.4 334.2h1.35v1.35h-1.35zM316.7 343.6h1.35v1.35h-1.35zM303.0 331.4h1.35v1.35h-1.35zM314.7 328.2h1.35v1.35h-1.35zM314.6 322.3h1.35v1.35h-1.35zM300.8 316.4h1.35v1.35h-1.35zM301.2 322.7h1.35v1.35h-1.35zM300.8 325.4h1.35v1.35h-1.35zM300.9 343.0h1.35v1.35h-1.35zM300.8 315.9h1.35v1.35h-1.35zM301.2 314.9h1.35v1.35h-1.35zM301.3 331.1h1.35v1.35h-1.35zM300.9 344.8h1.35v1.35h-1.35zM301.3 342.8h1.35v1.35h-1.35zM300.9 335.8h1.35v1.35h-1.35zM303.6 316.0h1.35v1.35h-1.35zM321.4 337.4h1.35v1.35h-1.35zM318.4 315.2h1.35v1.35h-1.35zM305.5 310.7h1.35v1.35h-1.35zM313.2 321.0h1.35v1.35h-1.35zM303.2 325.4h1.35v1.35h-1.35zM321.2 316.7h1.35v1.35h-1.35zM319.2 329.8h1.35v1.35h-1.35zM321.3 329.7h1.35v1.35h-1.35zM320.2 314.8h1.35v1.35h-1.35zM316.9 359.3h1.35v1.35h-1.35zM323.9 364.5h1.35v1.35h-1.35zM325.8 351.5h1.35v1.35h-1.35zM306.7 367.0h1.35v1.35h-1.35zM314.5 364.0h1.35v1.35h-1.35zM315.0 350.2h1.35v1.35h-1.35zM315.6 366.4h1.35v1.35h-1.35zM315.5 359.9h1.35v1.35h-1.35zM313.3 364.9h1.35v1.35h-1.35zM313.1 344.9h1.35v1.35h-1.35zM302.2 351.5h1.35v1.35h-1.35zM310.9 367.6h1.35v1.35h-1.35zM307.1 362.6h1.35v1.35h-1.35zM312.8 379.4h1.35v1.35h-1.35zM309.0 356.0h1.35v1.35h-1.35zM316.0 364.7h1.35v1.35h-1.35zM317.3 371.1h1.35v1.35h-1.35zM314.0 355.3h1.35v1.35h-1.35zM314.1 354.0h1.35v1.35h-1.35zM312.6 362.6h1.35v1.35h-1.35zM309.1 362.6h1.35v1.35h-1.35zM310.9 371.4h1.35v1.35h-1.35zM308.8 364.3h1.35v1.35h-1.35zM314.5 355.4h1.35v1.35h-1.35zM312.1 365.1h1.35v1.35h-1.35zM315.8 373.8h1.35v1.35h-1.35zM303.4 375.7h1.35v1.35h-1.35zM317.8 335.2h1.35v1.35h-1.35zM307.0 361.6h1.35v1.35h-1.35zM307.2 354.2h1.35v1.35h-1.35zM310.7 369.2h1.35v1.35h-1.35zM308.3 361.3h1.35v1.35h-1.35zM313.9 380.9h1.35v1.35h-1.35zM308.3 372.3h1.35v1.35h-1.35zM305.0 371.9h1.35v1.35h-1.35zM306.5 364.9h1.35v1.35h-1.35zM320.5 362.6h1.35v1.35h-1.35zM312.3 366.4h1.35v1.35h-1.35zM304.4 376.0h1.35v1.35h-1.35zM312.1 368.3h1.35v1.35h-1.35zM301.9 359.5h1.35v1.35h-1.35zM323.6 375.8h1.35v1.35h-1.35zM302.1 364.9h1.35v1.35h-1.35zM315.1 362.2h1.35v1.35h-1.35zM315.5 355.1h1.35v1.35h-1.35zM302.6 357.3h1.35v1.35h-1.35zM314.0 356.6h1.35v1.35h-1.35zM318.5 335.1h1.35v1.35h-1.35zM315.0 373.2h1.35v1.35h-1.35zM313.7 368.7h1.35v1.35h-1.35zM318.2 360.9h1.35v1.35h-1.35zM313.0 373.5h1.35v1.35h-1.35zM314.2 367.4h1.35v1.35h-1.35zM311.2 366.7h1.35v1.35h-1.35zM316.1 338.3h1.35v1.35h-1.35zM305.9 360.7h1.35v1.35h-1.35zM317.1 368.3h1.35v1.35h-1.35zM308.7 379.1h1.35v1.35h-1.35zM304.9 381.4h1.35v1.35h-1.35zM314.4 377.3h1.35v1.35h-1.35zM323.0 351.4h1.35v1.35h-1.35zM318.3 341.0h1.35v1.35h-1.35zM308.6 368.7h1.35v1.35h-1.35zM316.5 363.3h1.35v1.35h-1.35zM309.0 372.6h1.35v1.35h-1.35zM311.2 361.7h1.35v1.35h-1.35zM312.6 365.2h1.35v1.35h-1.35zM304.5 348.0h1.35v1.35h-1.35zM313.2 367.5h1.35v1.35h-1.35zM305.3 358.6h1.35v1.35h-1.35zM307.5 366.5h1.35v1.35h-1.35zM302.4 367.6h1.35v1.35h-1.35zM302.1 361.8h1.35v1.35h-1.35zM305.9 366.2h1.35v1.35h-1.35zM317.4 362.9h1.35v1.35h-1.35zM322.8 370.6h1.35v1.35h-1.35zM311.8 368.0h1.35v1.35h-1.35zM319.1 357.5h1.35v1.35h-1.35zM310.3 357.1h1.35v1.35h-1.35zM301.8 380.4h1.35v1.35h-1.35zM313.0 362.0h1.35v1.35h-1.35zM314.9 372.9h1.35v1.35h-1.35zM309.2 366.9h1.35v1.35h-1.35zM314.0 357.4h1.35v1.35h-1.35zM315.7 355.5h1.35v1.35h-1.35zM306.4 364.2h1.35v1.35h-1.35zM302.4 365.6h1.35v1.35h-1.35zM310.6 369.1h1.35v1.35h-1.35zM310.6 350.3h1.35v1.35h-1.35zM309.7 357.1h1.35v1.35h-1.35zM318.4 362.1h1.35v1.35h-1.35zM323.2 379.0h1.35v1.35h-1.35zM309.3 339.4h1.35v1.35h-1.35zM316.5 367.4h1.35v1.35h-1.35zM318.1 357.6h1.35v1.35h-1.35zM316.6 367.3h1.35v1.35h-1.35zM318.8 358.1h1.35v1.35h-1.35zM309.5 366.6h1.35v1.35h-1.35zM316.8 378.6h1.35v1.35h-1.35zM325.2 366.5h1.35v1.35h-1.35zM317.2 367.3h1.35v1.35h-1.35zM308.0 366.7h1.35v1.35h-1.35zM316.0 355.5h1.35v1.35h-1.35zM320.2 368.4h1.35v1.35h-1.35zM314.4 360.9h1.35v1.35h-1.35zM308.3 354.9h1.35v1.35h-1.35zM322.0 362.6h1.35v1.35h-1.35zM303.9 360.7h1.35v1.35h-1.35zM315.3 370.5h1.35v1.35h-1.35zM311.9 362.6h1.35v1.35h-1.35zM304.2 357.7h1.35v1.35h-1.35zM319.9 377.6h1.35v1.35h-1.35zM314.3 372.9h1.35v1.35h-1.35zM304.4 375.7h1.35v1.35h-1.35zM315.9 369.1h1.35v1.35h-1.35zM309.2 361.9h1.35v1.35h-1.35zM301.8 358.8h1.35v1.35h-1.35zM307.5 360.2h1.35v1.35h-1.35zM313.7 372.5h1.35v1.35h-1.35zM316.1 364.1h1.35v1.35h-1.35zM313.1 348.2h1.35v1.35h-1.35zM312.3 362.6h1.35v1.35h-1.35zM315.1 348.8h1.35v1.35h-1.35zM310.6 364.7h1.35v1.35h-1.35zM319.7 351.0h1.35v1.35h-1.35zM313.0 350.4h1.35v1.35h-1.35zM313.9 364.2h1.35v1.35h-1.35zM315.5 362.2h1.35v1.35h-1.35zM305.1 346.4h1.35v1.35h-1.35zM307.4 370.5h1.35v1.35h-1.35zM321.9 378.6h1.35v1.35h-1.35zM314.2 348.2h1.35v1.35h-1.35zM310.2 381.2h1.35v1.35h-1.35zM314.2 356.1h1.35v1.35h-1.35zM308.9 358.1h1.35v1.35h-1.35zM313.8 361.2h1.35v1.35h-1.35zM307.7 348.5h1.35v1.35h-1.35zM313.8 376.0h1.35v1.35h-1.35zM301.7 367.9h1.35v1.35h-1.35zM320.7 355.5h1.35v1.35h-1.35zM308.7 360.2h1.35v1.35h-1.35zM301.7 347.8h1.35v1.35h-1.35zM310.5 359.5h1.35v1.35h-1.35zM301.3 351.6h1.35v1.35h-1.35zM301.1 351.8h1.35v1.35h-1.35zM301.6 354.0h1.35v1.35h-1.35zM300.8 358.7h1.35v1.35h-1.35zM301.5 350.0h1.35v1.35h-1.35zM301.7 351.3h1.35v1.35h-1.35zM301.6 346.6h1.35v1.35h-1.35zM301.7 378.7h1.35v1.35h-1.35zM334.9 320.6h1.35v1.35h-1.35zM341.9 321.6h1.35v1.35h-1.35zM357.0 326.8h1.35v1.35h-1.35zM352.8 343.3h1.35v1.35h-1.35zM356.3 344.9h1.35v1.35h-1.35zM346.6 347.4h1.35v1.35h-1.35zM349.7 350.5h1.35v1.35h-1.35zM354.9 349.5h1.35v1.35h-1.35zM356.3 351.1h1.35v1.35h-1.35zM335.7 352.6h1.35v1.35h-1.35zM348.1 354.6h1.35v1.35h-1.35zM349.3 358.8h1.35v1.35h-1.35zM337.0 361.9h1.35v1.35h-1.35zM339.4 362.9h1.35v1.35h-1.35zM350.8 366.4h1.35v1.35h-1.35zM357.0 369.7h1.35v1.35h-1.35zM345.6 372.2h1.35v1.35h-1.35zM352.8 371.1h1.35v1.35h-1.35zM353.9 372.2h1.35v1.35h-1.35zM349.7 373.8h1.35v1.35h-1.35z" fill="#151515"/>
<path d="M327.3 288.3V381.8M300.5 346.1H389.9" stroke="#555" stroke-width="1.15" fill="none"/>
<path d="M300.5 288.3V381.8H390.4" stroke="#111" stroke-width="1.25" fill="none"/>
<path d="M300.50 382.20v2.2M300.10 381.80h-2.2M307.27 382.20v1.4M300.10 374.76h-1.4M311.22 382.20v1.4M300.10 370.65h-1.4M314.03 382.20v1.4M300.10 367.73h-1.4M316.21 382.20v1.4M300.10 365.46h-1.4M317.99 382.20v1.4M300.10 363.61h-1.4M319.49 382.20v1.4M300.10 362.05h-1.4M320.80 382.20v1.4M300.10 360.69h-1.4M321.95 382.20v1.4M300.10 359.49h-1.4M322.98 382.20v2.2M300.10 358.43h-2.2M329.74 382.20v1.4M300.10 351.39h-1.4M333.70 382.20v1.4M300.10 347.27h-1.4M336.51 382.20v1.4M300.10 344.35h-1.4M338.68 382.20v1.4M300.10 342.09h-1.4M340.46 382.20v1.4M300.10 340.24h-1.4M341.97 382.20v1.4M300.10 338.67h-1.4M343.27 382.20v1.4M300.10 337.32h-1.4M344.42 382.20v1.4M300.10 336.12h-1.4M345.45 382.20v2.2M300.10 335.05h-2.2M352.22 382.20v1.4M300.10 328.01h-1.4M356.17 382.20v1.4M300.10 323.90h-1.4M358.98 382.20v1.4M300.10 320.98h-1.4M361.16 382.20v1.4M300.10 318.71h-1.4M362.94 382.20v1.4M300.10 316.86h-1.4M364.44 382.20v1.4M300.10 315.30h-1.4M365.75 382.20v1.4M300.10 313.94h-1.4M366.90 382.20v1.4M300.10 312.74h-1.4M367.92 382.20v2.2M300.10 311.68h-2.2M374.69 382.20v1.4M300.10 304.64h-1.4M378.65 382.20v1.4M300.10 300.52h-1.4M381.46 382.20v1.4M300.10 297.60h-1.4M383.63 382.20v1.4M300.10 295.34h-1.4M385.41 382.20v1.4M300.10 293.49h-1.4M386.92 382.20v1.4M300.10 291.92h-1.4M388.22 382.20v1.4M300.10 290.57h-1.4M389.37 382.20v1.4M300.10 289.37h-1.4M390.40 382.20v2.2M300.10 288.30h-2.2" stroke="#222" stroke-width="0.8" fill="none"/>
<text transform="translate(295.2,392.2) scale(0.82,1)" font-family='"Liberation Sans", sans-serif' font-size="8.6" fill="#111" stroke="#111" stroke-width="0.15">10<tspan font-size="5.8" dx="1.4" dy="-3.3">0</tspan></text>
<text transform="translate(295.5,388.2) rotate(-90) scale(0.9,1)" font-family='"Liberation Sans", sans-serif' font-size="8.4" fill="#111" stroke="#111" stroke-width="0.15">10<tspan font-size="5.8" dx="0.8" dy="-3.1">0</tspan></text>
<text transform="translate(317.7,392.2) scale(0.82,1)" font-family='"Liberation Sans", sans-serif' font-size="8.6" fill="#111" stroke="#111" stroke-width="0.15">10<tspan font-size="5.8" dx="1.4" dy="-3.3">1</tspan></text>
<text transform="translate(295.5,364.8) rotate(-90) scale(0.9,1)" font-family='"Liberation Sans", sans-serif' font-size="8.4" fill="#111" stroke="#111" stroke-width="0.15">10<tspan font-size="5.8" dx="0.8" dy="-3.1">1</tspan></text>
<text transform="translate(340.1,392.2) scale(0.82,1)" font-family='"Liberation Sans", sans-serif' font-size="8.6" fill="#111" stroke="#111" stroke-width="0.15">10<tspan font-size="5.8" dx="1.4" dy="-3.3">2</tspan></text>
<text transform="translate(295.5,341.4) rotate(-90) scale(0.9,1)" font-family='"Liberation Sans", sans-serif' font-size="8.4" fill="#111" stroke="#111" stroke-width="0.15">10<tspan font-size="5.8" dx="0.8" dy="-3.1">2</tspan></text>
<text transform="translate(362.6,392.2) scale(0.82,1)" font-family='"Liberation Sans", sans-serif' font-size="8.6" fill="#111" stroke="#111" stroke-width="0.15">10<tspan font-size="5.8" dx="1.4" dy="-3.3">3</tspan></text>
<text transform="translate(295.5,318.1) rotate(-90) scale(0.9,1)" font-family='"Liberation Sans", sans-serif' font-size="8.4" fill="#111" stroke="#111" stroke-width="0.15">10<tspan font-size="5.8" dx="0.8" dy="-3.1">3</tspan></text>
<text transform="translate(382.9,392.2) scale(0.82,1)" font-family='"Liberation Sans", sans-serif' font-size="8.6" fill="#111" stroke="#111" stroke-width="0.15">10<tspan font-size="5.8" dx="1.4" dy="-3.3">4</tspan></text>
<text transform="translate(295.5,297.0) rotate(-90) scale(0.9,1)" font-family='"Liberation Sans", sans-serif' font-size="8.4" fill="#111" stroke="#111" stroke-width="0.15">10<tspan font-size="5.8" dx="0.8" dy="-3.1">4</tspan></text>
<text x="329.10" y="403.65" font-family='"Liberation Sans", sans-serif' font-size="9.8" textLength="43.00" lengthAdjust="spacingAndGlyphs" fill="#111" stroke="#111" stroke-width="0.38">NK1.1 PE</text>
<text transform="translate(282.20,356.55) rotate(-90)" font-family='"Liberation Sans", sans-serif' font-size="9.2" textLength="51.02" lengthAdjust="spacingAndGlyphs" fill="#111" stroke="#111" stroke-width="0.3">B220 APC</text>
<path d="M430.0 361.7h1.35v1.35h-1.35zM436.3 353.6h1.35v1.35h-1.35zM434.4 340.0h1.35v1.35h-1.35zM434.3 357.3h1.35v1.35h-1.35zM439.7 351.7h1.35v1.35h-1.35zM422.8 368.8h1.35v1.35h-1.35zM426.2 375.4h1.35v1.35h-1.35zM423.5 360.8h1.35v1.35h-1.35zM429.4 338.7h1.35v1.35h-1.35zM436.0 357.8h1.35v1.35h-1.35zM429.9 349.8h1.35v1.35h-1.35zM433.0 367.5h1.35v1.35h-1.35zM427.1 378.6h1.35v1.35h-1.35zM430.9 363.5h1.35v1.35h-1.35zM424.6 380.6h1.35v1.35h-1.35zM440.7 376.7h1.35v1.35h-1.35zM435.3 367.7h1.35v1.35h-1.35zM435.7 350.5h1.35v1.35h-1.35zM429.7 362.3h1.35v1.35h-1.35zM433.7 345.3h1.35v1.35h-1.35zM433.9 372.7h1.35v1.35h-1.35zM427.9 362.6h1.35v1.35h-1.35zM427.0 376.5h1.35v1.35h-1.35zM429.3 364.6h1.35v1.35h-1.35zM426.4 340.2h1.35v1.35h-1.35zM426.4 368.7h1.35v1.35h-1.35zM428.3 371.8h1.35v1.35h-1.35zM425.6 379.9h1.35v1.35h-1.35zM434.6 350.9h1.35v1.35h-1.35zM425.2 351.5h1.35v1.35h-1.35zM434.9 362.3h1.35v1.35h-1.35zM426.2 350.0h1.35v1.35h-1.35zM426.7 346.5h1.35v1.35h-1.35zM423.7 349.5h1.35v1.35h-1.35zM429.1 373.0h1.35v1.35h-1.35zM428.5 354.5h1.35v1.35h-1.35zM431.1 350.2h1.35v1.35h-1.35zM426.8 356.4h1.35v1.35h-1.35zM430.6 361.2h1.35v1.35h-1.35zM440.9 375.4h1.35v1.35h-1.35zM432.5 371.6h1.35v1.35h-1.35zM426.6 369.8h1.35v1.35h-1.35zM435.7 361.6h1.35v1.35h-1.35zM429.2 362.8h1.35v1.35h-1.35zM433.6 354.1h1.35v1.35h-1.35zM433.7 344.6h1.35v1.35h-1.35zM427.7 379.5h1.35v1.35h-1.35zM427.2 356.1h1.35v1.35h-1.35zM427.9 372.2h1.35v1.35h-1.35zM433.3 357.6h1.35v1.35h-1.35zM427.7 360.1h1.35v1.35h-1.35zM432.6 359.4h1.35v1.35h-1.35zM435.9 345.9h1.35v1.35h-1.35zM426.7 360.2h1.35v1.35h-1.35zM437.4 365.2h1.35v1.35h-1.35zM439.7 370.1h1.35v1.35h-1.35zM436.5 366.5h1.35v1.35h-1.35zM437.0 372.2h1.35v1.35h-1.35zM436.6 364.2h1.35v1.35h-1.35zM443.5 360.9h1.35v1.35h-1.35zM431.1 339.3h1.35v1.35h-1.35zM430.0 355.1h1.35v1.35h-1.35zM433.6 378.0h1.35v1.35h-1.35zM424.6 362.3h1.35v1.35h-1.35zM424.9 369.7h1.35v1.35h-1.35zM424.7 358.6h1.35v1.35h-1.35zM432.2 353.5h1.35v1.35h-1.35zM432.8 379.5h1.35v1.35h-1.35zM424.8 364.9h1.35v1.35h-1.35zM426.9 377.4h1.35v1.35h-1.35zM428.1 366.8h1.35v1.35h-1.35zM428.9 357.7h1.35v1.35h-1.35zM429.7 336.2h1.35v1.35h-1.35zM434.0 361.9h1.35v1.35h-1.35zM437.4 343.7h1.35v1.35h-1.35zM431.4 336.5h1.35v1.35h-1.35zM433.7 374.6h1.35v1.35h-1.35zM423.4 368.9h1.35v1.35h-1.35zM422.9 368.0h1.35v1.35h-1.35zM431.4 361.4h1.35v1.35h-1.35zM434.0 360.5h1.35v1.35h-1.35zM434.4 365.5h1.35v1.35h-1.35zM433.6 362.6h1.35v1.35h-1.35zM434.7 361.7h1.35v1.35h-1.35zM434.9 369.0h1.35v1.35h-1.35zM426.1 333.8h1.35v1.35h-1.35zM425.6 370.7h1.35v1.35h-1.35zM432.7 353.9h1.35v1.35h-1.35zM433.6 370.2h1.35v1.35h-1.35zM424.7 373.7h1.35v1.35h-1.35zM437.0 351.5h1.35v1.35h-1.35zM427.4 369.5h1.35v1.35h-1.35zM428.6 369.3h1.35v1.35h-1.35zM431.6 352.8h1.35v1.35h-1.35zM434.5 354.6h1.35v1.35h-1.35zM424.2 361.6h1.35v1.35h-1.35zM435.9 335.8h1.35v1.35h-1.35zM430.5 355.3h1.35v1.35h-1.35zM425.4 362.3h1.35v1.35h-1.35zM428.3 355.2h1.35v1.35h-1.35zM428.7 342.5h1.35v1.35h-1.35zM426.1 355.8h1.35v1.35h-1.35zM431.1 376.8h1.35v1.35h-1.35zM425.7 374.7h1.35v1.35h-1.35zM428.0 358.8h1.35v1.35h-1.35zM429.1 351.2h1.35v1.35h-1.35zM430.3 359.9h1.35v1.35h-1.35zM436.1 360.2h1.35v1.35h-1.35zM429.9 352.6h1.35v1.35h-1.35zM428.4 356.4h1.35v1.35h-1.35zM433.2 366.9h1.35v1.35h-1.35zM442.5 370.3h1.35v1.35h-1.35zM427.9 333.2h1.35v1.35h-1.35zM433.1 370.8h1.35v1.35h-1.35zM425.1 361.5h1.35v1.35h-1.35zM438.1 372.7h1.35v1.35h-1.35zM434.0 359.8h1.35v1.35h-1.35zM438.0 364.9h1.35v1.35h-1.35zM429.6 378.1h1.35v1.35h-1.35zM423.7 327.4h1.35v1.35h-1.35zM435.3 377.6h1.35v1.35h-1.35zM434.5 362.1h1.35v1.35h-1.35zM424.8 340.0h1.35v1.35h-1.35zM424.4 330.7h1.35v1.35h-1.35zM432.7 363.5h1.35v1.35h-1.35zM429.0 348.7h1.35v1.35h-1.35zM445.7 371.1h1.35v1.35h-1.35zM426.3 362.4h1.35v1.35h-1.35zM426.8 358.6h1.35v1.35h-1.35zM429.3 371.0h1.35v1.35h-1.35zM425.6 362.2h1.35v1.35h-1.35zM424.7 368.2h1.35v1.35h-1.35zM439.9 369.2h1.35v1.35h-1.35zM429.2 363.6h1.35v1.35h-1.35zM426.3 368.7h1.35v1.35h-1.35zM423.2 368.7h1.35v1.35h-1.35zM433.5 345.0h1.35v1.35h-1.35zM433.9 357.0h1.35v1.35h-1.35zM431.5 358.7h1.35v1.35h-1.35zM427.7 355.9h1.35v1.35h-1.35zM431.8 342.5h1.35v1.35h-1.35zM432.3 353.8h1.35v1.35h-1.35zM425.9 363.7h1.35v1.35h-1.35zM433.7 362.1h1.35v1.35h-1.35zM428.3 376.8h1.35v1.35h-1.35zM423.3 353.3h1.35v1.35h-1.35zM428.2 355.3h1.35v1.35h-1.35zM429.3 353.7h1.35v1.35h-1.35zM423.0 356.5h1.35v1.35h-1.35zM432.0 353.4h1.35v1.35h-1.35zM436.3 339.4h1.35v1.35h-1.35zM432.7 363.8h1.35v1.35h-1.35zM431.3 370.9h1.35v1.35h-1.35zM435.0 372.3h1.35v1.35h-1.35zM432.4 348.0h1.35v1.35h-1.35zM423.1 357.9h1.35v1.35h-1.35zM428.8 380.4h1.35v1.35h-1.35zM437.7 358.8h1.35v1.35h-1.35zM423.2 363.8h1.35v1.35h-1.35zM430.4 358.3h1.35v1.35h-1.35zM427.7 371.1h1.35v1.35h-1.35zM424.6 370.7h1.35v1.35h-1.35zM423.9 377.4h1.35v1.35h-1.35zM430.6 365.5h1.35v1.35h-1.35zM431.9 364.9h1.35v1.35h-1.35zM431.9 346.7h1.35v1.35h-1.35zM424.3 355.5h1.35v1.35h-1.35zM428.3 352.3h1.35v1.35h-1.35zM432.1 356.4h1.35v1.35h-1.35zM435.7 345.6h1.35v1.35h-1.35zM434.0 373.4h1.35v1.35h-1.35zM435.0 348.4h1.35v1.35h-1.35zM436.6 363.0h1.35v1.35h-1.35zM434.9 346.1h1.35v1.35h-1.35zM425.1 363.8h1.35v1.35h-1.35zM430.3 378.2h1.35v1.35h-1.35zM425.7 351.0h1.35v1.35h-1.35zM429.9 364.0h1.35v1.35h-1.35zM425.7 359.3h1.35v1.35h-1.35zM442.5 363.1h1.35v1.35h-1.35zM423.3 364.6h1.35v1.35h-1.35zM429.1 353.0h1.35v1.35h-1.35zM426.5 358.0h1.35v1.35h-1.35zM439.1 353.5h1.35v1.35h-1.35zM429.7 350.9h1.35v1.35h-1.35zM432.4 346.5h1.35v1.35h-1.35zM428.4 370.6h1.35v1.35h-1.35zM429.5 351.9h1.35v1.35h-1.35zM437.6 367.3h1.35v1.35h-1.35zM434.8 366.1h1.35v1.35h-1.35zM429.5 349.0h1.35v1.35h-1.35zM435.3 371.5h1.35v1.35h-1.35zM436.4 350.5h1.35v1.35h-1.35zM428.7 366.9h1.35v1.35h-1.35zM431.6 376.0h1.35v1.35h-1.35zM431.5 352.1h1.35v1.35h-1.35zM426.0 349.8h1.35v1.35h-1.35zM436.9 349.6h1.35v1.35h-1.35zM429.0 377.7h1.35v1.35h-1.35zM426.3 355.9h1.35v1.35h-1.35zM425.7 346.1h1.35v1.35h-1.35zM423.2 369.0h1.35v1.35h-1.35zM439.2 358.0h1.35v1.35h-1.35zM423.2 359.6h1.35v1.35h-1.35zM432.6 349.0h1.35v1.35h-1.35zM427.8 335.5h1.35v1.35h-1.35zM433.1 351.9h1.35v1.35h-1.35zM433.6 348.4h1.35v1.35h-1.35zM425.3 342.1h1.35v1.35h-1.35zM428.2 347.9h1.35v1.35h-1.35zM430.6 349.5h1.35v1.35h-1.35zM430.7 368.7h1.35v1.35h-1.35zM429.8 367.7h1.35v1.35h-1.35zM428.1 365.6h1.35v1.35h-1.35zM433.8 354.0h1.35v1.35h-1.35zM437.9 346.0h1.35v1.35h-1.35zM433.2 363.1h1.35v1.35h-1.35zM425.6 364.9h1.35v1.35h-1.35zM432.4 370.9h1.35v1.35h-1.35zM430.4 359.6h1.35v1.35h-1.35zM432.8 358.5h1.35v1.35h-1.35zM441.1 363.3h1.35v1.35h-1.35zM428.7 349.7h1.35v1.35h-1.35zM429.9 351.0h1.35v1.35h-1.35zM424.7 366.9h1.35v1.35h-1.35zM428.3 346.0h1.35v1.35h-1.35zM426.6 359.0h1.35v1.35h-1.35zM439.6 368.5h1.35v1.35h-1.35zM431.8 362.5h1.35v1.35h-1.35zM426.6 364.6h1.35v1.35h-1.35zM441.6 347.7h1.35v1.35h-1.35zM423.6 358.6h1.35v1.35h-1.35zM435.2 357.0h1.35v1.35h-1.35zM436.1 366.6h1.35v1.35h-1.35zM433.4 364.6h1.35v1.35h-1.35zM428.4 360.3h1.35v1.35h-1.35zM429.2 380.9h1.35v1.35h-1.35zM427.9 366.0h1.35v1.35h-1.35zM434.7 356.9h1.35v1.35h-1.35zM429.6 353.4h1.35v1.35h-1.35zM426.9 359.7h1.35v1.35h-1.35zM427.7 324.4h1.35v1.35h-1.35zM440.9 328.6h1.35v1.35h-1.35zM434.5 329.6h1.35v1.35h-1.35zM429.2 335.7h1.35v1.35h-1.35zM427.2 336.1h1.35v1.35h-1.35zM424.7 327.5h1.35v1.35h-1.35zM429.5 333.0h1.35v1.35h-1.35zM439.0 328.8h1.35v1.35h-1.35zM436.2 321.5h1.35v1.35h-1.35zM430.8 328.4h1.35v1.35h-1.35zM432.0 333.8h1.35v1.35h-1.35zM425.6 324.9h1.35v1.35h-1.35zM435.7 322.5h1.35v1.35h-1.35zM429.8 329.5h1.35v1.35h-1.35zM439.4 328.5h1.35v1.35h-1.35zM430.1 336.7h1.35v1.35h-1.35zM428.3 323.2h1.35v1.35h-1.35zM432.5 334.1h1.35v1.35h-1.35zM427.4 338.6h1.35v1.35h-1.35zM439.3 340.9h1.35v1.35h-1.35zM432.9 328.4h1.35v1.35h-1.35zM433.4 324.4h1.35v1.35h-1.35zM433.2 319.8h1.35v1.35h-1.35zM429.1 337.3h1.35v1.35h-1.35zM434.1 340.9h1.35v1.35h-1.35zM432.3 326.6h1.35v1.35h-1.35zM441.8 331.5h1.35v1.35h-1.35zM431.7 338.7h1.35v1.35h-1.35zM433.5 338.8h1.35v1.35h-1.35zM428.6 330.5h1.35v1.35h-1.35zM429.1 338.3h1.35v1.35h-1.35zM429.5 332.9h1.35v1.35h-1.35zM439.2 322.3h1.35v1.35h-1.35zM431.9 334.5h1.35v1.35h-1.35zM437.3 333.2h1.35v1.35h-1.35zM429.9 326.1h1.35v1.35h-1.35zM429.3 337.1h1.35v1.35h-1.35zM425.6 352.7h1.35v1.35h-1.35zM436.5 319.5h1.35v1.35h-1.35zM443.9 333.3h1.35v1.35h-1.35zM430.2 340.4h1.35v1.35h-1.35zM440.2 329.9h1.35v1.35h-1.35zM436.7 333.4h1.35v1.35h-1.35zM427.5 332.5h1.35v1.35h-1.35zM436.2 341.4h1.35v1.35h-1.35zM426.2 327.9h1.35v1.35h-1.35zM429.8 332.5h1.35v1.35h-1.35zM438.9 315.1h1.35v1.35h-1.35zM432.6 334.8h1.35v1.35h-1.35zM424.6 338.4h1.35v1.35h-1.35zM440.1 316.5h1.35v1.35h-1.35zM425.0 328.6h1.35v1.35h-1.35zM430.6 336.6h1.35v1.35h-1.35zM429.5 329.7h1.35v1.35h-1.35zM430.6 323.7h1.35v1.35h-1.35zM426.5 315.5h1.35v1.35h-1.35zM423.8 339.0h1.35v1.35h-1.35zM442.7 342.8h1.35v1.35h-1.35zM425.9 331.2h1.35v1.35h-1.35zM426.3 337.8h1.35v1.35h-1.35zM428.6 341.4h1.35v1.35h-1.35zM432.1 331.5h1.35v1.35h-1.35zM439.3 330.0h1.35v1.35h-1.35zM440.0 329.9h1.35v1.35h-1.35zM448.2 319.1h1.35v1.35h-1.35zM440.6 347.8h1.35v1.35h-1.35zM434.1 352.1h1.35v1.35h-1.35zM431.8 334.7h1.35v1.35h-1.35zM440.2 342.5h1.35v1.35h-1.35zM431.4 326.2h1.35v1.35h-1.35zM432.8 330.1h1.35v1.35h-1.35zM425.9 343.3h1.35v1.35h-1.35zM432.2 323.3h1.35v1.35h-1.35zM443.5 317.7h1.35v1.35h-1.35zM431.2 335.2h1.35v1.35h-1.35zM434.0 316.3h1.35v1.35h-1.35zM428.4 351.3h1.35v1.35h-1.35zM439.7 334.9h1.35v1.35h-1.35zM433.9 333.4h1.35v1.35h-1.35zM440.1 334.3h1.35v1.35h-1.35zM433.0 325.1h1.35v1.35h-1.35zM426.5 327.5h1.35v1.35h-1.35zM423.4 342.3h1.35v1.35h-1.35zM434.5 338.6h1.35v1.35h-1.35zM431.3 333.9h1.35v1.35h-1.35zM425.6 334.7h1.35v1.35h-1.35zM431.0 328.8h1.35v1.35h-1.35zM427.6 345.0h1.35v1.35h-1.35zM435.6 319.8h1.35v1.35h-1.35zM428.8 327.3h1.35v1.35h-1.35zM423.9 331.7h1.35v1.35h-1.35zM430.7 321.4h1.35v1.35h-1.35zM427.8 324.1h1.35v1.35h-1.35zM440.0 321.5h1.35v1.35h-1.35zM428.3 341.8h1.35v1.35h-1.35zM443.9 374.4h1.35v1.35h-1.35zM431.3 377.5h1.35v1.35h-1.35zM430.7 380.3h1.35v1.35h-1.35zM436.8 373.8h1.35v1.35h-1.35zM436.7 336.2h1.35v1.35h-1.35zM442.2 367.1h1.35v1.35h-1.35zM427.2 363.7h1.35v1.35h-1.35zM442.4 343.9h1.35v1.35h-1.35zM432.9 370.2h1.35v1.35h-1.35zM429.3 345.2h1.35v1.35h-1.35zM431.1 328.6h1.35v1.35h-1.35zM427.5 355.0h1.35v1.35h-1.35zM429.2 326.1h1.35v1.35h-1.35zM439.1 377.5h1.35v1.35h-1.35zM430.6 324.0h1.35v1.35h-1.35zM441.7 336.9h1.35v1.35h-1.35zM437.0 341.9h1.35v1.35h-1.35zM431.5 325.2h1.35v1.35h-1.35zM431.4 343.5h1.35v1.35h-1.35zM435.2 346.7h1.35v1.35h-1.35zM435.7 319.4h1.35v1.35h-1.35zM429.4 323.0h1.35v1.35h-1.35zM423.5 349.6h1.35v1.35h-1.35zM434.9 336.9h1.35v1.35h-1.35zM429.8 371.2h1.35v1.35h-1.35zM439.3 320.4h1.35v1.35h-1.35zM441.6 376.3h1.35v1.35h-1.35zM430.2 325.4h1.35v1.35h-1.35zM430.5 321.0h1.35v1.35h-1.35zM443.7 350.1h1.35v1.35h-1.35zM439.6 375.7h1.35v1.35h-1.35zM439.4 356.3h1.35v1.35h-1.35zM428.1 330.0h1.35v1.35h-1.35zM442.4 355.0h1.35v1.35h-1.35zM435.4 350.1h1.35v1.35h-1.35zM432.9 321.2h1.35v1.35h-1.35zM428.1 352.5h1.35v1.35h-1.35zM437.7 368.6h1.35v1.35h-1.35zM439.6 367.0h1.35v1.35h-1.35zM431.7 338.7h1.35v1.35h-1.35zM439.0 336.4h1.35v1.35h-1.35zM437.6 344.1h1.35v1.35h-1.35zM428.8 352.8h1.35v1.35h-1.35zM437.3 322.9h1.35v1.35h-1.35zM425.4 328.1h1.35v1.35h-1.35zM433.5 326.0h1.35v1.35h-1.35zM433.8 358.5h1.35v1.35h-1.35zM438.6 356.2h1.35v1.35h-1.35zM438.9 374.2h1.35v1.35h-1.35zM435.1 334.6h1.35v1.35h-1.35zM423.4 340.8h1.35v1.35h-1.35zM425.7 380.5h1.35v1.35h-1.35zM436.0 338.2h1.35v1.35h-1.35zM441.3 357.9h1.35v1.35h-1.35zM424.3 329.6h1.35v1.35h-1.35zM439.8 367.0h1.35v1.35h-1.35zM433.6 325.7h1.35v1.35h-1.35zM437.2 369.8h1.35v1.35h-1.35zM423.5 339.2h1.35v1.35h-1.35zM431.5 360.5h1.35v1.35h-1.35zM442.5 364.1h1.35v1.35h-1.35zM426.0 332.5h1.35v1.35h-1.35zM427.4 335.2h1.35v1.35h-1.35zM431.3 320.2h1.35v1.35h-1.35zM433.1 344.7h1.35v1.35h-1.35zM423.9 344.1h1.35v1.35h-1.35zM424.6 354.1h1.35v1.35h-1.35zM435.5 326.2h1.35v1.35h-1.35zM423.1 334.5h1.35v1.35h-1.35zM428.1 339.1h1.35v1.35h-1.35zM428.6 359.0h1.35v1.35h-1.35zM428.2 336.6h1.35v1.35h-1.35zM442.4 364.5h1.35v1.35h-1.35zM427.4 350.8h1.35v1.35h-1.35zM436.7 365.2h1.35v1.35h-1.35zM427.0 365.4h1.35v1.35h-1.35zM442.4 333.4h1.35v1.35h-1.35zM438.6 367.5h1.35v1.35h-1.35zM427.4 343.3h1.35v1.35h-1.35zM435.0 369.6h1.35v1.35h-1.35zM434.7 351.3h1.35v1.35h-1.35zM423.1 368.7h1.35v1.35h-1.35zM441.2 351.7h1.35v1.35h-1.35zM428.3 323.9h1.35v1.35h-1.35zM437.7 348.4h1.35v1.35h-1.35zM424.9 322.0h1.35v1.35h-1.35zM432.8 367.1h1.35v1.35h-1.35zM430.8 370.9h1.35v1.35h-1.35zM438.0 323.1h1.35v1.35h-1.35zM428.8 366.1h1.35v1.35h-1.35zM425.2 346.8h1.35v1.35h-1.35zM428.5 359.3h1.35v1.35h-1.35zM424.2 359.0h1.35v1.35h-1.35zM443.8 335.8h1.35v1.35h-1.35zM430.2 369.9h1.35v1.35h-1.35zM441.7 318.9h1.35v1.35h-1.35zM433.6 380.4h1.35v1.35h-1.35zM442.6 345.2h1.35v1.35h-1.35zM433.2 377.2h1.35v1.35h-1.35zM426.8 330.6h1.35v1.35h-1.35zM428.1 372.7h1.35v1.35h-1.35zM431.7 334.0h1.35v1.35h-1.35zM425.4 372.5h1.35v1.35h-1.35zM436.7 364.9h1.35v1.35h-1.35zM424.4 374.6h1.35v1.35h-1.35zM432.9 360.8h1.35v1.35h-1.35zM434.4 324.9h1.35v1.35h-1.35zM443.2 323.2h1.35v1.35h-1.35zM431.9 360.5h1.35v1.35h-1.35zM441.6 366.6h1.35v1.35h-1.35zM433.5 371.9h1.35v1.35h-1.35zM436.0 361.4h1.35v1.35h-1.35zM440.7 379.3h1.35v1.35h-1.35zM434.4 336.7h1.35v1.35h-1.35zM443.2 339.5h1.35v1.35h-1.35zM441.6 321.6h1.35v1.35h-1.35zM431.2 371.5h1.35v1.35h-1.35zM438.5 333.1h1.35v1.35h-1.35zM426.4 363.3h1.35v1.35h-1.35zM428.0 359.3h1.35v1.35h-1.35zM441.4 364.6h1.35v1.35h-1.35zM429.0 350.3h1.35v1.35h-1.35zM442.6 323.6h1.35v1.35h-1.35zM426.5 372.6h1.35v1.35h-1.35zM433.1 378.6h1.35v1.35h-1.35zM426.9 324.6h1.35v1.35h-1.35zM438.3 380.0h1.35v1.35h-1.35zM437.1 357.5h1.35v1.35h-1.35zM429.5 369.6h1.35v1.35h-1.35zM426.5 374.4h1.35v1.35h-1.35zM442.8 368.9h1.35v1.35h-1.35zM437.1 346.3h1.35v1.35h-1.35zM435.7 361.0h1.35v1.35h-1.35zM437.9 321.5h1.35v1.35h-1.35zM423.2 342.2h1.35v1.35h-1.35zM425.2 345.9h1.35v1.35h-1.35zM440.9 318.6h1.35v1.35h-1.35zM430.3 369.1h1.35v1.35h-1.35zM438.7 367.6h1.35v1.35h-1.35zM434.7 333.4h1.35v1.35h-1.35zM430.2 367.3h1.35v1.35h-1.35zM425.3 339.3h1.35v1.35h-1.35zM448.3 321.3h1.35v1.35h-1.35zM425.9 380.0h1.35v1.35h-1.35zM424.3 341.8h1.35v1.35h-1.35zM432.0 320.9h1.35v1.35h-1.35zM447.8 366.6h1.35v1.35h-1.35zM424.1 363.5h1.35v1.35h-1.35zM424.8 337.3h1.35v1.35h-1.35zM430.6 325.2h1.35v1.35h-1.35zM434.4 365.2h1.35v1.35h-1.35zM442.6 321.8h1.35v1.35h-1.35zM429.6 364.6h1.35v1.35h-1.35zM433.4 350.4h1.35v1.35h-1.35zM444.3 375.9h1.35v1.35h-1.35zM428.9 339.9h1.35v1.35h-1.35zM429.0 373.5h1.35v1.35h-1.35zM444.7 356.3h1.35v1.35h-1.35zM441.9 338.3h1.35v1.35h-1.35zM447.9 360.6h1.35v1.35h-1.35zM444.5 342.3h1.35v1.35h-1.35zM440.6 341.7h1.35v1.35h-1.35zM424.9 332.1h1.35v1.35h-1.35zM425.6 353.6h1.35v1.35h-1.35zM423.1 320.7h1.35v1.35h-1.35zM423.0 343.1h1.35v1.35h-1.35zM423.0 329.8h1.35v1.35h-1.35zM423.7 366.1h1.35v1.35h-1.35zM422.9 369.2h1.35v1.35h-1.35zM423.8 350.7h1.35v1.35h-1.35zM422.9 364.4h1.35v1.35h-1.35zM423.0 379.7h1.35v1.35h-1.35zM423.8 337.9h1.35v1.35h-1.35zM423.4 352.6h1.35v1.35h-1.35zM423.5 372.3h1.35v1.35h-1.35zM423.1 325.5h1.35v1.35h-1.35zM423.0 367.4h1.35v1.35h-1.35zM423.5 337.8h1.35v1.35h-1.35zM423.7 334.5h1.35v1.35h-1.35zM423.1 328.9h1.35v1.35h-1.35zM422.9 348.7h1.35v1.35h-1.35zM423.0 357.6h1.35v1.35h-1.35zM423.7 338.0h1.35v1.35h-1.35zM478.6 333.2h1.35v1.35h-1.35zM472.3 336.1h1.35v1.35h-1.35zM479.5 339.7h1.35v1.35h-1.35zM481.0 340.5h1.35v1.35h-1.35zM512.6 289.0h1.35v1.35h-1.35zM461.5 347.0h1.35v1.35h-1.35zM474.2 348.7h1.35v1.35h-1.35zM477.8 350.7h1.35v1.35h-1.35zM482.7 348.7h1.35v1.35h-1.35zM479.1 353.1h1.35v1.35h-1.35zM471.8 353.6h1.35v1.35h-1.35zM481.5 355.1h1.35v1.35h-1.35zM471.8 357.5h1.35v1.35h-1.35zM477.8 358.0h1.35v1.35h-1.35zM465.7 361.6h1.35v1.35h-1.35zM468.1 362.4h1.35v1.35h-1.35zM470.5 363.3h1.35v1.35h-1.35zM472.3 360.9h1.35v1.35h-1.35zM481.0 360.4h1.35v1.35h-1.35zM460.8 368.9h1.35v1.35h-1.35zM472.3 373.8h1.35v1.35h-1.35zM479.1 375.0h1.35v1.35h-1.35z" fill="#151515"/>
<path d="M449.0 288.3V381.7M422.6 346.1H513.6" stroke="#555" stroke-width="1.15" fill="none"/>
<path d="M422.6 288.3V381.7H514.1" stroke="#111" stroke-width="1.25" fill="none"/>
<path d="M422.60 382.10v2.2M422.20 381.70h-2.2M429.49 382.10v1.4M422.20 374.67h-1.4M433.51 382.10v1.4M422.20 370.56h-1.4M436.37 382.10v1.4M422.20 367.64h-1.4M438.59 382.10v1.4M422.20 365.38h-1.4M440.40 382.10v1.4M422.20 363.53h-1.4M441.93 382.10v1.4M422.20 361.97h-1.4M443.26 382.10v1.4M422.20 360.61h-1.4M444.43 382.10v1.4M422.20 359.42h-1.4M445.48 382.10v2.2M422.20 358.35h-2.2M452.36 382.10v1.4M422.20 351.32h-1.4M456.39 382.10v1.4M422.20 347.21h-1.4M459.25 382.10v1.4M422.20 344.29h-1.4M461.46 382.10v1.4M422.20 342.03h-1.4M463.28 382.10v1.4M422.20 340.18h-1.4M464.81 382.10v1.4M422.20 338.62h-1.4M466.13 382.10v1.4M422.20 337.26h-1.4M467.30 382.10v1.4M422.20 336.07h-1.4M468.35 382.10v2.2M422.20 335.00h-2.2M475.24 382.10v1.4M422.20 327.97h-1.4M479.26 382.10v1.4M422.20 323.86h-1.4M482.12 382.10v1.4M422.20 320.94h-1.4M484.34 382.10v1.4M422.20 318.68h-1.4M486.15 382.10v1.4M422.20 316.83h-1.4M487.68 382.10v1.4M422.20 315.27h-1.4M489.01 382.10v1.4M422.20 313.91h-1.4M490.18 382.10v1.4M422.20 312.72h-1.4M491.23 382.10v2.2M422.20 311.65h-2.2M498.11 382.10v1.4M422.20 304.62h-1.4M502.14 382.10v1.4M422.20 300.51h-1.4M505.00 382.10v1.4M422.20 297.59h-1.4M507.21 382.10v1.4M422.20 295.33h-1.4M509.03 382.10v1.4M422.20 293.48h-1.4M510.56 382.10v1.4M422.20 291.92h-1.4M511.88 382.10v1.4M422.20 290.56h-1.4M513.05 382.10v1.4M422.20 289.37h-1.4M514.10 382.10v2.2M422.20 288.30h-2.2" stroke="#222" stroke-width="0.8" fill="none"/>
<text transform="translate(417.3,392.2) scale(0.82,1)" font-family='"Liberation Sans", sans-serif' font-size="8.6" fill="#111" stroke="#111" stroke-width="0.15">10<tspan font-size="5.8" dx="1.4" dy="-3.3">0</tspan></text>
<text transform="translate(417.6,388.1) rotate(-90) scale(0.9,1)" font-family='"Liberation Sans", sans-serif' font-size="8.4" fill="#111" stroke="#111" stroke-width="0.15">10<tspan font-size="5.8" dx="0.8" dy="-3.1">0</tspan></text>
<text transform="translate(440.2,392.2) scale(0.82,1)" font-family='"Liberation Sans", sans-serif' font-size="8.6" fill="#111" stroke="#111" stroke-width="0.15">10<tspan font-size="5.8" dx="1.4" dy="-3.3">1</tspan></text>
<text transform="translate(417.6,364.8) rotate(-90) scale(0.9,1)" font-family='"Liberation Sans", sans-serif' font-size="8.4" fill="#111" stroke="#111" stroke-width="0.15">10<tspan font-size="5.8" dx="0.8" dy="-3.1">1</tspan></text>
<text transform="translate(463.1,392.2) scale(0.82,1)" font-family='"Liberation Sans", sans-serif' font-size="8.6" fill="#111" stroke="#111" stroke-width="0.15">10<tspan font-size="5.8" dx="1.4" dy="-3.3">2</tspan></text>
<text transform="translate(417.6,341.4) rotate(-90) scale(0.9,1)" font-family='"Liberation Sans", sans-serif' font-size="8.4" fill="#111" stroke="#111" stroke-width="0.15">10<tspan font-size="5.8" dx="0.8" dy="-3.1">2</tspan></text>
<text transform="translate(485.9,392.2) scale(0.82,1)" font-family='"Liberation Sans", sans-serif' font-size="8.6" fill="#111" stroke="#111" stroke-width="0.15">10<tspan font-size="5.8" dx="1.4" dy="-3.3">3</tspan></text>
<text transform="translate(417.6,318.0) rotate(-90) scale(0.9,1)" font-family='"Liberation Sans", sans-serif' font-size="8.4" fill="#111" stroke="#111" stroke-width="0.15">10<tspan font-size="5.8" dx="0.8" dy="-3.1">3</tspan></text>
<text transform="translate(506.6,392.2) scale(0.82,1)" font-family='"Liberation Sans", sans-serif' font-size="8.6" fill="#111" stroke="#111" stroke-width="0.15">10<tspan font-size="5.8" dx="1.4" dy="-3.3">4</tspan></text>
<text transform="translate(417.6,297.0) rotate(-90) scale(0.9,1)" font-family='"Liberation Sans", sans-serif' font-size="8.4" fill="#111" stroke="#111" stroke-width="0.15">10<tspan font-size="5.8" dx="0.8" dy="-3.1">4</tspan></text>
<text x="445.85" y="403.65" font-family='"Liberation Sans", sans-serif' font-size="9.8" textLength="43.00" lengthAdjust="spacingAndGlyphs" fill="#111" stroke="#111" stroke-width="0.38">NK1.1 PE</text>
<text transform="translate(403.70,348.80) rotate(-90)" font-family='"Liberation Sans", sans-serif' font-size="9.2" textLength="50.63" lengthAdjust="spacingAndGlyphs" fill="#111" stroke="#111" stroke-width="0.3">B220 APC</text>
</svg>
</body></html>
